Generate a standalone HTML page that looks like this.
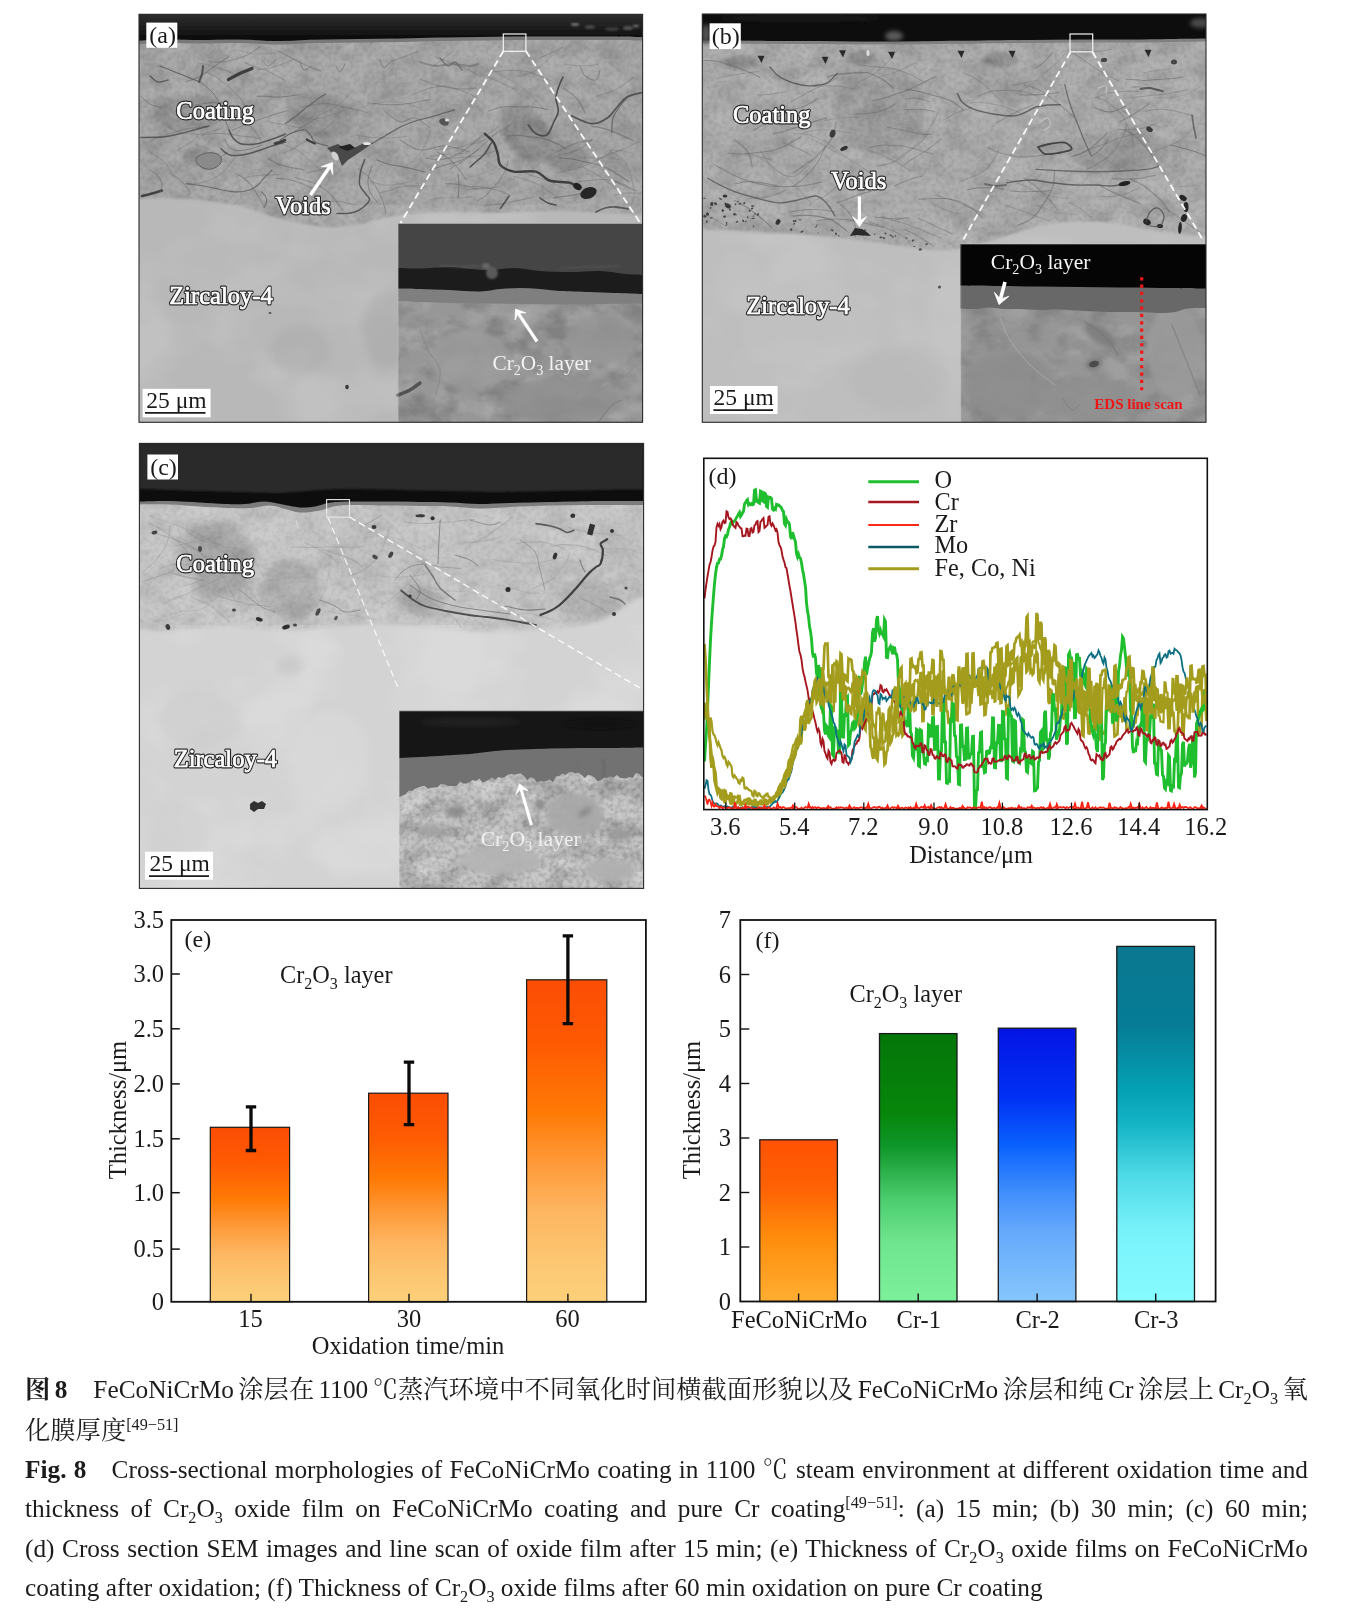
<!DOCTYPE html>
<html lang="zh"><head><meta charset="utf-8"><title>Fig. 8</title>
<style>
html,body{margin:0;padding:0;background:#fff;}
body{width:1346px;height:1610px;position:relative;overflow:hidden;font-family:"Liberation Serif","Noto Serif CJK SC",serif;color:#1a1a1a;}
svg{position:absolute;left:0;top:0;}
#wrap{position:absolute;left:0;top:0;width:1346px;height:1610px;will-change:transform;opacity:0.999;}
svg text{font-family:"Liberation Serif","Noto Serif CJK SC",serif;}
.cap{position:absolute;left:25px;width:1283px;font-size:25.3px;line-height:30px;height:30px;white-space:nowrap;text-align:justify;text-align-last:justify;color:#1c1c1c;}
.cap.last{text-align-last:left;}
.cap sub{font-size:16.2px;vertical-align:baseline;position:relative;top:6px;line-height:0;}
.cap sup{font-size:16.2px;vertical-align:baseline;position:relative;top:-9px;line-height:0;}
.g{display:inline-block;width:4.4px;}.g2{display:inline-block;width:26px;}
.cn{font-family:"Liberation Serif","Noto Serif CJK SC",serif;}
.ol{fill:#222;stroke:#262626;stroke-width:2.9px;stroke-linejoin:round;font-size:24.5px;}
.ol2{fill:#fff;stroke:#fff;stroke-width:0.7px;stroke-linejoin:round;font-size:24.5px;}
</style></head><body><div id="wrap">

<svg width="1346" height="1610" viewBox="0 0 1346 1610">
<defs>
<filter id="nzD" x="0" y="0" width="100%" height="100%" color-interpolation-filters="sRGB">
<feTurbulence type="fractalNoise" baseFrequency="0.035 0.05" numOctaves="4" seed="7" result="t"/>
<feColorMatrix type="matrix" values="0 0 0 0 0  0 0 0 0 0  0 0 0 0 0  3.2 0 0 0 -1.35"/>
</filter>
<filter id="nzL" x="0" y="0" width="100%" height="100%" color-interpolation-filters="sRGB">
<feTurbulence type="fractalNoise" baseFrequency="0.03 0.04" numOctaves="4" seed="23" result="t"/>
<feColorMatrix type="matrix" values="0 0 0 0 1  0 0 0 0 1  0 0 0 0 1  0 3.2 0 0 -1.35"/>
</filter>
<filter id="nzF" x="0" y="0" width="100%" height="100%" color-interpolation-filters="sRGB">
<feTurbulence type="fractalNoise" baseFrequency="0.22" numOctaves="2" seed="5"/>
<feColorMatrix type="matrix" values="0 0 0 0 0  0 0 0 0 0  0 0 0 0 0  2.6 0 0 0 -1.0"/>
</filter>
<filter id="nzS" x="0" y="0" width="100%" height="100%" color-interpolation-filters="sRGB">
<feTurbulence type="fractalNoise" baseFrequency="0.012 0.016" numOctaves="3" seed="41"/>
<feColorMatrix type="matrix" values="0 0 0 0 1  0 0 0 0 1  0 0 0 0 1  3.0 0 0 0 -1.2"/>
</filter>
<filter id="b05"><feGaussianBlur stdDeviation="0.6"/></filter>
<filter id="b1"><feGaussianBlur stdDeviation="1.1"/></filter>
<filter id="b2"><feGaussianBlur stdDeviation="2.2"/></filter>
<filter id="b4"><feGaussianBlur stdDeviation="4"/></filter>
</defs>
<clipPath id="cpa"><rect x="139.0" y="14.3" width="503.6" height="408.0"/></clipPath>
<linearGradient id="gta" x1="0" y1="0" x2="0" y2="1"><stop offset="0" stop-color="#2e2e2e"/><stop offset="0.55" stop-color="#1c1c1c"/><stop offset="1" stop-color="#070707"/></linearGradient>
<g clip-path="url(#cpa)">
<rect x="139.0" y="14.3" width="503.6" height="408.0" fill="#a8a8a8"/>
<g filter="url(#b2)">
<path d="M500.0 110.0C503.3 109.0 513.3 102.7 520.0 104.0C526.7 105.3 534.7 112.0 540.0 118.0C545.3 124.0 550.7 133.7 552.0 140.0C553.3 146.3 552.0 152.7 548.0 156.0C544.0 159.3 534.0 161.0 528.0 160.0C522.0 159.0 516.3 155.0 512.0 150.0C507.7 145.0 504.0 136.7 502.0 130.0C500.0 123.3 500.3 113.3 500.0 110.0" fill="#8e8e8e"/>
<path d="M540.0 150.0C543.3 148.3 553.3 140.7 560.0 140.0C566.7 139.3 575.0 142.7 580.0 146.0C585.0 149.3 590.8 156.0 590.0 160.0C589.2 164.0 581.7 169.0 575.0 170.0C568.3 171.0 555.8 169.3 550.0 166.0C544.2 162.7 541.7 152.7 540.0 150.0" fill="#909090"/>
<path d="M612.0 100.0C617.2 98.7 637.8 82.0 643.0 92.0C648.2 102.0 647.2 150.3 643.0 160.0C638.8 169.7 623.5 155.8 618.0 150.0C612.5 144.2 611.0 133.3 610.0 125.0C609.0 116.7 611.7 104.2 612.0 100.0" fill="#a4a4a4"/>
<path d="M150.0 100.0C156.7 99.2 177.5 94.2 190.0 95.0C202.5 95.8 220.8 100.0 225.0 105.0C229.2 110.0 224.2 120.8 215.0 125.0C205.8 129.2 180.8 134.2 170.0 130.0C159.2 125.8 153.3 105.0 150.0 100.0" fill="#949494"/>
<ellipse cx="196" cy="155" rx="14" ry="8" fill="#8e8e8e" fill-opacity="1" transform="rotate(-10 196 155)"/>
<ellipse cx="320" cy="115" rx="35" ry="22" fill="#969696" fill-opacity="1" transform="rotate(20 320 115)"/>
</g>
<rect x="139.0" y="36" width="503.6" height="200" filter="url(#nzD)" opacity="0.09"/>
<rect x="139.0" y="36" width="503.6" height="200" filter="url(#nzL)" opacity="0.08"/>
<rect x="139.0" y="36" width="503.6" height="200" filter="url(#nzF)" opacity="0.07"/>
<path d="M100.0 199.0C106.5 199.0 129.0 199.2 139.0 199.0C149.0 198.8 152.3 198.0 160.0 198.0C167.7 198.0 176.7 198.5 185.0 199.0C193.3 199.5 201.7 200.0 210.0 201.0C218.3 202.0 226.3 203.0 235.0 205.0C243.7 207.0 253.7 210.5 262.0 213.0C270.3 215.5 277.0 218.0 285.0 220.0C293.0 222.0 301.7 223.8 310.0 225.0C318.3 226.2 326.7 227.2 335.0 227.0C343.3 226.8 351.7 225.5 360.0 224.0C368.3 222.5 376.7 219.7 385.0 218.0C393.3 216.3 399.2 215.0 410.0 214.0C420.8 213.0 435.0 212.2 450.0 212.0C465.0 211.8 484.2 213.2 500.0 213.0C515.8 212.8 530.0 211.2 545.0 211.0C560.0 210.8 577.5 211.5 590.0 212.0C602.5 212.5 611.2 213.5 620.0 214.0C628.8 214.5 633.0 214.8 643.0 215.0C653.0 215.2 673.8 215.0 680.0 215.0L680.0 460.0L100.0 460.0Z" fill="#b8b8b8" filter="url(#b1)"/>
<rect x="139.0" y="205" width="503.6" height="218" filter="url(#nzS)" opacity="0.13"/>
<g filter="url(#b4)" opacity="0.55"><ellipse cx="390" cy="330" rx="28" ry="40" fill="#a8a8a8" fill-opacity="1"/><ellipse cx="300" cy="350" rx="30" ry="25" fill="#acacac" fill-opacity="1"/><ellipse cx="200" cy="260" rx="40" ry="20" fill="#bbbbbb" fill-opacity="1"/><ellipse cx="330" cy="300" rx="20" ry="30" fill="#bcbcbc" fill-opacity="1"/></g>
<ellipse cx="347" cy="387" rx="1.8" ry="2.2" fill="#3a3a3a" fill-opacity="1"/>
<ellipse cx="270" cy="313" rx="1.5" ry="1" fill="#555" fill-opacity="1"/>
<g filter="url(#b05)">
<g fill="none" stroke="#5a5a5a" stroke-linecap="round"><path d="M420.1 79.1C422.0 79.8 428.3 82.3 431.6 83.5C434.9 84.6 436.6 85.1 440.0 85.9C443.5 86.7 447.8 87.8 452.3 88.3C456.9 88.8 463.2 88.9 467.1 88.9C471.0 88.9 474.2 88.2 475.6 88.1" stroke-width="1.18" stroke-opacity="0.33"/><path d="M367.4 102.8C368.6 103.0 372.1 103.3 374.8 103.6C377.5 103.8 380.0 104.3 383.5 104.5C386.9 104.7 391.2 104.9 395.5 104.7C399.8 104.5 404.8 104.2 409.3 103.5C413.8 102.9 418.9 101.5 422.3 100.9C425.7 100.2 428.5 99.9 429.8 99.7" stroke-width="0.93" stroke-opacity="0.46"/><path d="M244.4 62.6C245.5 63.0 248.6 64.4 251.0 65.4C253.3 66.3 256.0 67.3 258.7 68.2C261.3 69.1 264.1 69.8 266.7 70.8C269.3 71.9 271.0 72.8 274.0 74.5C277.1 76.1 283.4 79.7 285.2 80.7" stroke-width="1.10" stroke-opacity="0.35"/><path d="M380.3 192.6C382.3 192.1 389.1 190.4 392.3 189.5C395.6 188.6 396.8 187.7 399.6 187.2C402.5 186.7 405.4 186.2 409.4 186.3C413.3 186.4 421.0 187.4 423.3 187.6" stroke-width="0.72" stroke-opacity="0.42"/><path d="M513.3 176.2C515.6 176.9 522.6 178.7 527.1 180.2C531.7 181.8 536.3 183.3 540.5 185.6C544.8 187.9 549.6 191.9 552.7 194.0C555.8 196.1 558.1 197.5 559.1 198.2" stroke-width="0.85" stroke-opacity="0.33"/><path d="M168.7 127.4C170.1 128.0 174.6 130.0 177.2 131.0C179.8 132.1 181.8 133.1 184.5 133.6C187.2 134.1 190.7 134.0 193.5 134.1C196.3 134.2 197.8 134.7 201.4 134.1C205.0 133.6 211.7 131.7 215.2 130.7C218.7 129.6 221.1 128.2 222.3 127.7" stroke-width="1.27" stroke-opacity="0.23"/><path d="M445.1 183.6C446.6 183.6 450.5 183.4 454.0 183.8C457.5 184.2 462.3 185.1 466.1 185.9C470.0 186.8 475.2 188.3 477.0 188.8" stroke-width="1.30" stroke-opacity="0.30"/><path d="M467.2 189.6C469.1 189.4 474.4 189.0 478.3 188.7C482.2 188.4 487.2 188.1 490.6 187.8C494.0 187.5 497.2 187.1 498.5 186.9" stroke-width="1.25" stroke-opacity="0.28"/><path d="M463.6 178.3C465.4 177.9 470.9 177.0 474.7 176.0C478.5 175.0 483.3 173.6 486.5 172.3C489.8 171.0 491.8 170.0 494.5 168.2C497.1 166.3 501.2 162.4 502.5 161.3" stroke-width="0.66" stroke-opacity="0.24"/><path d="M614.1 195.2C616.1 194.8 621.8 193.4 626.2 193.1C630.7 192.7 638.4 193.2 640.9 193.2" stroke-width="0.66" stroke-opacity="0.46"/><path d="M431.3 67.3C433.1 66.1 438.6 62.6 442.0 60.1C445.4 57.6 450.2 53.4 451.8 52.1" stroke-width="0.79" stroke-opacity="0.44"/><path d="M186.3 81.7C188.5 80.9 195.7 78.6 199.7 76.6C203.7 74.5 207.4 71.2 210.3 69.2C213.2 67.2 213.9 66.8 217.0 64.6C220.0 62.5 226.6 57.8 228.6 56.5" stroke-width="1.20" stroke-opacity="0.41"/><path d="M564.3 64.5C566.7 64.7 574.4 65.4 578.7 65.6C583.0 65.8 587.1 65.8 590.3 65.6C593.6 65.3 596.9 64.3 598.2 64.0" stroke-width="0.66" stroke-opacity="0.39"/><path d="M483.5 205.6C484.9 205.5 488.7 205.3 491.6 205.0C494.5 204.8 496.9 204.7 500.8 204.1C504.8 203.4 511.5 201.7 515.4 201.0C519.3 200.2 521.0 199.9 524.1 199.3C527.2 198.7 532.4 197.6 534.0 197.2" stroke-width="0.74" stroke-opacity="0.45"/><path d="M583.1 167.2C584.4 167.9 588.4 170.0 591.0 171.4C593.6 172.8 596.1 174.0 598.9 175.7C601.6 177.4 604.4 179.4 607.2 181.6C610.0 183.7 613.2 186.5 615.6 188.6C618.1 190.7 621.0 193.3 622.1 194.2" stroke-width="0.65" stroke-opacity="0.47"/><path d="M450.4 155.8C452.9 155.9 461.5 156.0 465.2 156.2C468.9 156.4 470.1 156.7 472.6 157.1C475.1 157.6 477.3 158.0 480.1 158.9C482.9 159.8 486.8 161.4 489.4 162.7C491.9 164.0 493.4 165.4 495.6 166.6C497.7 167.9 501.0 169.5 502.0 170.1" stroke-width="0.63" stroke-opacity="0.26"/><path d="M615.3 181.4C617.2 182.3 622.9 185.2 626.4 186.8C629.8 188.3 634.5 190.0 636.1 190.7" stroke-width="1.06" stroke-opacity="0.46"/><path d="M206.6 72.1C208.1 72.9 213.3 75.2 215.9 76.7C218.4 78.2 219.1 79.0 221.7 81.1C224.4 83.2 228.5 86.3 231.6 89.2C234.6 92.1 237.8 95.1 240.2 98.3C242.7 101.5 245.4 106.9 246.4 108.6" stroke-width="0.73" stroke-opacity="0.48"/><path d="M256.9 69.5C258.9 69.3 264.5 69.1 268.8 68.2C273.2 67.2 278.9 65.4 283.2 63.8C287.5 62.3 292.7 59.7 294.6 58.9" stroke-width="0.88" stroke-opacity="0.33"/><path d="M507.3 136.0C509.5 135.9 517.0 135.4 520.4 135.5C523.8 135.6 524.6 136.2 527.8 136.6C531.0 136.9 536.0 137.1 539.4 137.7C542.8 138.3 544.9 139.0 548.1 140.2C551.3 141.3 555.4 143.0 558.5 144.5C561.6 146.0 565.2 148.3 566.6 149.1" stroke-width="1.26" stroke-opacity="0.49"/><path d="M406.2 165.4C407.4 164.6 410.7 162.8 413.2 160.5C415.7 158.3 418.8 155.5 421.2 151.9C423.7 148.2 426.3 142.2 427.8 138.6C429.2 135.0 429.6 131.8 430.0 130.4" stroke-width="0.98" stroke-opacity="0.24"/><path d="M312.8 199.8C314.0 199.9 317.3 200.2 319.8 200.4C322.3 200.7 324.3 200.9 328.0 201.1C331.7 201.4 337.7 201.2 342.1 201.9C346.5 202.6 352.4 204.6 354.4 205.1" stroke-width="0.81" stroke-opacity="0.46"/><path d="M294.5 177.7C296.7 178.3 304.3 179.9 307.9 181.0C311.5 182.1 312.7 182.4 316.1 184.2C319.5 186.1 325.3 189.5 328.4 192.2C331.6 194.8 332.9 197.0 335.3 200.0C337.6 202.9 341.3 208.3 342.5 209.9" stroke-width="1.33" stroke-opacity="0.33"/><path d="M394.4 181.9C396.1 182.4 401.4 184.4 404.5 185.0C407.6 185.6 410.0 185.5 413.1 185.6C416.3 185.7 419.4 185.7 423.5 185.7C427.5 185.8 435.1 185.9 437.4 186.0" stroke-width="0.64" stroke-opacity="0.27"/><path d="M201.9 135.2C204.0 134.9 209.9 133.8 214.3 133.5C218.7 133.3 223.8 133.5 228.4 133.9C233.0 134.4 238.2 135.6 241.8 136.1C245.5 136.6 247.2 136.3 250.2 136.8C253.2 137.2 258.3 138.4 259.9 138.7" stroke-width="0.77" stroke-opacity="0.46"/><path d="M553.2 157.5C554.8 157.1 559.5 155.7 562.8 154.8C566.1 153.8 569.5 153.2 573.0 151.8C576.6 150.4 580.9 148.4 584.1 146.3C587.3 144.3 590.8 140.7 592.2 139.5" stroke-width="1.11" stroke-opacity="0.32"/><path d="M581.6 157.8C583.3 157.8 587.4 157.8 591.5 157.8C595.6 157.8 601.6 157.6 606.3 157.8C610.9 158.1 617.3 159.2 619.5 159.5" stroke-width="0.85" stroke-opacity="0.30"/><path d="M244.9 177.8C246.4 177.5 250.5 176.4 254.0 175.9C257.4 175.4 262.3 175.1 265.6 175.0C268.9 174.8 271.2 175.0 273.7 174.8C276.3 174.7 279.7 174.2 280.9 174.0" stroke-width="0.93" stroke-opacity="0.31"/><path d="M276.2 141.0C277.9 141.8 283.0 144.3 286.3 145.7C289.6 147.2 293.1 148.1 296.0 149.7C298.9 151.2 301.5 153.2 303.8 155.1C306.1 157.0 307.3 158.6 310.0 161.0C312.7 163.4 316.8 166.8 320.1 169.6C323.3 172.4 327.8 176.5 329.3 177.9" stroke-width="0.85" stroke-opacity="0.30"/><path d="M307.1 172.9C308.6 172.6 313.4 171.6 316.1 170.9C318.9 170.2 321.0 169.5 323.5 168.9C326.0 168.4 329.9 168.0 331.2 167.8" stroke-width="0.91" stroke-opacity="0.42"/><path d="M301.7 118.3C303.5 118.4 309.0 119.1 312.5 119.0C316.0 118.8 319.6 118.3 322.7 117.6C325.8 116.9 328.5 115.7 331.1 114.9C333.7 114.0 335.0 113.8 338.4 112.5C341.8 111.2 349.5 108.2 351.7 107.3" stroke-width="0.77" stroke-opacity="0.33"/><path d="M579.3 181.6C580.9 181.4 584.9 180.8 589.0 180.5C593.0 180.1 599.0 179.3 603.6 179.5C608.2 179.7 612.5 180.4 616.5 181.5C620.4 182.5 625.7 185.1 627.6 185.8" stroke-width="0.83" stroke-opacity="0.45"/><path d="M488.0 77.1C489.9 77.9 495.8 80.3 499.3 81.9C502.9 83.6 506.6 85.6 509.4 86.9C512.2 88.3 515.0 89.5 516.1 90.0" stroke-width="0.72" stroke-opacity="0.36"/><path d="M491.7 72.0C494.0 71.7 501.4 70.7 505.5 70.4C509.7 70.2 512.9 70.2 516.6 70.4C520.4 70.6 524.1 70.8 527.9 71.7C531.7 72.6 535.6 74.5 539.4 76.0C543.2 77.6 548.9 80.2 550.8 81.0" stroke-width="1.04" stroke-opacity="0.35"/><path d="M199.3 63.4C200.5 63.6 203.4 63.8 206.6 64.6C209.9 65.5 215.8 67.3 218.9 68.3C222.1 69.2 223.0 69.5 225.6 70.5C228.2 71.5 233.0 73.6 234.5 74.2" stroke-width="0.72" stroke-opacity="0.40"/><path d="M434.9 149.7C437.1 149.6 443.9 149.3 448.5 148.8C453.0 148.3 458.4 147.6 462.1 146.7C465.7 145.8 467.9 144.4 470.4 143.3C472.8 142.2 473.9 141.6 477.0 139.9C480.1 138.2 485.4 135.4 489.1 133.1C492.7 130.9 497.2 127.6 498.9 126.6" stroke-width="1.24" stroke-opacity="0.26"/><path d="M172.9 174.7C174.7 176.1 180.6 180.3 183.5 183.4C186.4 186.5 189.3 191.5 190.4 193.2" stroke-width="1.03" stroke-opacity="0.36"/><path d="M449.6 169.0C450.8 168.4 454.1 166.6 456.8 165.0C459.5 163.4 462.4 161.9 465.7 159.5C469.1 157.0 474.1 152.7 477.0 150.3C480.0 147.9 480.9 146.9 483.2 144.9C485.5 142.8 488.3 140.6 491.0 138.0C493.8 135.4 498.3 130.8 499.7 129.3" stroke-width="1.22" stroke-opacity="0.28"/><path d="M517.4 76.9C519.1 76.4 524.6 75.3 527.7 74.2C530.8 73.1 533.3 71.9 536.0 70.2C538.7 68.4 541.0 66.0 543.8 63.4C546.6 60.9 551.4 56.3 552.9 54.9" stroke-width="0.80" stroke-opacity="0.34"/><path d="M426.6 158.3C428.6 158.5 435.1 159.5 438.7 159.4C442.3 159.4 445.0 159.2 448.3 158.2C451.6 157.3 455.0 155.7 458.6 153.7C462.2 151.7 467.0 148.3 469.9 146.0C472.9 143.8 474.4 142.1 476.5 140.2C478.5 138.4 481.4 135.8 482.3 135.0" stroke-width="1.24" stroke-opacity="0.35"/><path d="M492.7 70.1C494.5 71.1 499.6 74.0 503.5 76.2C507.4 78.4 513.0 81.5 516.1 83.4C519.3 85.4 520.6 86.2 522.7 87.8C524.7 89.4 526.1 90.8 528.6 93.2C531.1 95.6 534.9 99.4 537.7 102.2C540.4 105.1 543.8 109.0 545.0 110.4" stroke-width="0.64" stroke-opacity="0.30"/><path d="M267.9 158.6C269.9 159.6 276.1 163.2 279.7 164.7C283.3 166.2 285.6 166.6 289.6 167.4C293.6 168.2 301.2 169.3 303.5 169.6" stroke-width="1.34" stroke-opacity="0.40"/><path d="M448.6 158.0C450.5 158.0 455.4 158.1 459.5 157.8C463.7 157.5 469.6 156.9 473.6 156.4C477.5 155.9 479.6 155.9 483.5 154.9C487.3 153.9 494.4 151.1 496.6 150.4" stroke-width="0.94" stroke-opacity="0.31"/><path d="M558.8 157.8C561.0 158.0 567.5 158.3 572.0 159.0C576.6 159.7 582.4 161.3 586.0 162.1C589.7 162.9 590.4 162.7 593.9 163.7C597.3 164.7 602.4 166.0 606.6 167.9C610.8 169.8 615.4 172.9 619.1 175.1C622.7 177.4 626.9 180.5 628.5 181.5" stroke-width="1.18" stroke-opacity="0.49"/><path d="M287.8 134.5C289.1 133.9 292.6 132.4 295.8 130.7C299.0 129.0 303.0 126.4 306.8 124.1C310.6 121.8 316.5 118.0 318.4 116.7" stroke-width="1.28" stroke-opacity="0.30"/><path d="M358.0 168.9C359.5 170.0 364.6 173.0 367.1 175.4C369.7 177.8 371.4 180.4 373.3 183.2C375.3 186.0 377.3 188.7 378.9 192.0C380.6 195.2 382.1 199.2 383.3 202.8C384.5 206.3 385.5 211.6 386.0 213.4" stroke-width="1.15" stroke-opacity="0.37"/><path d="M178.1 149.8C179.4 149.0 183.4 146.7 185.7 145.3C188.0 143.9 189.8 142.9 191.9 141.2C194.0 139.5 197.1 136.1 198.2 135.1" stroke-width="0.83" stroke-opacity="0.36"/><path d="M563.0 88.0C564.0 88.6 566.5 89.8 569.1 91.9C571.7 94.1 576.0 97.5 578.7 101.0C581.4 104.5 584.0 111.0 585.1 113.0" stroke-width="1.23" stroke-opacity="0.36"/><path d="M473.2 186.1C475.7 186.4 483.5 187.2 488.0 188.1C492.5 188.9 496.7 190.1 500.2 191.2C503.7 192.4 507.5 194.2 509.0 194.7" stroke-width="0.77" stroke-opacity="0.45"/><path d="M282.9 153.3C284.6 152.6 290.1 150.4 293.0 148.9C295.8 147.5 297.4 146.2 300.0 144.6C302.5 143.0 305.7 141.1 308.4 139.4C311.1 137.6 313.2 136.2 316.2 134.2C319.3 132.2 323.6 129.8 326.5 127.6C329.3 125.5 332.0 122.3 333.1 121.2" stroke-width="0.98" stroke-opacity="0.30"/><path d="M430.2 199.5C431.9 199.2 437.4 198.4 440.4 198.1C443.4 197.8 444.5 197.8 448.1 197.8C451.6 197.7 457.6 197.8 461.6 197.7C465.6 197.5 470.4 197.0 472.2 196.9" stroke-width="0.79" stroke-opacity="0.30"/><path d="M278.0 50.9C280.0 51.9 286.3 55.2 289.9 57.1C293.5 59.0 296.1 60.6 299.5 62.2C302.9 63.9 306.7 65.4 310.2 66.8C313.7 68.2 318.8 70.1 320.6 70.8" stroke-width="1.28" stroke-opacity="0.36"/><path d="M370.2 181.0C371.4 181.4 374.2 182.8 377.1 183.5C380.1 184.2 383.9 185.1 388.0 185.1C392.1 185.2 397.9 184.2 401.8 183.6C405.7 183.0 409.8 181.7 411.4 181.4" stroke-width="0.72" stroke-opacity="0.36"/><path d="M230.1 112.9C232.2 114.0 239.1 116.9 243.0 119.8C247.0 122.6 250.7 126.3 253.7 129.8C256.8 133.3 260.1 139.0 261.4 140.8" stroke-width="1.04" stroke-opacity="0.34"/><path d="M238.0 174.8C239.1 175.5 242.3 176.9 244.7 178.9C247.0 180.8 249.6 183.0 252.1 186.4C254.6 189.7 257.8 195.5 259.7 198.8C261.6 202.2 263.0 205.1 263.7 206.3" stroke-width="1.06" stroke-opacity="0.42"/><path d="M426.1 158.1C428.2 157.6 434.5 155.6 438.9 155.0C443.3 154.3 447.8 154.5 452.4 154.2C457.1 153.9 464.5 153.3 466.9 153.1" stroke-width="0.69" stroke-opacity="0.42"/><path d="M196.9 165.2C198.8 164.8 204.3 164.3 208.1 163.0C211.9 161.7 216.4 159.0 219.7 157.3C222.9 155.5 226.1 153.5 227.4 152.7" stroke-width="1.20" stroke-opacity="0.36"/><path d="M149.0 151.8C150.7 152.9 156.4 156.2 159.3 158.2C162.1 160.3 163.8 160.9 166.1 164.0C168.5 167.2 172.2 174.8 173.4 177.0" stroke-width="0.71" stroke-opacity="0.39"/><path d="M470.6 144.6C472.0 144.2 476.0 143.2 479.1 141.9C482.3 140.7 486.1 138.9 489.5 137.2C492.8 135.6 496.5 133.6 499.3 132.1C502.0 130.5 503.8 129.6 506.0 128.0C508.3 126.4 511.7 123.4 512.9 122.5" stroke-width="1.33" stroke-opacity="0.25"/><path d="M301.3 107.2C303.1 106.8 308.5 105.6 312.2 105.0C315.8 104.4 319.6 103.8 323.2 103.7C326.8 103.6 330.2 103.8 333.7 104.4C337.1 105.0 339.6 106.2 343.8 107.1C347.9 108.1 354.4 109.1 358.4 110.1C362.3 111.0 365.8 112.3 367.3 112.8" stroke-width="0.79" stroke-opacity="0.44"/><path d="M232.3 130.3C234.1 129.5 239.1 127.1 243.0 125.5C246.8 123.9 251.5 122.1 255.4 120.7C259.3 119.4 263.1 118.4 266.3 117.3C269.5 116.2 271.0 115.4 274.6 114.3C278.2 113.2 285.8 111.1 288.1 110.5" stroke-width="0.96" stroke-opacity="0.49"/><path d="M594.6 160.2C596.1 159.7 600.8 158.3 603.5 157.2C606.2 156.1 607.9 154.8 610.8 153.6C613.7 152.4 617.2 151.7 621.1 150.1C625.0 148.5 631.0 145.5 634.3 143.9C637.6 142.4 639.8 141.2 640.9 140.6" stroke-width="0.74" stroke-opacity="0.42"/><path d="M195.1 144.3C197.2 145.0 204.1 147.3 207.5 148.7C211.0 150.0 212.6 150.4 215.7 152.6C218.7 154.9 222.7 158.8 225.9 162.2C229.0 165.6 232.2 169.1 234.4 172.8C236.7 176.6 238.2 180.3 239.3 184.6C240.4 188.9 240.8 196.3 241.1 198.6" stroke-width="0.68" stroke-opacity="0.24"/><path d="M276.1 178.4C278.4 178.6 285.9 179.0 289.7 179.7C293.5 180.4 295.2 181.2 299.0 182.6C302.8 184.0 310.1 187.3 312.3 188.2" stroke-width="1.06" stroke-opacity="0.42"/><path d="M355.5 135.0C356.7 135.2 359.6 135.8 362.5 136.2C365.4 136.6 369.3 137.2 372.9 137.5C376.5 137.8 380.2 138.0 383.9 138.1C387.6 138.1 391.4 137.9 395.1 137.6C398.8 137.3 404.3 136.5 406.2 136.3" stroke-width="0.89" stroke-opacity="0.30"/><path d="M523.6 172.2C525.5 172.9 531.5 175.5 535.0 176.8C538.5 178.0 541.1 178.1 544.8 179.5C548.6 181.0 554.0 183.6 557.5 185.3C561.1 186.9 564.8 188.7 566.2 189.3" stroke-width="0.71" stroke-opacity="0.48"/><path d="M177.0 110.6C179.1 109.8 185.2 107.0 189.3 105.9C193.5 104.8 198.4 104.5 201.7 104.0C205.0 103.5 206.7 103.2 209.3 102.9C211.9 102.6 214.6 102.4 217.2 102.4C219.8 102.4 223.5 102.9 224.8 103.0" stroke-width="1.07" stroke-opacity="0.42"/><path d="M539.0 58.4C540.7 57.6 546.2 55.2 549.0 54.0C551.9 52.7 553.7 51.9 556.0 50.8C558.3 49.7 561.6 47.8 562.7 47.2" stroke-width="0.75" stroke-opacity="0.49"/><path d="M488.7 111.1C490.1 110.6 494.1 109.1 496.9 108.4C499.6 107.7 501.5 107.0 505.4 106.7C509.3 106.5 516.2 107.0 520.2 107.0C524.2 107.1 526.4 106.8 529.4 106.9C532.5 107.1 535.3 107.4 538.3 107.8C541.4 108.3 546.3 109.3 547.9 109.6" stroke-width="1.00" stroke-opacity="0.47"/><path d="M310.6 117.7C312.4 117.1 317.4 115.7 321.2 114.1C324.9 112.6 329.3 110.7 333.2 108.2C337.1 105.8 341.5 102.2 344.6 99.4C347.6 96.6 350.5 92.6 351.7 91.3" stroke-width="0.63" stroke-opacity="0.42"/><path d="M477.2 200.8C478.5 200.0 482.3 198.4 485.0 196.2C487.7 193.9 491.3 189.6 493.5 187.2C495.8 184.8 496.5 184.5 498.5 181.8C500.4 179.1 503.5 174.5 505.1 170.9C506.8 167.4 507.7 162.3 508.2 160.6" stroke-width="0.84" stroke-opacity="0.48"/><path d="M184.7 183.9C185.9 183.9 188.5 184.2 192.0 183.9C195.4 183.5 201.0 183.1 205.4 181.7C209.9 180.3 214.8 178.0 218.6 175.4C222.5 172.8 225.5 169.3 228.3 166.1C231.1 163.0 234.3 157.9 235.5 156.2" stroke-width="0.80" stroke-opacity="0.36"/><path d="M591.9 126.3C593.3 126.6 597.1 127.0 600.3 127.7C603.6 128.5 607.3 129.5 611.3 130.9C615.3 132.4 620.5 134.8 624.1 136.4C627.7 138.0 631.4 139.8 632.9 140.5" stroke-width="1.29" stroke-opacity="0.47"/><path d="M435.7 56.9C437.3 57.5 441.4 59.0 445.1 60.5C448.8 62.0 454.3 64.2 458.0 65.7C461.8 67.1 463.7 67.4 467.4 69.2C471.1 71.1 478.1 75.5 480.2 76.8" stroke-width="0.80" stroke-opacity="0.43"/><path d="M596.4 96.2C598.0 95.7 602.5 94.4 605.8 93.3C609.0 92.2 612.9 91.2 615.9 89.7C619.0 88.1 621.1 86.2 624.0 84.2C626.9 82.2 631.9 78.9 633.5 77.8" stroke-width="1.19" stroke-opacity="0.26"/><path d="M366.0 105.8C368.3 105.3 376.2 103.4 380.0 102.7C383.8 102.0 385.5 101.8 388.6 101.7C391.7 101.6 395.3 101.8 398.6 102.2C402.0 102.6 404.8 103.1 408.6 104.2C412.4 105.3 419.1 108.0 421.2 108.7" stroke-width="0.72" stroke-opacity="0.31"/><path d="M209.9 61.6C211.3 61.7 215.3 62.3 218.3 62.2C221.3 62.2 224.1 61.9 227.8 61.2C231.6 60.4 236.8 58.9 240.7 57.6C244.5 56.3 247.5 55.0 250.9 53.1C254.2 51.2 259.2 47.4 260.8 46.2" stroke-width="1.05" stroke-opacity="0.38"/><path d="M555.6 152.3C557.8 151.3 564.7 148.1 568.7 146.4C572.7 144.7 575.8 143.2 579.6 142.2C583.4 141.2 589.5 140.7 591.5 140.4" stroke-width="1.25" stroke-opacity="0.37"/><path d="M411.3 95.2C412.9 94.6 417.5 92.6 421.0 91.4C424.4 90.1 428.0 88.4 431.9 87.5C435.8 86.7 440.7 86.2 444.3 86.3C448.0 86.4 450.4 87.0 453.9 88.0C457.5 89.0 461.9 90.5 465.7 92.1C469.6 93.8 475.0 96.9 476.9 97.9" stroke-width="0.87" stroke-opacity="0.39"/><path d="M610.9 151.9C612.4 152.8 617.4 155.2 619.9 157.1C622.3 159.0 623.9 160.3 625.6 163.3C627.4 166.3 629.2 171.1 630.5 175.0C631.8 179.0 632.8 183.8 633.4 187.2C634.0 190.5 634.3 192.2 634.0 195.1C633.6 198.1 631.9 203.4 631.5 205.0" stroke-width="1.04" stroke-opacity="0.25"/><path d="M553.3 197.9C555.7 197.6 563.8 196.4 568.0 195.8C572.1 195.2 574.9 194.9 578.0 194.1C581.0 193.4 585.0 191.6 586.4 191.1" stroke-width="1.19" stroke-opacity="0.48"/><path d="M257.1 96.2C258.8 96.2 264.1 96.1 267.2 96.3C270.2 96.4 272.4 97.0 275.6 97.1C278.8 97.1 282.3 96.8 286.2 96.4C290.0 96.0 296.7 95.0 298.9 94.7" stroke-width="1.05" stroke-opacity="0.49"/><path d="M151.0 140.5C152.4 140.0 155.9 138.6 159.1 137.4C162.4 136.2 167.4 134.5 170.5 133.5C173.6 132.5 175.2 132.1 177.7 131.4C180.2 130.7 182.4 130.0 185.3 129.4C188.3 128.7 192.2 128.2 195.6 127.8C199.0 127.3 204.1 126.7 205.8 126.4" stroke-width="1.15" stroke-opacity="0.37"/><path d="M267.0 121.0C268.7 121.4 273.8 122.9 276.9 123.5C280.1 124.2 282.6 124.2 285.8 124.8C289.0 125.5 292.8 126.8 296.2 127.4C299.7 127.9 304.7 128.0 306.4 128.1" stroke-width="0.80" stroke-opacity="0.37"/><path d="M610.3 150.6C612.1 150.6 617.8 150.1 621.6 150.6C625.3 151.1 631.0 152.9 632.8 153.4" stroke-width="0.88" stroke-opacity="0.25"/><path d="M391.6 61.2C393.1 60.6 398.1 58.8 401.0 57.8C403.9 56.8 406.2 56.1 409.0 55.0C411.9 54.0 416.5 52.0 418.0 51.4" stroke-width="1.17" stroke-opacity="0.34"/><path d="M238.5 50.4C240.9 50.9 248.2 52.9 252.8 53.5C257.4 54.0 262.7 53.8 266.2 53.7C269.8 53.6 271.8 53.4 274.4 53.1C277.0 52.8 279.3 52.7 281.9 51.9C284.5 51.1 288.7 49.1 290.0 48.5" stroke-width="0.65" stroke-opacity="0.25"/><path d="M556.1 173.0C557.8 172.7 563.1 171.9 566.4 171.1C569.7 170.4 572.6 169.4 575.9 168.5C579.2 167.5 582.5 166.7 586.2 165.2C589.9 163.7 594.6 161.4 598.1 159.7C601.6 157.9 604.7 156.3 607.2 154.5C609.7 152.7 612.2 149.9 613.2 148.9" stroke-width="0.66" stroke-opacity="0.43"/></g>
<path d="M141.0 137.5C145.0 137.4 158.8 137.4 165.0 136.8C171.2 136.2 172.8 135.3 178.4 134.0C184.0 132.7 193.3 130.1 198.4 128.8C203.5 127.5 207.2 126.5 209.0 126.0" fill="none" stroke="#4e4e4e" stroke-width="1.5" stroke-opacity="0.85" stroke-linecap="round"/>
<path d="M229.0 130.0C229.7 131.3 231.2 135.8 233.0 138.0C234.8 140.2 237.3 142.4 240.0 143.5C242.7 144.6 245.9 144.5 249.0 144.5C252.1 144.5 255.4 144.2 258.6 143.5C261.8 142.8 264.6 141.6 268.0 140.5C271.4 139.4 275.8 137.9 278.7 136.8C281.6 135.7 284.3 134.5 285.4 134.0" fill="none" stroke="#4a4a4a" stroke-width="1.6" stroke-opacity="0.85" stroke-linecap="round"/>
<path d="M221.0 148.8C221.8 149.5 224.2 151.9 226.0 153.0C227.8 154.1 229.3 155.2 232.0 155.5C234.7 155.8 238.7 155.4 242.0 155.0C245.3 154.6 248.7 153.7 252.0 152.8C255.3 151.9 258.7 150.6 262.0 149.5C265.3 148.4 268.1 147.2 272.0 146.0C275.9 144.8 283.2 142.7 285.4 142.0" fill="none" stroke="#4a4a4a" stroke-width="1.5" stroke-opacity="0.85" stroke-linecap="round"/>
<path d="M225.0 140.0C225.8 141.3 227.8 146.2 230.0 148.0C232.2 149.8 234.7 150.3 238.0 150.5C241.3 150.7 246.0 149.9 250.0 149.0C254.0 148.1 260.0 145.7 262.0 145.0" fill="none" stroke="#666" stroke-width="1.0" stroke-opacity="0.6" stroke-linecap="round"/>
<path d="M275.0 143.5C275.8 143.2 278.3 142.6 280.0 142.0C281.7 141.4 284.2 140.3 285.0 140.0" fill="none" stroke="#333" stroke-width="2.6" stroke-opacity="0.9" stroke-linecap="round"/>
<path d="M196.0 158.0C197.3 157.2 201.0 154.3 204.0 153.5C207.0 152.7 211.2 152.4 214.0 153.0C216.8 153.6 220.0 155.2 221.0 157.0C222.0 158.8 221.5 162.0 220.0 164.0C218.5 166.0 214.8 168.3 212.0 169.0C209.2 169.7 205.5 169.0 203.0 168.0C200.5 167.0 198.2 164.7 197.0 163.0C195.8 161.3 196.2 158.8 196.0 158.0" fill="#8a8a8a" stroke="#5a5a5a" stroke-width="0.9"/>
<path d="M186.4 183.6C189.5 184.1 199.7 185.4 205.0 186.3C210.3 187.2 213.5 188.1 218.0 189.0C222.5 189.9 227.8 191.2 232.0 191.6C236.2 192.0 239.7 191.9 243.0 191.5C246.3 191.1 249.3 190.2 252.0 189.0C254.7 187.8 257.0 185.8 259.0 184.0C261.0 182.2 261.8 180.3 264.0 178.0C266.2 175.7 270.7 171.3 272.0 170.0" fill="none" stroke="#5a5a5a" stroke-width="1.1" stroke-opacity="0.75" stroke-linecap="round"/>
<path d="M261.3 191.6C261.9 192.2 264.1 194.2 265.0 195.5C265.9 196.8 266.4 198.3 266.6 199.7C266.8 201.1 266.4 202.7 266.0 204.0C265.6 205.3 264.3 207.1 264.0 207.7" fill="none" stroke="#5a5a5a" stroke-width="1.1" stroke-opacity="0.7" stroke-linecap="round"/>
<path d="M285.4 123.4C286.5 122.7 289.8 120.6 292.0 119.0C294.2 117.4 296.5 115.8 298.7 114.0C300.9 112.2 302.8 110.3 305.0 108.5C307.2 106.7 309.8 105.1 312.0 103.4C314.2 101.7 316.2 100.1 318.5 98.5C320.8 96.9 324.3 94.8 325.5 94.0" fill="none" stroke="#5a5a5a" stroke-width="1.2" stroke-opacity="0.75" stroke-linecap="round"/>
<path d="M306.8 139.5C307.5 139.9 309.7 141.1 311.0 141.8C312.3 142.5 314.2 143.2 314.8 143.5" fill="none" stroke="#333" stroke-width="2.2" stroke-opacity="0.9" stroke-linecap="round"/>
<path d="M280.0 140.0C282.0 138.8 287.8 134.7 292.0 133.0C296.2 131.3 301.8 129.5 305.0 130.0C308.2 130.5 309.3 134.0 311.0 136.0C312.7 138.0 312.2 140.3 315.0 142.0C317.8 143.7 325.8 145.3 328.0 146.0" fill="none" stroke="#555" stroke-width="1.2" stroke-opacity="0.75" stroke-linecap="round"/>
<path d="M372.0 143.5C374.2 142.2 380.4 138.7 385.0 136.0C389.6 133.3 394.8 129.7 399.6 127.3C404.4 124.9 409.0 123.2 414.0 121.5C419.0 119.8 424.8 118.6 429.5 117.3C434.2 116.0 437.8 114.8 442.0 113.5C446.2 112.2 452.4 110.4 454.5 109.8" fill="none" stroke="#555" stroke-width="1.3" stroke-opacity="0.75" stroke-linecap="round"/>
<path d="M364.6 159.8C363.9 161.8 361.3 167.8 360.5 172.0C359.7 176.2 358.9 181.2 359.6 184.7C360.4 188.2 363.3 190.5 365.0 193.0C366.7 195.5 369.9 197.3 369.6 199.7C369.3 202.1 365.5 205.4 363.0 207.5C360.5 209.6 357.5 211.0 354.7 212.0C351.9 213.0 348.9 213.3 346.0 213.5C343.1 213.7 338.5 213.4 337.0 213.4" fill="none" stroke="#4a4a4a" stroke-width="1.5" stroke-opacity="0.85" stroke-linecap="round"/>
<path d="M372.0 166.0C371.3 168.3 368.3 175.7 368.0 180.0C367.7 184.3 368.5 188.3 370.0 192.0C371.5 195.7 375.8 200.3 377.0 202.0" fill="none" stroke="#666" stroke-width="1.0" stroke-opacity="0.6" stroke-linecap="round"/>
<path d="M377.0 160.0C379.2 160.8 385.4 163.3 390.0 164.5C394.6 165.7 400.4 166.2 404.6 167.0C408.8 167.8 411.7 168.7 415.0 169.5C418.3 170.3 422.9 171.6 424.5 172.0" fill="none" stroke="#5e5e5e" stroke-width="1.1" stroke-opacity="0.7" stroke-linecap="round"/>
<path d="M437.0 152.0C438.8 153.0 444.5 155.3 448.0 158.0C451.5 160.7 455.0 164.3 458.0 168.0C461.0 171.7 464.7 178.0 466.0 180.0" fill="none" stroke="#666" stroke-width="1.0" stroke-opacity="0.6" stroke-linecap="round"/>
<path d="M141.0 96.0C142.5 97.3 146.5 102.0 150.0 104.0C153.5 106.0 160.0 107.3 162.0 108.0" fill="none" stroke="#666" stroke-width="1.0" stroke-opacity="0.6" stroke-linecap="round"/>
<path d="M150.0 76.0C151.3 77.0 155.0 81.3 158.0 82.0C161.0 82.7 166.3 80.3 168.0 80.0" fill="none" stroke="#4e4e4e" stroke-width="1.4" stroke-opacity="0.8" stroke-linecap="round"/>
<path d="M228.4 79.5C230.3 78.5 236.1 75.3 240.0 73.5C243.9 71.7 250.0 69.3 252.0 68.5" fill="none" stroke="#3a3a3a" stroke-width="3.2" stroke-opacity="0.95" stroke-linecap="round"/>
<path d="M160.0 66.0C162.5 67.0 170.0 70.0 175.0 72.0C180.0 74.0 185.8 76.3 190.0 78.0C194.2 79.7 198.3 81.3 200.0 82.0" fill="none" stroke="#555" stroke-width="1.2" stroke-opacity="0.8" stroke-linecap="round"/>
<path d="M203.0 66.0C202.8 67.3 202.7 71.3 202.0 74.0C201.3 76.7 199.5 80.7 199.0 82.0" fill="none" stroke="#444" stroke-width="2.0" stroke-opacity="0.85" stroke-linecap="round"/>
<path d="M142.0 196.0C143.7 195.6 148.7 194.4 152.0 193.5C155.3 192.6 160.3 191.0 162.0 190.5" fill="none" stroke="#383838" stroke-width="2.4" stroke-opacity="0.9" stroke-linecap="round"/>
<path d="M200.0 82.0C202.0 83.7 208.7 88.3 212.0 92.0C215.3 95.7 218.0 100.0 220.0 104.0C222.0 108.0 222.5 111.7 224.0 116.0C225.5 120.3 228.2 127.7 229.0 130.0" fill="none" stroke="#666" stroke-width="1.0" stroke-opacity="0.65" stroke-linecap="round"/>
<path d="M150.0 170.0C151.3 171.0 156.0 173.7 158.0 176.0C160.0 178.3 161.7 181.3 162.0 184.0C162.3 186.7 160.3 190.7 160.0 192.0" fill="none" stroke="#666" stroke-width="1.0" stroke-opacity="0.6" stroke-linecap="round"/>
<path d="M300.0 62.0C300.7 63.3 302.0 69.3 304.0 70.0C306.0 70.7 310.7 66.7 312.0 66.0" fill="none" stroke="#666" stroke-width="1.0" stroke-opacity="0.6" stroke-linecap="round"/>
<path d="M336.0 66.0C336.7 67.0 338.5 72.3 340.0 72.0C341.5 71.7 344.2 65.3 345.0 64.0" fill="none" stroke="#666" stroke-width="1.0" stroke-opacity="0.6" stroke-linecap="round"/>
<path d="M262.0 60.0C263.0 61.0 265.7 66.0 268.0 66.0C270.3 66.0 274.7 61.0 276.0 60.0" fill="none" stroke="#6a6a6a" stroke-width="1.0" stroke-opacity="0.6" stroke-linecap="round"/>
<path d="M380.0 60.0C380.7 61.3 382.3 67.7 384.0 68.0C385.7 68.3 389.0 63.0 390.0 62.0" fill="none" stroke="#666" stroke-width="1.0" stroke-opacity="0.6" stroke-linecap="round"/>
<path d="M327 148 L338 144 L347 150 L356 147 L366 142 L373 143 L360 152 L348 160 L342 166 L338 156 L331 152 Z" fill="#4a4a4a"/>
<path d="M338 147 L347 151 L355 148 L350 144 Z" fill="#222"/>
<ellipse cx="367" cy="143.5" rx="4" ry="1.6" fill="#e8e8e8" fill-opacity="1"/>
<ellipse cx="335" cy="156" rx="3" ry="5" fill="#d0d0d0" fill-opacity="1" transform="rotate(-30 335 156)"/>
<path d="M484.7 133.7C486.2 135.2 491.5 139.0 493.7 142.6C495.9 146.2 496.9 151.3 498.0 155.0C499.1 158.7 497.7 162.2 500.3 165.0C502.9 167.8 507.8 170.5 513.7 171.6C519.7 172.7 530.0 170.1 536.0 171.6C542.0 173.1 543.8 178.7 549.4 180.5C555.0 182.3 564.8 181.6 569.4 182.7C574.0 183.8 575.7 186.3 577.0 187.0" fill="none" stroke="#3a3a3a" stroke-width="2.4" stroke-opacity="0.95" stroke-linecap="round"/>
<ellipse cx="588.5" cy="193" rx="8.5" ry="5.5" fill="#262626" fill-opacity="1" transform="rotate(-20 588.5 193)"/>
<ellipse cx="577.5" cy="186.5" rx="4.5" ry="3.2" fill="#222" fill-opacity="1" transform="rotate(30 577.5 186.5)"/>
<path d="M528.2 124.8C529.5 126.3 532.9 132.0 536.0 133.7C539.1 135.4 544.0 136.8 547.0 134.8C550.0 132.9 551.9 125.9 553.8 122.0C555.7 118.1 557.9 115.4 558.3 111.4C558.7 107.4 555.9 102.2 556.0 98.0C556.1 93.8 557.8 89.5 559.0 86.0C560.2 82.5 562.3 78.5 563.0 77.0" fill="none" stroke="#444" stroke-width="1.6" stroke-opacity="0.9" stroke-linecap="round"/>
<path d="M571.7 116.0C575.0 117.3 585.8 123.4 591.7 123.7C597.6 124.0 602.9 121.0 607.3 118.0C611.7 115.0 614.7 109.5 618.0 106.0C621.3 102.5 623.0 99.2 627.0 97.0C631.0 94.8 639.5 93.2 642.0 92.5" fill="none" stroke="#4a4a4a" stroke-width="1.7" stroke-opacity="0.9" stroke-linecap="round"/>
<path d="M611.8 133.0C612.0 130.5 611.6 122.5 613.0 118.0C614.4 113.5 617.7 109.3 620.0 106.0C622.3 102.7 625.8 99.3 627.0 98.0" fill="none" stroke="#5a5a5a" stroke-width="1.2" stroke-opacity="0.8" stroke-linecap="round"/>
<path d="M470.0 167.0C471.3 165.8 475.6 162.2 478.0 160.0C480.4 157.8 482.5 156.7 484.7 153.8C486.9 150.9 490.3 144.5 491.4 142.6" fill="none" stroke="#444" stroke-width="1.6" stroke-opacity="0.85" stroke-linecap="round"/>
<path d="M500.3 208.4C501.1 207.3 503.6 204.1 505.0 202.0C506.4 199.9 508.3 197.0 509.0 196.0" fill="none" stroke="#444" stroke-width="1.6" stroke-opacity="0.85" stroke-linecap="round"/>
<path d="M458.0 174.0C458.2 176.0 459.0 182.0 459.0 186.0C459.0 190.0 458.2 196.0 458.0 198.0" fill="none" stroke="#666" stroke-width="1.0" stroke-opacity="0.7" stroke-linecap="round"/>
<path d="M540.0 198.0C541.3 198.8 545.3 201.8 548.0 203.0C550.7 204.2 554.7 204.7 556.0 205.0" fill="none" stroke="#444" stroke-width="1.5" stroke-opacity="0.85" stroke-linecap="round"/>
<path d="M596.0 212.0C597.5 211.3 601.7 208.8 605.0 208.0C608.3 207.2 612.2 206.8 616.0 207.0C619.8 207.2 626.0 208.7 628.0 209.0" fill="none" stroke="#444" stroke-width="1.8" stroke-opacity="0.8" stroke-linecap="round"/>
<path d="M440.0 58.0C441.3 59.3 445.5 65.3 448.0 66.0C450.5 66.7 452.7 61.3 455.0 62.0C457.3 62.7 460.8 68.7 462.0 70.0" fill="none" stroke="#555" stroke-width="1.2" stroke-opacity="0.7" stroke-linecap="round"/>
<path d="M420.0 62.0C422.7 62.7 430.7 65.7 436.0 66.0C441.3 66.3 446.3 64.0 452.0 64.0C457.7 64.0 465.7 66.0 470.0 66.0C474.3 66.0 476.7 64.3 478.0 64.0" fill="none" stroke="#666" stroke-width="2.0" stroke-opacity="0.5" stroke-linecap="round"/>
<ellipse cx="444" cy="122" rx="5" ry="3.5" fill="#555" fill-opacity="1" transform="rotate(20 444 122)"/>
<ellipse cx="447" cy="120" rx="2" ry="1.5" fill="#ddd" fill-opacity="1"/>
<path d="M386.0 112.0C388.3 113.7 395.2 121.0 400.0 122.0C404.8 123.0 410.0 117.0 415.0 118.0C420.0 119.0 427.5 126.3 430.0 128.0" fill="none" stroke="#666" stroke-width="1.0" stroke-opacity="0.6" stroke-linecap="round"/>
<path d="M400.0 140.0C403.3 141.7 412.5 149.0 420.0 150.0C427.5 151.0 436.7 145.7 445.0 146.0C453.3 146.3 465.8 151.0 470.0 152.0" fill="none" stroke="#686868" stroke-width="1.0" stroke-opacity="0.6" stroke-linecap="round"/>
<path d="M430.0 170.0C432.5 169.2 439.7 166.7 445.0 165.0C450.3 163.3 456.5 162.5 462.0 160.0C467.5 157.5 475.3 151.7 478.0 150.0" fill="none" stroke="#666" stroke-width="1.0" stroke-opacity="0.6" stroke-linecap="round"/>
<path d="M580.0 66.0C580.8 67.7 582.3 73.7 585.0 76.0C587.7 78.3 593.5 81.0 596.0 80.0C598.5 79.0 599.3 71.7 600.0 70.0" fill="none" stroke="#666" stroke-width="1.0" stroke-opacity="0.6" stroke-linecap="round"/>
</g>
<path d="M139.0 44.0C144.2 43.8 159.8 43.1 170.0 43.0C180.2 42.9 188.3 43.5 200.0 43.5C211.7 43.5 226.7 42.8 240.0 43.0C253.3 43.2 266.7 44.5 280.0 44.5C293.3 44.5 306.7 43.3 320.0 43.0C333.3 42.7 346.7 42.7 360.0 42.5C373.3 42.3 386.7 42.2 400.0 42.0C413.3 41.8 426.7 41.2 440.0 41.0C453.3 40.8 466.7 40.7 480.0 40.5C493.3 40.3 506.7 40.1 520.0 40.0C533.3 39.9 546.7 40.0 560.0 40.0C573.3 40.0 586.2 39.9 600.0 40.0C613.8 40.1 635.8 40.4 643.0 40.5L643.0 14.0L139.0 14.0Z" fill="#787878" filter="url(#b05)"/>
<path d="M139.0 40.5C144.2 40.3 159.8 39.6 170.0 39.5C180.2 39.4 188.3 40.0 200.0 40.0C211.7 40.0 226.7 39.3 240.0 39.5C253.3 39.7 266.7 41.0 280.0 41.0C293.3 41.0 306.7 39.8 320.0 39.5C333.3 39.2 346.7 39.2 360.0 39.0C373.3 38.8 386.7 38.8 400.0 38.5C413.3 38.2 426.7 37.8 440.0 37.5C453.3 37.2 466.7 37.2 480.0 37.0C493.3 36.8 506.7 36.6 520.0 36.5C533.3 36.4 546.7 36.5 560.0 36.5C573.3 36.5 586.2 36.4 600.0 36.5C613.8 36.6 635.8 36.9 643.0 37.0L643.0 14.0L139.0 14.0Z" fill="url(#gta)" filter="url(#b05)"/>
<g filter="url(#b1)"><ellipse cx="575" cy="24.5" rx="4" ry="1.4" fill="#777" fill-opacity="1"/><ellipse cx="590" cy="27" rx="5" ry="1.5" fill="#555" fill-opacity="1"/><ellipse cx="612" cy="29" rx="7" ry="2" fill="#3c3c3c" fill-opacity="1"/><ellipse cx="628" cy="28" rx="5" ry="2" fill="#555" fill-opacity="1"/><ellipse cx="636" cy="26" rx="3" ry="1.3" fill="#777" fill-opacity="1"/></g>
<rect x="398" y="223.4" width="244.6" height="198.9" fill="#979797"/>
<rect x="398" y="300" width="244.6" height="123" filter="url(#nzD)" opacity="0.14"/>
<rect x="398" y="300" width="244.6" height="123" filter="url(#nzL)" opacity="0.14"/>
<g filter="url(#b2)" opacity="0.8"><ellipse cx="560" cy="400" rx="60" ry="22" fill="#8e8e8e" fill-opacity="1"/><ellipse cx="470" cy="360" rx="40" ry="30" fill="#9c9c9c" fill-opacity="1"/><ellipse cx="600" cy="340" rx="35" ry="25" fill="#949494" fill-opacity="1"/><ellipse cx="523" cy="346" rx="5" ry="6" fill="#7e7e7e" fill-opacity="1"/></g>
<g filter="url(#b05)"><path d="M398.0 395.0C400.0 394.2 406.3 392.0 410.0 390.0C413.7 388.0 418.3 384.2 420.0 383.0" fill="none" stroke="#4a4a4a" stroke-width="3.5" stroke-opacity="0.9" stroke-linecap="round"/><path d="M420.0 330.0C421.3 333.3 424.7 343.3 428.0 350.0C431.3 356.7 438.7 362.5 440.0 370.0C441.3 377.5 436.7 390.8 436.0 395.0" fill="none" stroke="#7a7a7a" stroke-width="0.9" stroke-opacity="0.6" stroke-linecap="round"/><path d="M560.0 415.0C565.0 411.7 580.0 400.8 590.0 395.0C600.0 389.2 611.3 385.8 620.0 380.0C628.7 374.2 638.3 363.3 642.0 360.0" fill="none" stroke="#888" stroke-width="0.9" stroke-opacity="0.6" stroke-linecap="round"/><path d="M600.0 420.0C602.0 417.5 608.3 408.3 612.0 405.0C615.7 401.7 620.3 400.8 622.0 400.0" fill="none" stroke="#777" stroke-width="1.2" stroke-opacity="0.6" stroke-linecap="round"/></g>
<path d="M398.0 301.0C401.7 301.2 411.3 301.7 420.0 302.0C428.7 302.3 440.0 302.8 450.0 303.0C460.0 303.2 468.3 303.3 480.0 303.5C491.7 303.7 506.7 303.8 520.0 304.0C533.3 304.2 546.7 304.5 560.0 304.5C573.3 304.5 586.2 304.2 600.0 304.0C613.8 303.8 635.8 303.6 643.0 303.5L643.0 285.0L398.0 285.0Z" fill="#7f7f7f" filter="url(#b05)"/>
<path d="M398.0 288.5C401.7 288.6 411.3 288.8 420.0 289.0C428.7 289.2 440.0 289.6 450.0 290.0C460.0 290.4 471.7 291.7 480.0 291.5C488.3 291.3 493.3 289.6 500.0 289.0C506.7 288.4 513.3 288.0 520.0 288.0C526.7 288.0 533.3 288.5 540.0 289.0C546.7 289.5 551.7 290.5 560.0 291.0C568.3 291.5 580.8 291.7 590.0 292.0C599.2 292.3 606.2 292.7 615.0 293.0C623.8 293.3 638.3 293.8 643.0 294.0L643.0 260.0L398.0 260.0Z" fill="#1a1a1a" filter="url(#b05)"/>
<path d="M398.0 268.0C401.7 268.1 411.3 268.7 420.0 268.5C428.7 268.3 441.7 266.9 450.0 267.0C458.3 267.1 463.3 268.5 470.0 269.0C476.7 269.5 482.5 270.2 490.0 270.0C497.5 269.8 506.7 267.8 515.0 268.0C523.3 268.2 530.8 270.3 540.0 271.0C549.2 271.7 560.0 272.0 570.0 272.0C580.0 272.0 590.8 270.7 600.0 271.0C609.2 271.3 617.8 273.3 625.0 274.0C632.2 274.7 640.0 274.8 643.0 275.0L643.0 223.4L398.0 223.4Z" fill="#454545" filter="url(#b05)"/>
<g filter="url(#b1)"><ellipse cx="492" cy="273" rx="6" ry="6" fill="#5a5a5a" fill-opacity="1" transform="rotate(20 492 273)"/><ellipse cx="486" cy="266" rx="4" ry="3" fill="#666" fill-opacity="1"/><path d="M440.0 266.0C443.3 266.2 453.3 267.0 460.0 267.0C466.7 267.0 476.7 266.2 480.0 266.0" fill="none" stroke="#777" stroke-width="1.2" stroke-opacity="0.5" stroke-linecap="round"/><path d="M560.0 268.0C565.0 267.8 580.0 267.3 590.0 267.0C600.0 266.7 615.0 266.2 620.0 266.0" fill="none" stroke="#6a6a6a" stroke-width="1.2" stroke-opacity="0.5" stroke-linecap="round"/></g>
<path d="M398 422.3V223.4H642.6" fill="none" stroke="#bdbdbd" stroke-width="1" stroke-opacity="0.7"/>
<line x1="503.5" y1="51" x2="400.5" y2="223" stroke="#fff" stroke-opacity="0.95" stroke-width="1.8" stroke-dasharray="7 4"/>
<line x1="525.8" y1="51" x2="640" y2="222.5" stroke="#fff" stroke-opacity="0.95" stroke-width="1.8" stroke-dasharray="7 4"/>
<rect x="503.3" y="34" width="22.6" height="17.3" fill="none" stroke="#f4f4f4" stroke-width="1.2"/>
<path d="M310.5 195.0L329.7 166.7" stroke="#fff" stroke-width="3.4" fill="none" stroke-linecap="butt"/><path d="M332.5 162.5L332.8 174.5L329.7 166.7L321.3 166.7Z" fill="#fff" stroke="#fff" stroke-width="0.8" stroke-linejoin="round"/>
<path d="M537.0 341.5L518.0 312.9" stroke="#fff" stroke-width="3.2" fill="none" stroke-linecap="butt"/><path d="M515.5 309.0L525.8 312.9L518.0 312.9L515.1 320.0Z" fill="#fff" stroke="#fff" stroke-width="0.8" stroke-linejoin="round"/>
<text class="ol" x="176.3" y="118.8">Coating</text><text class="ol2" x="176.3" y="118.8">Coating</text>
<text class="ol" x="275.5" y="213.5">Voids</text><text class="ol2" x="275.5" y="213.5">Voids</text>
<text class="ol" x="169.3" y="304.3">Zircaloy-4</text><text class="ol2" x="169.3" y="304.3">Zircaloy-4</text>
<text x="492.5" y="370" font-size="21.3" fill="#f2f2f2" >Cr<tspan font-size="14.1" dy="5.3">2</tspan><tspan dy="-5.3">O</tspan><tspan font-size="14.1" dy="5.3">3</tspan><tspan dy="-5.3"> layer</tspan></text>
<rect x="146.3" y="22.6" width="31" height="25.2" fill="#fff"/><text x="149.3" y="43" font-size="24" fill="#1a1a1a">(a)</text>
<rect x="142.6" y="388.8" width="68" height="28.5" fill="#fff"/><text x="146.3" y="407.6" font-size="23.5" fill="#1a1a1a">25 μm</text><line x1="145" y1="412.9" x2="205.5" y2="412.9" stroke="#1a1a1a" stroke-width="1.7"/>
</g>
<rect x="139.0" y="14.3" width="503.6" height="408.0" fill="none" stroke="#2a2a2a" stroke-width="1.1"/>
<clipPath id="cpb"><rect x="702.3" y="14.0" width="503.7" height="408.3"/></clipPath>
<g clip-path="url(#cpb)">
<rect x="702.3" y="14.0" width="503.7" height="408.3" fill="#aeaeae"/>
<g filter="url(#b2)">
<ellipse cx="880" cy="110" rx="45" ry="45" fill="#a0a0a0" fill-opacity="1" transform="rotate(20 880 110)"/>
<ellipse cx="760" cy="150" rx="30" ry="22" fill="#a9a9a9" fill-opacity="1" transform="rotate(-10 760 150)"/>
<ellipse cx="1010" cy="80" rx="45" ry="22" fill="#a9a9a9" fill-opacity="1"/>
<ellipse cx="1120" cy="150" rx="50" ry="20" fill="#9c9c9c" fill-opacity="1"/>
<ellipse cx="1000" cy="60" rx="18" ry="8" fill="#8e8e8e" fill-opacity="1"/>
<ellipse cx="740" cy="62" rx="16" ry="7" fill="#909090" fill-opacity="1"/>
<ellipse cx="860" cy="58" rx="14" ry="7" fill="#909090" fill-opacity="1"/>
<ellipse cx="1100" cy="215" rx="45" ry="14" fill="#b0b0b0" fill-opacity="1"/>
<ellipse cx="1020" cy="205" rx="35" ry="12" fill="#aaaaaa" fill-opacity="1"/>
</g>
<rect x="702.3" y="36" width="503.7" height="220" filter="url(#nzD)" opacity="0.09"/>
<rect x="702.3" y="36" width="503.7" height="220" filter="url(#nzL)" opacity="0.08"/>
<rect x="702.3" y="36" width="503.7" height="220" filter="url(#nzF)" opacity="0.07"/>
<path d="M680.0 229.0C683.7 229.2 693.7 229.8 702.0 230.0C710.3 230.2 720.3 230.2 730.0 230.5C739.7 230.8 750.0 231.5 760.0 232.0C770.0 232.5 780.0 232.8 790.0 233.5C800.0 234.2 810.0 235.1 820.0 236.0C830.0 236.9 840.0 237.8 850.0 239.0C860.0 240.2 869.5 241.5 880.0 243.0C890.5 244.5 903.0 246.8 913.0 248.0C923.0 249.2 931.3 250.0 940.0 250.0C948.7 250.0 956.7 249.5 965.0 248.0C973.3 246.5 981.7 243.5 990.0 241.0C998.3 238.5 1006.7 235.5 1015.0 233.0C1023.3 230.5 1030.8 227.8 1040.0 226.0C1049.2 224.2 1060.0 222.7 1070.0 222.0C1080.0 221.3 1090.8 221.5 1100.0 222.0C1109.2 222.5 1116.7 223.7 1125.0 225.0C1133.3 226.3 1140.8 228.5 1150.0 230.0C1159.2 231.5 1170.7 233.0 1180.0 234.0C1189.3 235.0 1197.7 235.7 1206.0 236.0C1214.3 236.3 1226.0 236.0 1230.0 236.0L1230.0 460.0L680.0 460.0Z" fill="#bebebe" filter="url(#b1)"/>
<rect x="702.3" y="235" width="503.7" height="190" filter="url(#nzS)" opacity="0.10"/>
<g filter="url(#b4)" opacity="0.5"><ellipse cx="800" cy="330" rx="60" ry="40" fill="#c2c2c2" fill-opacity="1"/><ellipse cx="900" cy="380" rx="50" ry="30" fill="#b6b6b6" fill-opacity="1"/><ellipse cx="740" cy="280" rx="25" ry="30" fill="#c3c3c3" fill-opacity="1"/></g>
<ellipse cx="939.5" cy="287" rx="1.6" ry="1.6" fill="#555" fill-opacity="1"/>
<g filter="url(#b05)">
<g fill="none" stroke="#5a5a5a" stroke-linecap="round"><path d="M1071.2 157.0C1072.8 156.4 1077.6 154.9 1080.7 153.5C1083.9 152.0 1086.6 150.7 1090.0 148.4C1093.3 146.0 1098.0 141.9 1100.9 139.3C1103.8 136.7 1106.1 134.1 1107.2 133.0" stroke-width="1.17" stroke-opacity="0.40"/><path d="M795.7 121.6C797.8 121.6 805.0 121.9 808.4 121.9C811.7 121.9 812.9 121.6 815.7 121.4C818.4 121.2 820.9 121.1 824.6 120.6C828.4 120.0 834.8 118.6 838.3 118.1C841.8 117.6 842.1 117.7 845.7 117.6C849.2 117.5 857.3 117.5 859.6 117.5" stroke-width="0.66" stroke-opacity="0.30"/><path d="M788.2 212.3C790.3 212.0 796.8 210.8 800.6 210.3C804.4 209.8 806.9 209.5 811.0 209.5C815.1 209.5 821.3 209.8 825.2 210.2C829.1 210.6 832.9 211.5 834.4 211.7" stroke-width="0.96" stroke-opacity="0.43"/><path d="M1173.0 186.2C1175.2 186.2 1182.2 186.6 1186.1 186.4C1190.0 186.3 1194.6 185.5 1196.3 185.3" stroke-width="0.71" stroke-opacity="0.28"/><path d="M859.3 64.9C860.9 65.1 865.1 65.8 868.8 66.2C872.5 66.6 877.6 66.9 881.7 67.3C885.8 67.8 889.4 67.9 893.3 68.7C897.3 69.6 901.6 71.0 905.5 72.5C909.3 74.0 913.0 75.9 916.5 77.7C920.0 79.6 924.8 82.5 926.4 83.5" stroke-width="0.97" stroke-opacity="0.34"/><path d="M1125.9 79.1C1127.9 79.2 1134.5 79.7 1137.7 79.9C1141.0 80.1 1142.9 80.5 1145.5 80.5C1148.2 80.4 1151.1 79.9 1153.7 79.7C1156.4 79.6 1157.5 79.6 1161.2 79.3C1164.9 79.1 1172.3 78.6 1175.9 78.2C1179.5 77.9 1181.6 77.2 1182.8 77.0" stroke-width="1.12" stroke-opacity="0.44"/><path d="M802.3 133.5C804.1 133.0 809.7 131.2 812.9 130.6C816.2 129.9 818.5 129.7 821.8 129.7C825.0 129.6 829.5 129.9 832.5 130.1C835.6 130.4 836.8 130.6 840.0 131.2C843.2 131.7 849.8 132.9 851.8 133.2" stroke-width="1.03" stroke-opacity="0.23"/><path d="M904.5 229.5C906.0 230.2 910.1 231.7 913.7 233.7C917.3 235.7 922.8 239.1 926.1 241.2C929.4 243.4 932.3 245.5 933.5 246.3" stroke-width="1.03" stroke-opacity="0.36"/><path d="M962.8 72.9C964.2 73.5 968.2 74.5 971.5 76.3C974.9 78.2 979.6 81.1 983.1 83.8C986.5 86.5 989.2 89.4 992.3 92.3C995.5 95.3 1000.4 100.1 1002.0 101.7" stroke-width="0.93" stroke-opacity="0.35"/><path d="M728.1 153.2C730.6 153.3 738.5 154.0 742.9 154.0C747.3 153.9 750.1 153.3 754.5 152.8C758.8 152.4 764.5 152.0 768.8 151.2C773.2 150.4 777.2 149.1 780.5 147.9C783.7 146.7 784.9 146.1 788.2 144.3C791.6 142.4 798.6 138.3 800.6 137.1" stroke-width="1.13" stroke-opacity="0.41"/><path d="M1094.5 98.0C1096.7 97.2 1104.1 94.3 1107.5 93.3C1110.8 92.4 1111.4 92.7 1114.7 92.4C1118.0 92.0 1123.2 91.5 1127.2 91.3C1131.2 91.1 1136.9 91.1 1138.9 91.1" stroke-width="1.10" stroke-opacity="0.35"/><path d="M1163.9 207.9C1165.3 208.7 1169.6 211.0 1172.2 212.7C1174.8 214.4 1176.7 215.9 1179.6 218.0C1182.5 220.1 1186.2 222.8 1189.6 225.1C1193.0 227.5 1198.3 231.1 1200.1 232.3" stroke-width="0.84" stroke-opacity="0.45"/><path d="M1005.5 205.6C1007.0 206.1 1011.0 207.2 1014.8 208.5C1018.6 209.7 1024.2 211.5 1028.4 213.1C1032.7 214.6 1036.8 216.5 1040.3 217.8C1043.8 219.0 1047.9 220.2 1049.5 220.7" stroke-width="1.08" stroke-opacity="0.27"/><path d="M918.5 199.2C920.2 199.1 925.0 198.9 928.6 198.7C932.1 198.6 936.7 198.5 939.8 198.5C943.0 198.5 944.1 198.2 947.5 198.7C951.0 199.3 956.4 200.3 960.6 202.0C964.7 203.7 968.8 206.3 972.5 208.9C976.3 211.6 981.1 216.6 982.8 218.1" stroke-width="1.14" stroke-opacity="0.43"/><path d="M905.4 99.4C906.6 99.2 910.5 98.1 913.0 98.1C915.5 98.0 917.6 98.3 920.3 98.9C923.1 99.5 928.0 101.0 929.5 101.5" stroke-width="0.84" stroke-opacity="0.47"/><path d="M1083.7 171.0C1085.3 171.3 1089.8 172.5 1093.3 172.7C1096.8 173.0 1100.4 173.3 1104.5 172.7C1108.5 172.0 1113.6 170.2 1117.6 168.7C1121.6 167.2 1126.8 164.4 1128.6 163.6" stroke-width="0.64" stroke-opacity="0.27"/><path d="M760.0 158.5C761.6 159.5 766.4 162.2 769.7 164.4C773.0 166.6 776.6 169.3 779.7 171.7C782.7 174.0 785.6 176.2 788.2 178.4C790.7 180.7 792.3 182.3 795.0 185.2C797.8 188.2 802.0 192.9 804.8 196.1C807.6 199.3 810.8 203.0 811.9 204.4" stroke-width="0.67" stroke-opacity="0.37"/><path d="M987.7 147.3C989.1 148.0 992.7 150.3 995.6 151.5C998.6 152.6 1001.9 153.3 1005.4 154.1C1008.8 154.9 1012.3 156.0 1016.3 156.5C1020.4 156.9 1025.3 156.9 1030.0 156.6C1034.6 156.4 1040.4 155.7 1044.3 155.1C1048.2 154.5 1051.8 153.5 1053.3 153.1" stroke-width="1.32" stroke-opacity="0.32"/><path d="M782.4 142.3C783.9 142.9 787.9 144.4 791.5 145.9C795.1 147.5 800.7 149.7 804.1 151.4C807.5 153.1 810.6 155.2 811.9 156.0" stroke-width="1.14" stroke-opacity="0.31"/><path d="M906.2 89.6C907.8 89.8 911.9 89.9 915.6 90.7C919.3 91.4 924.9 92.9 928.7 93.9C932.4 95.0 934.9 95.7 938.3 96.8C941.8 97.8 946.3 98.8 949.6 100.2C952.8 101.7 955.5 103.7 957.8 105.3C960.1 106.9 962.6 109.2 963.5 110.0" stroke-width="1.03" stroke-opacity="0.48"/><path d="M1146.5 111.0C1147.8 110.7 1151.8 109.9 1154.5 109.7C1157.1 109.4 1159.1 109.2 1162.4 109.4C1165.8 109.6 1170.7 110.2 1174.6 110.9C1178.5 111.7 1182.7 113.0 1185.9 113.9C1189.2 114.8 1192.7 116.0 1194.1 116.4" stroke-width="0.73" stroke-opacity="0.49"/><path d="M747.7 198.8C750.1 198.7 757.6 198.5 762.2 197.8C766.7 197.1 770.9 196.1 775.0 194.7C779.0 193.4 784.5 190.7 786.4 189.9" stroke-width="1.07" stroke-opacity="0.33"/><path d="M773.7 133.7C775.5 133.3 781.8 132.1 784.8 131.3C787.8 130.4 789.2 129.4 791.7 128.7C794.2 127.9 796.9 127.4 799.6 126.6C802.2 125.8 804.6 124.9 807.5 123.9C810.4 122.9 813.9 121.6 817.0 120.6C820.2 119.6 824.9 118.5 826.5 118.1" stroke-width="1.18" stroke-opacity="0.42"/><path d="M1023.9 178.1C1025.1 178.9 1028.9 181.1 1031.1 182.7C1033.3 184.3 1035.3 185.9 1037.3 187.6C1039.2 189.4 1040.7 191.2 1042.7 193.1C1044.7 195.0 1046.7 196.3 1049.3 199.1C1051.8 201.9 1056.3 208.2 1057.8 210.0" stroke-width="1.10" stroke-opacity="0.32"/><path d="M897.0 157.5C898.2 156.8 901.6 155.2 904.3 153.4C906.9 151.7 910.1 149.4 913.1 146.7C916.0 144.1 919.3 140.5 921.9 137.6C924.5 134.8 926.6 132.6 928.6 129.7C930.7 126.7 932.8 122.9 934.3 120.0C935.9 117.1 937.3 113.4 938.0 112.0" stroke-width="0.67" stroke-opacity="0.44"/><path d="M894.8 185.9C896.6 185.1 901.8 182.7 905.2 181.3C908.6 180.0 912.2 178.6 915.1 177.7C917.9 176.9 920.9 176.4 922.0 176.1" stroke-width="1.17" stroke-opacity="0.35"/><path d="M792.9 173.0C795.0 171.6 801.2 167.6 805.2 164.8C809.2 162.0 813.8 158.5 816.9 155.9C819.9 153.3 821.1 151.9 823.4 149.2C825.8 146.5 829.1 142.6 831.0 139.5C832.8 136.5 833.6 133.9 834.5 131.1C835.3 128.3 835.7 124.0 836.0 122.6" stroke-width="1.32" stroke-opacity="0.34"/><path d="M1017.6 225.2C1019.2 224.6 1024.3 222.8 1027.1 221.3C1029.9 219.9 1031.7 218.9 1034.3 216.3C1036.9 213.6 1040.1 209.2 1042.8 205.2C1045.5 201.3 1048.6 196.0 1050.4 192.4C1052.2 188.8 1053.0 187.2 1053.7 183.5C1054.4 179.8 1054.4 172.5 1054.5 170.3" stroke-width="1.33" stroke-opacity="0.40"/><path d="M1006.7 180.2C1008.2 180.6 1012.0 181.1 1015.7 182.4C1019.3 183.7 1024.9 186.1 1028.7 187.9C1032.5 189.8 1034.7 191.1 1038.4 193.3C1042.1 195.6 1048.8 199.9 1050.8 201.2" stroke-width="0.93" stroke-opacity="0.31"/><path d="M734.3 200.6C736.4 201.7 743.4 205.2 746.8 207.3C750.2 209.4 752.0 211.0 754.9 213.2C757.8 215.5 761.4 218.2 764.2 220.6C767.1 223.0 770.7 226.7 772.0 227.9" stroke-width="1.18" stroke-opacity="0.48"/><path d="M1025.8 189.0C1027.9 189.5 1034.5 190.7 1038.6 191.9C1042.7 193.0 1047.2 195.0 1050.3 195.9C1053.4 196.9 1054.1 197.0 1057.3 197.4C1060.5 197.8 1067.3 198.1 1069.3 198.3" stroke-width="0.64" stroke-opacity="0.35"/><path d="M1086.9 169.5C1088.9 168.3 1095.5 165.2 1099.3 162.8C1103.1 160.4 1106.9 157.6 1109.6 155.2C1112.3 152.8 1113.7 151.0 1115.4 148.7C1117.2 146.4 1118.4 144.2 1119.9 141.4C1121.5 138.6 1123.8 134.6 1124.9 131.8C1126.0 129.1 1126.3 126.0 1126.6 124.8" stroke-width="0.77" stroke-opacity="0.46"/><path d="M1149.6 152.6C1150.8 152.2 1153.3 151.5 1156.6 150.3C1160.0 149.1 1165.9 147.1 1169.7 145.5C1173.5 143.9 1176.8 142.7 1179.7 140.8C1182.6 138.9 1185.1 136.5 1187.3 134.2C1189.5 132.0 1192.1 128.5 1193.1 127.4" stroke-width="1.00" stroke-opacity="0.24"/><path d="M943.3 120.1C945.3 119.0 952.3 115.0 955.6 113.4C958.9 111.8 960.5 111.3 962.9 110.5C965.3 109.7 968.8 108.8 970.0 108.4" stroke-width="0.91" stroke-opacity="0.35"/><path d="M1068.4 202.4C1070.4 203.4 1077.2 206.8 1080.1 208.5C1083.0 210.2 1083.8 210.8 1086.0 212.7C1088.3 214.5 1092.4 218.6 1093.7 219.7" stroke-width="0.97" stroke-opacity="0.30"/><path d="M1019.2 94.8C1021.0 94.8 1025.9 95.0 1030.0 94.9C1034.2 94.7 1039.4 94.5 1044.2 94.1C1049.1 93.7 1056.5 92.8 1059.0 92.5" stroke-width="1.27" stroke-opacity="0.39"/><path d="M866.9 150.0C868.7 150.6 873.7 151.8 877.5 153.3C881.3 154.8 885.9 157.1 889.7 159.0C893.6 160.8 897.2 162.5 900.6 164.5C904.0 166.5 908.6 169.8 910.2 170.8" stroke-width="1.06" stroke-opacity="0.25"/><path d="M837.4 201.7C839.1 203.2 845.0 208.3 847.6 211.2C850.2 214.0 851.6 216.6 852.9 219.0C854.1 221.5 854.8 222.6 855.2 225.7C855.6 228.7 855.4 235.2 855.5 237.1" stroke-width="1.04" stroke-opacity="0.40"/><path d="M1096.8 97.8C1098.4 98.4 1103.2 99.3 1106.7 101.5C1110.2 103.6 1115.1 108.3 1117.8 110.7C1120.4 113.1 1120.9 113.0 1122.7 115.8C1124.5 118.7 1126.9 124.2 1128.4 127.7C1129.9 131.1 1131.0 133.4 1131.8 136.5C1132.6 139.5 1133.0 144.4 1133.2 146.0" stroke-width="1.28" stroke-opacity="0.24"/><path d="M858.1 82.5C859.9 81.6 866.0 78.6 869.0 76.9C872.1 75.2 873.6 74.4 876.3 72.3C879.0 70.2 882.6 67.1 885.3 64.5C888.0 62.0 890.3 59.4 892.5 56.7C894.7 54.0 897.6 49.9 898.6 48.6" stroke-width="0.84" stroke-opacity="0.38"/><path d="M1144.3 72.6C1145.9 72.3 1150.8 71.5 1153.6 71.1C1156.5 70.6 1158.3 70.5 1161.5 70.1C1164.7 69.6 1171.0 68.7 1172.9 68.4" stroke-width="0.66" stroke-opacity="0.33"/><path d="M887.2 126.9C888.6 127.2 891.6 128.0 895.2 128.8C898.9 129.6 905.2 130.7 909.1 131.5C913.0 132.3 914.8 133.2 918.6 133.7C922.4 134.2 929.7 134.4 932.0 134.5" stroke-width="1.13" stroke-opacity="0.39"/><path d="M1121.9 110.4C1124.1 111.6 1130.8 115.5 1135.0 117.6C1139.3 119.8 1144.2 122.0 1147.4 123.3C1150.6 124.6 1151.6 124.7 1154.2 125.5C1156.9 126.4 1161.6 127.7 1163.1 128.2" stroke-width="0.73" stroke-opacity="0.31"/><path d="M874.9 216.9C876.5 217.1 880.9 217.8 884.3 218.1C887.8 218.4 891.6 218.9 895.8 218.9C899.9 218.8 906.9 218.0 909.1 217.8" stroke-width="1.01" stroke-opacity="0.46"/><path d="M1112.0 178.5C1113.8 178.6 1118.6 179.1 1122.9 179.1C1127.2 179.1 1134.1 178.7 1137.7 178.5C1141.4 178.2 1141.9 178.0 1144.8 177.5C1147.7 176.9 1153.4 175.7 1155.1 175.4" stroke-width="1.29" stroke-opacity="0.37"/><path d="M1098.0 183.9C1099.4 184.8 1102.8 187.2 1106.4 189.1C1110.1 190.9 1115.2 193.2 1119.7 195.1C1124.1 197.1 1129.8 199.2 1133.2 200.6C1136.6 202.0 1138.9 203.2 1140.1 203.7" stroke-width="1.18" stroke-opacity="0.43"/><path d="M970.8 102.9C972.3 102.8 976.0 102.2 979.8 102.4C983.5 102.7 989.1 103.5 993.1 104.2C997.1 104.8 1000.5 105.3 1003.6 106.2C1006.6 107.0 1007.6 107.7 1011.2 109.2C1014.7 110.7 1022.6 114.2 1024.9 115.2" stroke-width="0.98" stroke-opacity="0.25"/><path d="M869.3 147.5C871.6 147.1 879.5 145.4 883.1 145.1C886.7 144.8 888.3 145.5 890.9 145.5C893.5 145.6 895.7 145.1 898.7 145.5C901.7 145.8 904.9 146.5 909.0 147.4C913.0 148.4 919.3 150.2 923.1 151.3C927.0 152.3 930.3 153.2 931.8 153.6" stroke-width="1.20" stroke-opacity="0.34"/><path d="M793.6 133.6C795.6 133.7 802.3 133.7 805.9 134.2C809.4 134.8 812.0 136.0 814.8 137.1C817.7 138.1 819.9 138.8 823.2 140.6C826.5 142.4 831.2 145.5 834.4 147.8C837.6 150.2 841.1 153.6 842.5 154.7" stroke-width="0.91" stroke-opacity="0.27"/><path d="M1020.0 91.0C1021.7 90.0 1026.8 87.3 1030.1 85.1C1033.4 82.8 1036.6 80.0 1039.8 77.4C1042.9 74.8 1045.9 71.9 1048.9 69.4C1051.9 66.8 1054.6 65.1 1057.6 62.1C1060.6 59.1 1065.4 53.1 1066.9 51.3" stroke-width="0.82" stroke-opacity="0.31"/><path d="M792.7 186.2C794.0 185.3 797.4 183.7 800.4 181.2C803.4 178.7 807.7 174.5 810.6 171.3C813.5 168.1 815.6 165.4 817.7 162.2C819.8 159.0 821.9 154.9 823.1 152.1C824.4 149.3 825.1 146.5 825.5 145.3" stroke-width="1.07" stroke-opacity="0.35"/><path d="M881.2 216.2C883.0 216.9 888.6 219.2 892.2 220.3C895.8 221.4 899.2 221.8 902.9 223.0C906.7 224.2 911.7 226.2 914.7 227.3C917.8 228.4 919.2 228.8 921.4 229.7C923.6 230.6 924.8 231.3 928.0 232.6C931.2 234.0 938.7 237.0 940.8 237.8" stroke-width="1.02" stroke-opacity="0.33"/><path d="M757.2 95.0C758.8 94.9 763.4 95.0 767.0 94.6C770.7 94.3 775.7 93.4 779.0 92.9C782.2 92.4 785.3 91.9 786.6 91.7" stroke-width="0.93" stroke-opacity="0.35"/><path d="M1035.6 68.1C1037.0 67.1 1041.3 64.5 1044.1 62.0C1046.9 59.4 1051.1 54.3 1052.5 52.7" stroke-width="1.30" stroke-opacity="0.31"/><path d="M1011.8 85.3C1013.0 85.1 1015.9 84.9 1019.1 84.3C1022.3 83.7 1027.7 82.0 1030.9 81.4C1034.1 80.8 1037.1 80.7 1038.4 80.5" stroke-width="0.63" stroke-opacity="0.33"/><path d="M827.6 76.7C829.3 76.3 833.6 75.0 837.8 74.4C842.0 73.8 847.9 73.3 852.7 73.0C857.4 72.7 862.9 72.4 866.4 72.7C870.0 73.0 870.9 73.7 873.9 75.0C877.0 76.4 881.5 78.7 884.7 80.8C887.9 83.0 891.7 86.9 893.1 88.1" stroke-width="1.26" stroke-opacity="0.46"/><path d="M1132.0 87.1C1133.2 87.1 1136.2 86.9 1139.4 87.1C1142.6 87.3 1147.9 87.9 1151.0 88.5C1154.2 89.1 1156.9 90.3 1158.1 90.7" stroke-width="1.32" stroke-opacity="0.32"/><path d="M1080.0 50.0C1081.8 50.2 1087.6 50.9 1091.1 51.1C1094.6 51.3 1097.6 51.5 1101.0 51.2C1104.3 50.8 1109.6 49.4 1111.3 49.1" stroke-width="0.63" stroke-opacity="0.46"/><path d="M815.1 86.4C817.2 86.3 823.6 85.7 828.0 85.7C832.4 85.8 836.9 86.1 841.3 86.6C845.7 87.2 852.1 88.5 854.3 88.9" stroke-width="0.95" stroke-opacity="0.32"/><path d="M1073.0 156.1C1074.9 155.5 1080.5 153.7 1084.2 152.2C1087.8 150.7 1091.2 148.6 1094.9 147.1C1098.6 145.6 1103.1 144.7 1106.6 143.3C1110.2 142.0 1112.4 140.4 1116.2 139.0C1119.9 137.7 1125.4 136.2 1129.2 135.3C1133.0 134.4 1137.2 133.8 1138.8 133.5" stroke-width="1.05" stroke-opacity="0.29"/><path d="M904.9 164.1C906.8 162.8 912.7 158.7 916.3 156.4C920.0 154.1 924.1 152.0 926.9 150.2C929.7 148.3 930.9 147.2 933.3 145.3C935.7 143.4 940.0 139.7 941.4 138.6" stroke-width="1.04" stroke-opacity="0.37"/><path d="M1119.9 121.7C1121.5 120.8 1125.9 118.5 1129.6 116.4C1133.3 114.2 1138.9 111.1 1142.1 108.9C1145.4 106.8 1147.9 104.4 1149.0 103.5" stroke-width="1.14" stroke-opacity="0.42"/><path d="M753.8 130.1C755.5 129.1 760.3 126.3 764.1 124.2C768.0 122.1 773.1 119.4 776.8 117.5C780.6 115.6 783.8 114.1 786.6 112.9C789.3 111.7 792.3 110.8 793.5 110.4" stroke-width="1.23" stroke-opacity="0.41"/><path d="M856.2 113.5C857.4 113.6 859.6 114.1 863.2 113.9C866.9 113.6 874.2 112.7 878.0 112.0C881.8 111.2 882.8 110.8 885.9 109.3C888.9 107.8 894.5 104.2 896.2 103.1" stroke-width="1.13" stroke-opacity="0.36"/><path d="M903.8 109.8C905.4 109.7 909.9 109.6 913.2 109.5C916.4 109.5 919.6 109.2 923.2 109.5C926.8 109.9 932.6 111.1 934.5 111.5" stroke-width="0.98" stroke-opacity="0.41"/><path d="M778.4 110.7C779.9 110.7 784.4 111.2 787.2 111.0C790.0 110.7 792.7 109.8 795.2 109.1C797.8 108.4 799.9 108.0 802.6 106.9C805.3 105.9 808.6 104.2 811.2 102.8C813.8 101.4 816.9 99.1 818.0 98.3" stroke-width="1.13" stroke-opacity="0.37"/><path d="M836.8 202.5C838.2 202.0 841.9 201.1 845.4 199.8C849.0 198.5 853.6 196.2 857.9 194.8C862.3 193.3 869.1 191.7 871.4 191.1" stroke-width="1.21" stroke-opacity="0.36"/><path d="M1010.6 190.8C1012.2 190.9 1016.2 191.6 1020.3 191.7C1024.3 191.8 1031.1 191.6 1035.0 191.5C1038.9 191.4 1041.0 191.3 1043.7 191.2C1046.3 191.0 1049.5 190.6 1050.7 190.5" stroke-width="0.93" stroke-opacity="0.47"/><path d="M815.5 199.8C817.0 199.3 821.2 198.4 824.4 196.4C827.6 194.4 831.4 190.9 834.7 188.0C838.0 185.2 842.8 180.8 844.4 179.4" stroke-width="0.85" stroke-opacity="0.31"/><path d="M793.3 216.0C794.8 215.9 798.2 215.2 802.0 215.2C805.8 215.3 811.7 215.6 816.3 216.2C820.9 216.9 826.3 218.0 829.8 219.2C833.2 220.4 834.3 221.4 837.2 223.4C840.1 225.4 845.3 229.8 847.0 231.1" stroke-width="1.30" stroke-opacity="0.48"/><path d="M978.9 96.0C981.1 95.2 987.6 92.0 992.1 91.1C996.6 90.1 1001.1 90.4 1005.8 90.4C1010.6 90.5 1016.6 90.7 1020.6 91.2C1024.6 91.8 1027.0 92.9 1029.7 93.6C1032.4 94.4 1035.5 95.5 1036.7 95.9" stroke-width="1.29" stroke-opacity="0.29"/><path d="M706.5 215.5C708.1 216.2 713.1 218.5 716.2 220.2C719.2 221.8 723.2 224.6 724.6 225.4" stroke-width="0.79" stroke-opacity="0.42"/><path d="M872.9 100.7C875.2 100.2 882.1 98.6 886.4 97.3C890.7 96.0 895.0 94.4 898.7 93.1C902.4 91.8 905.4 91.0 908.6 89.7C911.7 88.4 914.9 86.7 917.8 85.3C920.6 83.8 922.5 82.6 925.5 81.2C928.5 79.7 934.1 77.4 935.8 76.6" stroke-width="1.10" stroke-opacity="0.45"/><path d="M716.9 78.4C719.1 77.9 725.4 76.5 729.8 75.7C734.2 74.9 738.9 74.1 743.5 73.4C748.2 72.7 755.4 71.8 757.8 71.5" stroke-width="0.70" stroke-opacity="0.46"/><path d="M1117.9 129.5C1120.2 129.5 1127.3 129.8 1131.6 129.6C1135.9 129.3 1139.9 128.9 1143.9 127.9C1147.9 126.9 1153.6 124.3 1155.6 123.6" stroke-width="1.26" stroke-opacity="0.29"/><path d="M877.5 166.4C879.6 165.8 886.6 164.5 890.4 163.1C894.2 161.7 896.8 160.4 900.1 158.3C903.4 156.1 906.7 153.2 910.3 150.5C913.9 147.7 918.4 144.4 921.4 141.5C924.5 138.7 927.2 134.7 928.4 133.3" stroke-width="1.18" stroke-opacity="0.33"/><path d="M918.4 218.3C920.3 219.1 926.1 221.5 929.6 223.2C933.2 224.9 935.9 226.6 939.7 228.4C943.5 230.1 950.2 232.9 952.3 233.8" stroke-width="0.86" stroke-opacity="0.48"/><path d="M1133.2 97.5C1135.2 97.3 1142.1 96.4 1145.4 96.1C1148.8 95.7 1149.6 95.7 1153.2 95.3C1156.8 94.9 1163.4 94.4 1167.0 93.9C1170.6 93.4 1171.0 92.9 1174.5 92.2C1178.0 91.6 1185.7 90.2 1187.9 89.8" stroke-width="0.76" stroke-opacity="0.45"/><path d="M703.1 60.4C705.6 60.5 713.0 60.4 717.6 61.3C722.2 62.2 727.1 64.4 730.9 65.6C734.7 66.9 737.0 67.4 740.5 68.7C743.9 70.0 748.6 71.9 751.8 73.3C754.9 74.7 758.0 76.6 759.3 77.2" stroke-width="1.02" stroke-opacity="0.46"/><path d="M996.5 122.2C997.7 121.7 1001.4 120.4 1003.6 119.2C1005.9 118.1 1007.1 117.1 1009.8 115.5C1012.6 114.0 1016.5 111.9 1020.3 110.2C1024.1 108.4 1030.6 106.0 1032.7 105.1" stroke-width="1.13" stroke-opacity="0.32"/><path d="M967.3 190.0C968.9 189.6 973.1 188.4 977.0 188.0C980.9 187.7 986.5 187.6 990.9 187.7C995.3 187.9 1001.3 188.7 1003.4 188.9" stroke-width="1.18" stroke-opacity="0.47"/><path d="M879.0 77.0C881.2 76.4 888.6 74.5 892.3 73.3C896.0 72.1 898.6 70.9 901.3 69.7C904.0 68.5 905.9 67.4 908.4 66.2C910.9 65.0 914.9 63.2 916.2 62.6" stroke-width="0.67" stroke-opacity="0.40"/><path d="M816.6 221.0C817.9 220.7 822.0 220.0 824.8 219.7C827.5 219.4 830.0 219.1 833.2 219.0C836.4 219.0 840.5 219.1 843.9 219.4C847.3 219.7 849.8 220.1 853.9 220.9C858.0 221.6 863.5 222.9 868.4 223.9C873.2 225.0 880.4 226.9 882.8 227.4" stroke-width="0.90" stroke-opacity="0.48"/><path d="M1097.7 153.1C1098.7 153.8 1101.8 155.9 1104.1 157.6C1106.4 159.3 1108.8 161.4 1111.6 163.5C1114.3 165.6 1119.1 169.2 1120.6 170.3" stroke-width="0.79" stroke-opacity="0.33"/><path d="M1154.6 97.3C1156.1 97.4 1160.6 98.2 1163.6 98.2C1166.7 98.3 1169.3 98.1 1172.9 97.5C1176.5 96.9 1181.8 95.6 1185.1 94.6C1188.4 93.6 1190.2 92.9 1192.8 91.5C1195.5 90.1 1199.5 87.1 1200.9 86.3" stroke-width="0.72" stroke-opacity="0.26"/><path d="M1035.5 205.7C1036.8 206.1 1039.8 206.8 1043.2 207.9C1046.7 209.1 1052.6 211.7 1056.3 212.7C1060.0 213.7 1062.1 213.7 1065.4 214.0C1068.8 214.3 1074.5 214.4 1076.3 214.4" stroke-width="0.67" stroke-opacity="0.27"/><path d="M811.6 139.5C812.8 140.0 815.6 141.1 818.7 142.6C821.8 144.2 826.3 146.6 830.2 148.7C834.1 150.8 838.4 153.1 842.1 155.2C845.8 157.3 849.3 159.3 852.3 161.2C855.4 163.0 857.4 164.2 860.6 166.3C863.8 168.5 869.8 172.9 871.7 174.2" stroke-width="0.79" stroke-opacity="0.30"/><path d="M1130.7 179.5C1132.5 180.3 1138.3 182.4 1142.0 184.6C1145.6 186.9 1149.3 190.2 1152.7 193.0C1156.1 195.9 1159.7 198.7 1162.5 201.8C1165.2 205.0 1168.1 210.2 1169.3 211.9" stroke-width="1.35" stroke-opacity="0.40"/><path d="M1098.0 196.0C1099.2 196.1 1103.0 196.5 1105.5 196.6C1108.0 196.7 1109.7 197.0 1113.0 196.5C1116.3 196.1 1121.1 195.2 1125.2 193.9C1129.3 192.6 1135.6 189.6 1137.7 188.8" stroke-width="0.74" stroke-opacity="0.38"/><path d="M1024.0 85.0C1025.4 85.4 1029.7 86.4 1032.4 87.3C1035.1 88.1 1037.6 89.0 1040.1 90.2C1042.5 91.5 1044.4 92.9 1047.2 94.9C1049.9 96.9 1053.4 99.8 1056.5 102.3C1059.7 104.9 1063.1 107.6 1066.0 110.0C1068.9 112.5 1072.5 116.0 1073.8 117.2" stroke-width="1.22" stroke-opacity="0.34"/><path d="M931.7 203.8C933.5 204.6 939.4 207.3 942.4 208.6C945.5 210.0 947.2 210.9 950.3 211.8C953.3 212.8 959.2 213.7 960.9 214.0" stroke-width="0.88" stroke-opacity="0.27"/><path d="M791.1 101.6C793.0 100.6 799.0 97.3 802.6 95.4C806.1 93.5 808.6 92.0 812.5 90.0C816.4 88.1 821.7 86.0 825.9 83.9C830.2 81.8 835.9 78.6 837.8 77.6" stroke-width="0.82" stroke-opacity="0.43"/><path d="M1124.2 129.7C1125.8 130.6 1130.6 132.7 1133.8 135.0C1136.9 137.4 1140.1 140.5 1143.1 143.9C1146.2 147.4 1149.1 151.6 1151.9 155.6C1154.6 159.6 1158.6 165.9 1159.9 168.0" stroke-width="1.18" stroke-opacity="0.39"/><path d="M1067.4 50.4C1069.3 51.4 1075.6 54.7 1078.4 56.4C1081.2 58.1 1082.1 58.9 1084.4 60.5C1086.7 62.1 1089.8 64.3 1092.3 66.0C1094.7 67.6 1096.5 68.8 1099.1 70.4C1101.7 72.0 1104.8 73.7 1108.1 75.5C1111.3 77.3 1116.8 80.4 1118.5 81.3" stroke-width="0.96" stroke-opacity="0.44"/><path d="M870.1 222.4C871.8 222.9 877.4 224.5 880.4 225.6C883.4 226.7 885.1 227.5 888.1 228.9C891.2 230.2 894.8 231.5 898.5 233.6C902.1 235.7 908.1 240.4 910.0 241.7" stroke-width="0.77" stroke-opacity="0.48"/><path d="M961.3 181.3C963.3 180.4 969.5 178.2 973.4 176.4C977.3 174.6 981.9 172.5 984.6 170.6C987.4 168.7 988.0 167.4 989.9 164.9C991.9 162.4 994.9 158.3 996.4 155.3C997.8 152.4 998.3 148.7 998.7 147.4" stroke-width="1.02" stroke-opacity="0.33"/><path d="M745.6 153.4C746.9 153.6 750.6 154.3 753.0 155.0C755.4 155.6 756.9 156.4 760.1 157.2C763.3 158.0 770.1 159.4 772.1 159.9" stroke-width="1.23" stroke-opacity="0.27"/><path d="M935.1 195.1C937.4 195.7 945.3 198.0 949.0 199.2C952.7 200.3 953.6 200.7 957.1 202.1C960.6 203.5 965.6 205.7 969.9 207.6C974.2 209.5 980.5 212.4 982.6 213.3" stroke-width="0.83" stroke-opacity="0.37"/><path d="M735.5 183.9C737.3 183.5 742.6 181.9 746.5 181.6C750.5 181.4 755.7 181.9 759.2 182.3C762.7 182.7 764.5 183.3 767.6 183.9C770.6 184.4 775.8 185.3 777.4 185.6" stroke-width="1.17" stroke-opacity="0.44"/></g>
<path d="M757.5 55.7L764.5 55.7L761.5 63.05Z" fill="#2c2c2c"/>
<path d="M821.5 56.7L828.5 56.7L825.5 64.05Z" fill="#2c2c2c"/>
<path d="M839.0 50.2L846.0 50.2L843.0 57.55Z" fill="#2c2c2c"/>
<path d="M888.0 51.7L895.0 51.7L892.0 59.05Z" fill="#2c2c2c"/>
<path d="M957.5 50.7L964.5 50.7L961.5 58.05Z" fill="#2c2c2c"/>
<path d="M1008.5 50.7L1015.5 50.7L1012.5 58.05Z" fill="#2c2c2c"/>
<path d="M1144.5 49.7L1151.5 49.7L1148.5 57.05Z" fill="#2c2c2c"/>
<ellipse cx="1174" cy="62" rx="3" ry="2.5" fill="#444" fill-opacity="1"/>
<ellipse cx="1104" cy="60" rx="3" ry="1.8" fill="#444" fill-opacity="1" transform="rotate(-20 1104 60)"/>
<ellipse cx="868" cy="53" rx="1.6" ry="3" fill="#ddd" fill-opacity="1"/>
<path d="M770.0 67.0C771.2 68.3 774.4 72.8 777.0 75.0C779.6 77.2 782.5 78.7 785.8 80.2C789.1 81.7 793.3 83.1 797.0 84.0C800.7 84.9 804.3 85.6 808.0 85.8C811.7 86.0 815.7 85.5 819.0 85.0C822.3 84.5 825.0 84.4 828.0 82.5C831.0 80.6 835.5 75.0 837.0 73.5" fill="none" stroke="#555" stroke-width="1.3" stroke-opacity="0.85" stroke-linecap="round"/>
<path d="M707.8 178.3C709.8 179.4 715.5 182.8 720.0 185.0C724.5 187.2 728.6 189.5 734.6 191.7C740.6 193.9 748.6 196.2 756.0 198.0C763.4 199.8 772.0 202.5 779.0 202.8C786.0 203.1 792.0 201.1 798.0 200.0C804.0 198.9 810.8 196.2 814.8 196.0C818.8 195.8 819.8 197.5 822.0 199.0C824.2 200.5 826.3 203.0 828.0 205.0C829.7 207.0 830.9 209.2 832.0 211.0C833.1 212.8 834.4 215.2 834.9 216.0" fill="none" stroke="#555" stroke-width="1.3" stroke-opacity="0.8" stroke-linecap="round"/>
<path d="M715.0 165.0C719.2 167.2 730.8 174.5 740.0 178.0C749.2 181.5 760.0 184.7 770.0 186.0C780.0 187.3 791.3 186.7 800.0 186.0C808.7 185.3 818.3 182.7 822.0 182.0" fill="none" stroke="#686868" stroke-width="1.0" stroke-opacity="0.6" stroke-linecap="round"/>
<ellipse cx="832.6" cy="133.7" rx="2.8" ry="4" fill="#3a3a3a" fill-opacity="1" transform="rotate(20 832.6 133.7)"/>
<ellipse cx="844" cy="148.5" rx="4" ry="2" fill="#333" fill-opacity="1" transform="rotate(-25 844 148.5)"/>
<path d="M735.0 140.0C737.2 142.0 745.2 147.7 748.0 152.0C750.8 156.3 751.3 163.7 752.0 166.0" fill="none" stroke="#777" stroke-width="1.6" stroke-opacity="0.6" stroke-linecap="round"/>
<path d="M760.0 150.0C762.5 153.3 769.2 165.7 775.0 170.0C780.8 174.3 788.8 177.7 795.0 176.0C801.2 174.3 809.2 162.7 812.0 160.0" fill="none" stroke="#777" stroke-width="1.0" stroke-opacity="0.6" stroke-linecap="round"/>
<ellipse cx="729.9" cy="209.6" rx="0.8" ry="1.3" fill="#3a3a3a" fill-opacity="0.9"/>
<ellipse cx="722.9" cy="210.9" rx="1.4" ry="0.8" fill="#3a3a3a" fill-opacity="0.9" transform="rotate(-30 722.9 210.9)"/>
<ellipse cx="743.2" cy="220.8" rx="0.8" ry="1.4" fill="#3a3a3a" fill-opacity="0.9" transform="rotate(-30 743.2 220.8)"/>
<ellipse cx="727.7" cy="203.9" rx="0.7" ry="0.6" fill="#3a3a3a" fill-opacity="0.9" transform="rotate(-30 727.7 203.9)"/>
<ellipse cx="707.5" cy="214.4" rx="1.6" ry="1.3" fill="#3a3a3a" fill-opacity="0.9" transform="rotate(30 707.5 214.4)"/>
<ellipse cx="715.5" cy="203.6" rx="1.6" ry="1.3" fill="#3a3a3a" fill-opacity="0.9" transform="rotate(30 715.5 203.6)"/>
<ellipse cx="755.0" cy="214.0" rx="1.0" ry="0.5" fill="#3a3a3a" fill-opacity="0.9" transform="rotate(-30 755.0 214.0)"/>
<ellipse cx="753.6" cy="226.3" rx="0.7" ry="0.8" fill="#3a3a3a" fill-opacity="0.9" transform="rotate(30 753.6 226.3)"/>
<ellipse cx="711.8" cy="203.3" rx="1.6" ry="1.3" fill="#3a3a3a" fill-opacity="0.9" transform="rotate(-30 711.8 203.3)"/>
<ellipse cx="704.2" cy="215.9" rx="0.9" ry="1.3" fill="#3a3a3a" fill-opacity="0.9" transform="rotate(30 704.2 215.9)"/>
<ellipse cx="704.5" cy="198.2" rx="1.3" ry="0.5" fill="#3a3a3a" fill-opacity="0.9"/>
<ellipse cx="736.1" cy="214.8" rx="0.9" ry="0.6" fill="#3a3a3a" fill-opacity="0.9"/>
<ellipse cx="739.8" cy="203.8" rx="1.4" ry="0.7" fill="#3a3a3a" fill-opacity="0.9" transform="rotate(-30 739.8 203.8)"/>
<ellipse cx="744.3" cy="203.1" rx="1.0" ry="1.1" fill="#3a3a3a" fill-opacity="0.9"/>
<ellipse cx="745.7" cy="221.4" rx="1.3" ry="0.5" fill="#3a3a3a" fill-opacity="0.9" transform="rotate(-30 745.7 221.4)"/>
<ellipse cx="726.5" cy="222.9" rx="0.8" ry="1.0" fill="#3a3a3a" fill-opacity="0.9" transform="rotate(-30 726.5 222.9)"/>
<ellipse cx="724.5" cy="216.6" rx="1.4" ry="1.2" fill="#3a3a3a" fill-opacity="0.9"/>
<ellipse cx="752.6" cy="206.1" rx="1.7" ry="0.8" fill="#3a3a3a" fill-opacity="0.9"/>
<ellipse cx="726.5" cy="225.0" rx="1.3" ry="0.5" fill="#3a3a3a" fill-opacity="0.9" transform="rotate(-30 726.5 225.0)"/>
<ellipse cx="722.4" cy="210.0" rx="0.9" ry="0.9" fill="#3a3a3a" fill-opacity="0.9" transform="rotate(30 722.4 210.0)"/>
<ellipse cx="749.6" cy="210.8" rx="1.0" ry="1.0" fill="#3a3a3a" fill-opacity="0.9"/>
<ellipse cx="705.4" cy="216.5" rx="1.6" ry="0.9" fill="#3a3a3a" fill-opacity="0.9" transform="rotate(-30 705.4 216.5)"/>
<ellipse cx="747.6" cy="217.3" rx="0.7" ry="1.1" fill="#3a3a3a" fill-opacity="0.9"/>
<ellipse cx="758.0" cy="214.5" rx="1.1" ry="1.3" fill="#3a3a3a" fill-opacity="0.9" transform="rotate(30 758.0 214.5)"/>
<ellipse cx="711.8" cy="204.7" rx="1.5" ry="1.3" fill="#3a3a3a" fill-opacity="0.9"/>
<ellipse cx="706.8" cy="221.8" rx="0.8" ry="1.4" fill="#3a3a3a" fill-opacity="0.9"/>
<ellipse cx="738.0" cy="201.4" rx="0.7" ry="0.7" fill="#3a3a3a" fill-opacity="0.9" transform="rotate(30 738.0 201.4)"/>
<ellipse cx="720.5" cy="198.9" rx="1.6" ry="0.8" fill="#3a3a3a" fill-opacity="0.9" transform="rotate(30 720.5 198.9)"/>
<ellipse cx="735.5" cy="204.3" rx="0.7" ry="1.0" fill="#3a3a3a" fill-opacity="0.9" transform="rotate(-30 735.5 204.3)"/>
<ellipse cx="710.6" cy="207.9" rx="0.8" ry="1.0" fill="#3a3a3a" fill-opacity="0.9" transform="rotate(30 710.6 207.9)"/>
<ellipse cx="736.9" cy="221.8" rx="1.5" ry="0.7" fill="#3a3a3a" fill-opacity="0.9" transform="rotate(-30 736.9 221.8)"/>
<ellipse cx="753.3" cy="216.2" rx="0.7" ry="0.5" fill="#3a3a3a" fill-opacity="0.9" transform="rotate(-30 753.3 216.2)"/>
<ellipse cx="711.2" cy="217.8" rx="1.7" ry="0.6" fill="#3a3a3a" fill-opacity="0.9"/>
<ellipse cx="752.1" cy="208.5" rx="1.2" ry="1.0" fill="#3a3a3a" fill-opacity="0.9" transform="rotate(-30 752.1 208.5)"/>
<ellipse cx="725.7" cy="203.8" rx="1.2" ry="1.4" fill="#3a3a3a" fill-opacity="0.9" transform="rotate(-30 725.7 203.8)"/>
<ellipse cx="707.7" cy="213.5" rx="1.4" ry="1.0" fill="#3a3a3a" fill-opacity="0.9" transform="rotate(30 707.7 213.5)"/>
<ellipse cx="734.5" cy="214.2" rx="1.3" ry="1.3" fill="#3a3a3a" fill-opacity="0.9"/>
<ellipse cx="753.1" cy="218.3" rx="1.8" ry="0.6" fill="#3a3a3a" fill-opacity="0.9"/>
<ellipse cx="890.9" cy="235.4" rx="1.4" ry="0.8" fill="#3c3c3c" fill-opacity="0.85" transform="rotate(30 890.9 235.4)"/>
<ellipse cx="914.4" cy="246.6" rx="1.3" ry="0.5" fill="#3c3c3c" fill-opacity="0.85"/>
<ellipse cx="913.0" cy="240.5" rx="1.5" ry="1.0" fill="#3c3c3c" fill-opacity="0.85" transform="rotate(-30 913.0 240.5)"/>
<ellipse cx="859.4" cy="232.0" rx="1.3" ry="0.6" fill="#3c3c3c" fill-opacity="0.85"/>
<ellipse cx="884.9" cy="238.1" rx="0.7" ry="0.6" fill="#3c3c3c" fill-opacity="0.85" transform="rotate(-30 884.9 238.1)"/>
<ellipse cx="895.4" cy="235.9" rx="0.6" ry="0.9" fill="#3c3c3c" fill-opacity="0.85" transform="rotate(-30 895.4 235.9)"/>
<ellipse cx="865.0" cy="230.3" rx="1.5" ry="0.7" fill="#3c3c3c" fill-opacity="0.85" transform="rotate(30 865.0 230.3)"/>
<ellipse cx="791.2" cy="229.6" rx="1.2" ry="1.2" fill="#3c3c3c" fill-opacity="0.85" transform="rotate(30 791.2 229.6)"/>
<ellipse cx="906.6" cy="237.9" rx="1.0" ry="0.7" fill="#3c3c3c" fill-opacity="0.85"/>
<ellipse cx="816.9" cy="225.0" rx="0.7" ry="0.6" fill="#3c3c3c" fill-opacity="0.85" transform="rotate(-30 816.9 225.0)"/>
<ellipse cx="926.7" cy="244.3" rx="1.4" ry="0.8" fill="#3c3c3c" fill-opacity="0.85" transform="rotate(-30 926.7 244.3)"/>
<ellipse cx="818.1" cy="233.0" rx="0.7" ry="0.5" fill="#3c3c3c" fill-opacity="0.85" transform="rotate(-30 818.1 233.0)"/>
<ellipse cx="885.6" cy="233.5" rx="0.9" ry="0.9" fill="#3c3c3c" fill-opacity="0.85"/>
<ellipse cx="862.7" cy="234.6" rx="1.6" ry="0.8" fill="#3c3c3c" fill-opacity="0.85" transform="rotate(30 862.7 234.6)"/>
<ellipse cx="874.7" cy="234.2" rx="0.7" ry="0.7" fill="#3c3c3c" fill-opacity="0.85" transform="rotate(30 874.7 234.2)"/>
<ellipse cx="795.4" cy="221.1" rx="1.0" ry="1.2" fill="#3c3c3c" fill-opacity="0.85" transform="rotate(30 795.4 221.1)"/>
<ellipse cx="920.3" cy="249.4" rx="1.6" ry="1.2" fill="#3c3c3c" fill-opacity="0.85"/>
<ellipse cx="794.1" cy="223.9" rx="1.1" ry="0.7" fill="#3c3c3c" fill-opacity="0.85" transform="rotate(-30 794.1 223.9)"/>
<ellipse cx="838.6" cy="235.8" rx="1.0" ry="0.6" fill="#3c3c3c" fill-opacity="0.85" transform="rotate(30 838.6 235.8)"/>
<ellipse cx="832.1" cy="230.3" rx="1.6" ry="0.8" fill="#3c3c3c" fill-opacity="0.85" transform="rotate(30 832.1 230.3)"/>
<ellipse cx="816.1" cy="227.0" rx="1.0" ry="0.6" fill="#3c3c3c" fill-opacity="0.85" transform="rotate(-30 816.1 227.0)"/>
<ellipse cx="793.8" cy="221.1" rx="1.0" ry="1.1" fill="#3c3c3c" fill-opacity="0.85" transform="rotate(-30 793.8 221.1)"/>
<ellipse cx="802.0" cy="231.6" rx="1.7" ry="0.9" fill="#3c3c3c" fill-opacity="0.85" transform="rotate(-30 802.0 231.6)"/>
<ellipse cx="892.7" cy="237.0" rx="1.2" ry="0.7" fill="#3c3c3c" fill-opacity="0.85"/>
<ellipse cx="883.8" cy="238.1" rx="0.9" ry="1.0" fill="#3c3c3c" fill-opacity="0.85" transform="rotate(-30 883.8 238.1)"/>
<ellipse cx="860.3" cy="234.8" rx="0.6" ry="1.1" fill="#3c3c3c" fill-opacity="0.85"/>
<ellipse cx="800.0" cy="219.7" rx="1.6" ry="0.5" fill="#3c3c3c" fill-opacity="0.85"/>
<ellipse cx="836.0" cy="233.7" rx="1.2" ry="1.1" fill="#3c3c3c" fill-opacity="0.85" transform="rotate(30 836.0 233.7)"/>
<ellipse cx="880.9" cy="237.3" rx="1.6" ry="0.9" fill="#3c3c3c" fill-opacity="0.85"/>
<ellipse cx="861.2" cy="233.7" rx="1.6" ry="0.6" fill="#3c3c3c" fill-opacity="0.85" transform="rotate(30 861.2 233.7)"/>
<path d="M855 228L862 229L868 233L871 236L864 235.5L857 235L850 236Z" fill="#2c2c2c"/>
<ellipse cx="778" cy="222" rx="2.2" ry="3" fill="#333" fill-opacity="1" transform="rotate(30 778 222)"/>
<ellipse cx="728" cy="206" rx="3" ry="2.2" fill="#383838" fill-opacity="1" transform="rotate(30 728 206)"/>
<ellipse cx="725" cy="196" rx="2.4" ry="1.6" fill="#333" fill-opacity="1"/>
<path d="M957.8 93.6C958.5 95.0 959.4 99.4 962.0 102.0C964.6 104.6 968.2 107.2 973.4 109.2C978.6 111.2 986.3 112.9 993.0 114.0C999.7 115.1 1008.0 116.2 1013.5 115.9C1019.0 115.6 1022.3 113.5 1026.0 112.0C1029.7 110.5 1032.1 108.2 1035.8 107.0C1039.5 105.8 1043.9 105.4 1048.0 105.0C1052.1 104.6 1058.2 104.8 1060.3 104.7" fill="none" stroke="#555" stroke-width="1.4" stroke-opacity="0.85" stroke-linecap="round"/>
<path d="M1064.8 84.7C1065.7 87.9 1067.8 97.3 1070.0 104.0C1072.2 110.7 1075.7 118.8 1078.0 124.8C1080.3 130.8 1081.8 134.8 1084.0 140.0C1086.2 145.2 1090.2 153.3 1091.5 156.0" fill="none" stroke="#5a5a5a" stroke-width="1.2" stroke-opacity="0.8" stroke-linecap="round"/>
<path d="M1091.5 156.0C1092.9 155.0 1097.2 152.7 1100.0 150.0C1102.8 147.3 1106.7 141.7 1108.0 140.0" fill="none" stroke="#666" stroke-width="1.0" stroke-opacity="0.7" stroke-linecap="round"/>
<path d="M1038.0 147.0C1040.0 146.5 1045.5 144.7 1050.0 144.0C1054.5 143.3 1061.2 141.7 1064.8 142.6C1068.4 143.5 1072.6 147.6 1071.5 149.3C1070.4 151.0 1062.5 152.2 1058.0 153.0C1053.5 153.8 1048.0 154.8 1044.7 153.8C1041.4 152.8 1039.1 148.1 1038.0 147.0" fill="none" stroke="#3c3c3c" stroke-width="1.8" stroke-opacity="0.9" stroke-linecap="round"/>
<path d="M1035.8 169.4C1040.8 169.7 1056.0 170.6 1066.0 171.0C1076.0 171.4 1086.7 171.6 1096.0 171.6C1105.3 171.6 1113.5 171.4 1122.0 171.0C1130.5 170.6 1140.7 170.2 1147.0 169.4C1153.3 168.6 1157.8 166.6 1160.0 166.0" fill="none" stroke="#5a5a5a" stroke-width="1.4" stroke-opacity="0.8" stroke-linecap="round"/>
<path d="M1006.9 182.7C1010.8 182.2 1022.6 180.0 1030.0 180.0C1037.4 180.0 1043.9 181.9 1051.4 182.7C1058.9 183.5 1067.6 184.6 1075.0 185.0C1082.4 185.4 1089.8 184.8 1096.0 185.0C1102.2 185.2 1106.4 186.4 1112.0 186.0C1117.6 185.6 1126.5 183.2 1129.4 182.7" fill="none" stroke="#555" stroke-width="1.4" stroke-opacity="0.85" stroke-linecap="round"/>
<ellipse cx="1124.5" cy="183.5" rx="6" ry="2.2" fill="#222" fill-opacity="1" transform="rotate(-12 1124.5 183.5)"/>
<path d="M985.0 184.0C986.7 184.3 991.5 185.8 995.0 186.0C998.5 186.2 1004.2 185.2 1006.0 185.0" fill="none" stroke="#555" stroke-width="2" stroke-opacity="0.7" stroke-linecap="round"/>
<path d="M1095.0 108.0C1097.5 108.7 1104.8 112.3 1110.0 112.0C1115.2 111.7 1123.3 107.0 1126.0 106.0" fill="none" stroke="#666" stroke-width="1.0" stroke-opacity="0.7" stroke-linecap="round"/>
<path d="M1140.6 89.0C1142.2 88.8 1146.3 87.6 1150.0 88.0C1153.7 88.4 1160.8 90.8 1162.9 91.4" fill="none" stroke="#4a4a4a" stroke-width="2.0" stroke-opacity="0.8" stroke-linecap="round"/>
<ellipse cx="1149.5" cy="129.3" rx="3.5" ry="2.5" fill="#3a3a3a" fill-opacity="1" transform="rotate(30 1149.5 129.3)"/>
<ellipse cx="1104" cy="60" rx="3" ry="2" fill="#444" fill-opacity="1"/>
<path d="M1192.0 115.0C1192.3 117.2 1193.3 124.2 1194.0 128.0C1194.7 131.8 1195.7 136.3 1196.0 138.0" fill="none" stroke="#555" stroke-width="1.6" stroke-opacity="0.8" stroke-linecap="round"/>
<path d="M1170.0 145.0C1173.3 145.8 1184.0 148.2 1190.0 150.0C1196.0 151.8 1203.3 155.0 1206.0 156.0" fill="none" stroke="#666" stroke-width="1.0" stroke-opacity="0.7" stroke-linecap="round"/>
<path d="M1040.0 122.0C1041.3 121.3 1046.3 117.3 1048.0 118.0C1049.7 118.7 1050.7 124.0 1050.0 126.0C1049.3 128.0 1045.0 129.3 1044.0 130.0" fill="none" stroke="#c8c8c8" stroke-width="1.2" stroke-opacity="0.8" stroke-linecap="round"/>
<path d="M1098.0 88.0C1099.3 87.7 1104.7 85.0 1106.0 86.0C1107.3 87.0 1106.0 92.7 1106.0 94.0" fill="none" stroke="#c8c8c8" stroke-width="1.2" stroke-opacity="0.8" stroke-linecap="round"/>
<ellipse cx="1183" cy="198" rx="4" ry="2.5" fill="#262626" fill-opacity="1" transform="rotate(30 1183 198)"/>
<ellipse cx="1186" cy="207" rx="2.5" ry="5" fill="#262626" fill-opacity="1"/>
<ellipse cx="1184" cy="218" rx="3" ry="4" fill="#262626" fill-opacity="1" transform="rotate(20 1184 218)"/>
<ellipse cx="1180" cy="228" rx="1.8" ry="6" fill="#262626" fill-opacity="1" transform="rotate(5 1180 228)"/>
<ellipse cx="1147" cy="222" rx="4" ry="3" fill="#262626" fill-opacity="1" transform="rotate(30 1147 222)"/>
<ellipse cx="1160" cy="226" rx="3" ry="2" fill="#262626" fill-opacity="1"/>
<path d="M1146.0 222.0C1146.7 220.3 1148.0 214.3 1150.0 212.0C1152.0 209.7 1155.7 207.3 1158.0 208.0C1160.3 208.7 1163.7 213.0 1164.0 216.0C1164.3 219.0 1162.3 224.3 1160.0 226.0C1157.7 227.7 1151.7 226.0 1150.0 226.0" fill="none" stroke="#4a4a4a" stroke-width="1.2" stroke-opacity="0.8" stroke-linecap="round"/>
</g>
<path d="M702.0 43.5C708.3 43.5 727.0 43.4 740.0 43.5C753.0 43.6 766.7 43.9 780.0 44.0C793.3 44.1 806.7 43.9 820.0 44.0C833.3 44.1 846.7 44.4 860.0 44.5C873.3 44.6 886.7 44.6 900.0 44.5C913.3 44.4 926.7 44.2 940.0 44.0C953.3 43.8 965.0 43.7 980.0 43.5C995.0 43.3 1013.3 43.2 1030.0 43.0C1046.7 42.8 1063.3 42.6 1080.0 42.5C1096.7 42.4 1115.0 42.6 1130.0 42.5C1145.0 42.4 1157.3 42.2 1170.0 42.0C1182.7 41.8 1200.0 41.6 1206.0 41.5L1206.0 14.0L702.0 14.0Z" fill="#808080" filter="url(#b05)"/>
<path d="M702.0 40.5C708.3 40.5 727.0 40.4 740.0 40.5C753.0 40.6 766.7 40.9 780.0 41.0C793.3 41.1 806.7 40.9 820.0 41.0C833.3 41.1 846.7 41.4 860.0 41.5C873.3 41.6 886.7 41.6 900.0 41.5C913.3 41.4 926.7 41.2 940.0 41.0C953.3 40.8 965.0 40.7 980.0 40.5C995.0 40.3 1013.3 40.2 1030.0 40.0C1046.7 39.8 1063.3 39.6 1080.0 39.5C1096.7 39.4 1115.0 39.6 1130.0 39.5C1145.0 39.4 1157.3 39.2 1170.0 39.0C1182.7 38.8 1200.0 38.6 1206.0 38.5L1206.0 14.0L702.0 14.0Z" fill="#0b0b0b" filter="url(#b05)"/>
<g filter="url(#b2)"><ellipse cx="894" cy="36" rx="9" ry="5" fill="#5a5a5a" fill-opacity="1"/><ellipse cx="1200" cy="23" rx="10" ry="5" fill="#4a4a4a" fill-opacity="1"/><ellipse cx="706" cy="34" rx="4" ry="10" fill="#555" fill-opacity="1"/><ellipse cx="800" cy="18" rx="80" ry="3" fill="#1e1e1e" fill-opacity="1"/></g>
<rect x="960.7" y="244.0" width="245.3" height="178.3" fill="#959595"/>
<rect x="960.7" y="305" width="245.3" height="118" filter="url(#nzD)" opacity="0.10"/>
<rect x="960.7" y="305" width="245.3" height="118" filter="url(#nzL)" opacity="0.10"/>
<g filter="url(#b2)" opacity="0.85"><ellipse cx="1010" cy="385" rx="45" ry="35" fill="#8e8e8e" fill-opacity="1"/><ellipse cx="1090" cy="400" rx="50" ry="22" fill="#909090" fill-opacity="1"/><ellipse cx="1175" cy="350" rx="28" ry="45" fill="#9b9b9b" fill-opacity="1"/><ellipse cx="1100" cy="335" rx="18" ry="8" fill="#7c7c7c" fill-opacity="1" transform="rotate(35 1100 335)"/><ellipse cx="1094" cy="364" rx="8" ry="5" fill="#6c6c6c" fill-opacity="1" transform="rotate(-15 1094 364)"/><ellipse cx="1144" cy="344" rx="3" ry="3" fill="#666" fill-opacity="1"/><ellipse cx="1033" cy="378" rx="2" ry="2" fill="#777" fill-opacity="1"/></g>
<g filter="url(#b05)"><path d="M1085.0 322.0C1087.5 323.7 1095.5 328.2 1100.0 332.0C1104.5 335.8 1109.0 341.2 1112.0 345.0C1115.0 348.8 1117.0 353.3 1118.0 355.0" fill="none" stroke="#777" stroke-width="1.4" stroke-opacity="0.7" stroke-linecap="round"/><path d="M1172.0 325.0C1173.3 328.3 1177.0 337.5 1180.0 345.0C1183.0 352.5 1186.7 361.7 1190.0 370.0C1193.3 378.3 1198.3 390.8 1200.0 395.0" fill="none" stroke="#7a7a7a" stroke-width="1.2" stroke-opacity="0.7" stroke-linecap="round"/><path d="M1000.0 318.0C1001.7 321.7 1005.0 332.2 1010.0 340.0C1015.0 347.8 1022.5 357.5 1030.0 365.0C1037.5 372.5 1050.8 381.7 1055.0 385.0" fill="none" stroke="#b8b8b8" stroke-width="0.9" stroke-opacity="0.6" stroke-linecap="round"/><path d="M1062.0 398.0C1063.7 400.0 1069.0 409.0 1072.0 410.0C1075.0 411.0 1078.7 405.0 1080.0 404.0" fill="none" stroke="#777" stroke-width="1.0" stroke-opacity="0.6" stroke-linecap="round"/><ellipse cx="1094" cy="364" rx="5" ry="3" fill="#4c4c4c" fill-opacity="1" transform="rotate(-15 1094 364)"/></g>
<path d="M960.0 308.5C962.5 308.6 970.0 309.2 975.0 309.0C980.0 308.8 985.0 307.5 990.0 307.5C995.0 307.5 1000.0 308.8 1005.0 309.0C1010.0 309.2 1014.2 308.8 1020.0 309.0C1025.8 309.2 1033.3 309.9 1040.0 310.0C1046.7 310.1 1052.5 309.3 1060.0 309.5C1067.5 309.7 1076.7 310.6 1085.0 311.0C1093.3 311.4 1101.7 311.8 1110.0 312.0C1118.3 312.2 1126.7 311.8 1135.0 312.0C1143.3 312.2 1153.3 313.0 1160.0 313.0C1166.7 313.0 1170.8 312.7 1175.0 312.0C1179.2 311.3 1181.7 309.7 1185.0 309.0C1188.3 308.3 1191.3 308.2 1195.0 308.0C1198.7 307.8 1205.0 308.0 1207.0 308.0L1207.0 280.0L960.0 280.0Z" fill="#676767" filter="url(#b05)"/>
<path d="M960.0 285.5C966.7 285.6 986.7 285.8 1000.0 286.0C1013.3 286.2 1026.7 286.3 1040.0 286.5C1053.3 286.7 1066.7 286.8 1080.0 287.0C1093.3 287.2 1106.7 287.3 1120.0 287.5C1133.3 287.7 1145.5 287.8 1160.0 288.0C1174.5 288.2 1199.2 288.4 1207.0 288.5L1207.0 244.0L960.0 244.0Z" fill="#050505"/>
<path d="M960.7 422.3V244.0H1206.0" fill="none" stroke="#c4c4c4" stroke-width="1" stroke-opacity="0.6"/>
<line x1="1070.5" y1="52" x2="963" y2="240" stroke="#fff" stroke-opacity="0.95" stroke-width="1.8" stroke-dasharray="7 4"/>
<line x1="1092.5" y1="52" x2="1203.5" y2="241" stroke="#fff" stroke-opacity="0.95" stroke-width="1.8" stroke-dasharray="7 4"/>
<rect x="1070" y="34" width="22.7" height="17.8" fill="none" stroke="#f4f4f4" stroke-width="1.2"/>
<path d="M859.4 196.5L859.4 221.5" stroke="#fff" stroke-width="3.2" fill="none" stroke-linecap="butt"/><path d="M859.4 226.5L852.4 216.7L859.4 221.5L866.4 216.7Z" fill="#fff" stroke="#fff" stroke-width="0.8" stroke-linejoin="round"/>
<path d="M1005.0 282.0L1000.4 299.2" stroke="#fff" stroke-width="3.6" fill="none" stroke-linecap="butt"/><path d="M999.0 304.5L994.4 292.3L1000.4 299.2L1009.0 296.2Z" fill="#fff" stroke="#fff" stroke-width="0.8" stroke-linejoin="round"/>
<text class="ol" x="733" y="122.6">Coating</text><text class="ol2" x="733" y="122.6">Coating</text>
<text class="ol" x="831" y="189.4">Voids</text><text class="ol2" x="831" y="189.4">Voids</text>
<text class="ol" x="746.3" y="313.7">Zircaloy-4</text><text class="ol2" x="746.3" y="313.7">Zircaloy-4</text>
<text x="990.8" y="269" font-size="21.5" fill="#f6f6f6" >Cr<tspan font-size="14.2" dy="5.4">2</tspan><tspan dy="-5.4">O</tspan><tspan font-size="14.2" dy="5.4">3</tspan><tspan dy="-5.4"> layer</tspan></text>
<line x1="1141.7" y1="277.2" x2="1141.7" y2="391" stroke="#f01818" stroke-width="3.2" stroke-dasharray="3.2 4.13"/>
<text x="1094.3" y="408.8" font-size="15" font-weight="bold" fill="#f01414">EDS line scan</text>
<rect x="709.6" y="23.3" width="31.2" height="25.8" fill="#fff"/><text x="711.8" y="44.2" font-size="24" fill="#1a1a1a">(b)</text>
<rect x="710" y="386" width="67.6" height="28" fill="#fff"/><text x="713.5" y="405.2" font-size="23.5" fill="#1a1a1a">25 μm</text><line x1="713.4" y1="410.2" x2="773" y2="410.2" stroke="#1a1a1a" stroke-width="1.7"/>
</g>
<rect x="702.3" y="14.0" width="503.7" height="408.3" fill="none" stroke="#2a2a2a" stroke-width="1.1"/>
<clipPath id="cpc"><rect x="139.4" y="443.4" width="504.2" height="445.0"/></clipPath>
<g clip-path="url(#cpc)">
<rect x="139.4" y="443.4" width="504.2" height="445.0" fill="#c7c7c7"/>
<g filter="url(#b4)">
<ellipse cx="215" cy="560" rx="38" ry="38" fill="#a9a9a9" fill-opacity="1"/>
<ellipse cx="290" cy="590" rx="30" ry="30" fill="#b0b0b0" fill-opacity="1"/>
<ellipse cx="170" cy="590" rx="25" ry="40" fill="#c6c6c6" fill-opacity="1"/>
<ellipse cx="500" cy="555" rx="50" ry="28" fill="#c4c4c4" fill-opacity="1"/>
<ellipse cx="420" cy="600" rx="25" ry="14" fill="#acacac" fill-opacity="1"/>
<ellipse cx="590" cy="600" rx="30" ry="20" fill="#b2b2b2" fill-opacity="1"/>
<ellipse cx="360" cy="560" rx="30" ry="40" fill="#c0c0c0" fill-opacity="1"/>
<ellipse cx="625" cy="560" rx="20" ry="40" fill="#c2c2c2" fill-opacity="1"/>
</g>
<rect x="139.4" y="500" width="504.2" height="150" filter="url(#nzD)" opacity="0.07"/>
<rect x="139.4" y="500" width="504.2" height="150" filter="url(#nzL)" opacity="0.10"/>
<rect x="139.4" y="500" width="504.2" height="150" filter="url(#nzF)" opacity="0.05"/>
<path d="M100.0 630.0C106.5 629.8 127.3 628.8 139.0 629.0C150.7 629.2 159.8 631.2 170.0 631.0C180.2 630.8 190.0 628.8 200.0 628.0C210.0 627.2 220.0 625.8 230.0 626.0C240.0 626.2 250.5 628.3 260.0 629.0C269.5 629.7 277.0 630.2 287.0 630.0C297.0 629.8 307.8 629.0 320.0 628.0C332.2 627.0 345.8 624.5 360.0 624.0C374.2 623.5 391.7 624.3 405.0 625.0C418.3 625.7 427.5 626.8 440.0 628.0C452.5 629.2 466.2 631.7 480.0 632.0C493.8 632.3 509.7 630.7 523.0 630.0C536.3 629.3 548.8 629.0 560.0 628.0C571.2 627.0 581.7 626.0 590.0 624.0C598.3 622.0 604.2 619.0 610.0 616.0C615.8 613.0 619.5 609.2 625.0 606.0C630.5 602.8 633.8 599.7 643.0 597.0C652.2 594.3 673.8 591.2 680.0 590.0L680.0 920.0L100.0 920.0Z" fill="#d3d3d3" filter="url(#b2)"/>
<rect x="139.4" y="625" width="504.2" height="265" filter="url(#nzS)" opacity="0.16"/>
<g filter="url(#b4)" opacity="0.6"><ellipse cx="290" cy="665" rx="14" ry="10" fill="#c2c2c2" fill-opacity="1"/><ellipse cx="200" cy="720" rx="40" ry="30" fill="#cdcdcd" fill-opacity="1"/><ellipse cx="330" cy="760" rx="40" ry="50" fill="#dadada" fill-opacity="1"/><ellipse cx="360" cy="850" rx="50" ry="25" fill="#dcdcdc" fill-opacity="1"/><ellipse cx="180" cy="830" rx="30" ry="30" fill="#cfcfcf" fill-opacity="1"/><ellipse cx="420" cy="700" rx="30" ry="25" fill="#d8d8d8" fill-opacity="1"/></g>
<g filter="url(#b05)">
<g fill="none" stroke="#707070" stroke-linecap="round"><path d="M155.3 620.6C157.6 619.7 165.1 616.6 169.1 615.1C173.1 613.6 176.4 612.6 179.3 611.7C182.3 610.7 183.5 610.7 186.7 609.5C190.0 608.3 194.7 605.9 198.9 604.4C203.0 602.9 209.6 601.0 211.8 600.3" stroke-width="0.69" stroke-opacity="0.21"/><path d="M142.0 581.7C143.5 581.2 147.9 579.9 151.2 578.8C154.6 577.6 158.5 576.3 162.3 574.9C166.1 573.5 172.1 571.2 174.1 570.4" stroke-width="1.07" stroke-opacity="0.27"/><path d="M531.3 589.7C533.5 588.6 541.2 585.0 544.6 583.3C548.1 581.6 549.8 581.0 552.0 579.4C554.2 577.7 555.5 576.2 557.7 573.6C559.9 571.0 563.2 567.3 565.2 563.8C567.2 560.3 568.9 554.4 569.7 552.5" stroke-width="0.66" stroke-opacity="0.33"/><path d="M321.0 548.8C323.3 549.5 330.7 551.8 335.0 553.2C339.3 554.6 343.5 556.1 346.9 557.5C350.3 558.8 353.0 559.9 355.6 561.5C358.2 563.1 361.1 566.0 362.2 566.9" stroke-width="1.02" stroke-opacity="0.25"/><path d="M142.0 572.4C143.6 571.1 148.8 567.0 151.5 564.4C154.3 561.8 156.1 559.6 158.2 556.9C160.4 554.2 162.9 551.4 164.6 548.0C166.4 544.6 168.0 540.2 168.9 536.5C169.8 532.8 169.9 527.5 170.1 525.7" stroke-width="0.95" stroke-opacity="0.28"/><path d="M381.7 604.8C383.3 603.8 388.4 601.0 391.3 598.9C394.1 596.8 396.4 594.5 398.9 592.2C401.5 589.8 404.5 587.1 406.7 584.9C408.9 582.6 410.1 581.2 412.2 578.7C414.4 576.2 417.2 573.0 419.5 569.9C421.8 566.7 425.0 561.5 426.1 559.8" stroke-width="1.15" stroke-opacity="0.18"/><path d="M583.1 549.7C585.5 549.6 593.3 549.2 597.2 549.0C601.0 548.9 602.3 548.9 606.0 548.8C609.7 548.7 615.3 548.3 619.4 548.5C623.6 548.7 627.7 549.3 631.0 550.0C634.3 550.8 637.9 552.5 639.2 553.0" stroke-width="0.79" stroke-opacity="0.18"/><path d="M464.4 542.3C466.4 542.2 472.3 542.2 476.6 541.8C480.8 541.4 485.9 540.8 490.0 539.9C494.2 539.0 499.4 536.8 501.3 536.2" stroke-width="1.14" stroke-opacity="0.19"/><path d="M551.9 546.7C553.2 546.3 557.3 545.1 560.1 544.7C562.8 544.4 564.9 544.5 568.4 544.7C571.9 544.9 576.6 544.9 581.1 545.8C585.5 546.7 590.8 548.6 595.0 550.3C599.3 552.0 604.6 554.9 606.5 555.8" stroke-width="1.18" stroke-opacity="0.26"/><path d="M515.5 614.9C517.3 614.6 522.4 613.4 526.3 613.5C530.2 613.6 534.7 614.6 538.8 615.6C542.9 616.5 549.0 618.7 551.1 619.3" stroke-width="1.12" stroke-opacity="0.17"/><path d="M289.8 547.3C292.1 547.3 299.5 547.2 303.9 547.3C308.3 547.3 311.9 547.8 316.2 547.7C320.4 547.6 325.1 546.9 329.4 546.8C333.8 546.7 337.5 547.1 342.1 547.2C346.7 547.3 353.2 547.4 356.9 547.3C360.7 547.1 363.5 546.4 364.8 546.2" stroke-width="0.85" stroke-opacity="0.28"/><path d="M303.0 616.3C304.4 615.3 308.7 613.3 311.6 610.7C314.4 608.1 317.6 604.1 319.9 600.6C322.2 597.0 323.9 593.3 325.3 589.5C326.6 585.7 327.5 581.0 328.1 577.8C328.8 574.6 328.9 572.8 329.2 570.3C329.4 567.8 329.6 564.0 329.7 562.8" stroke-width="0.82" stroke-opacity="0.18"/><path d="M424.9 585.7C426.1 586.1 428.6 587.1 432.2 587.9C435.8 588.8 442.4 590.2 446.3 590.8C450.3 591.3 452.5 591.1 455.8 591.2C459.1 591.3 464.4 591.2 466.2 591.3" stroke-width="0.74" stroke-opacity="0.22"/><path d="M324.4 610.6C326.4 611.0 332.5 612.5 336.1 613.1C339.6 613.7 342.3 613.7 345.6 614.2C348.9 614.7 352.0 615.3 356.1 616.1C360.2 616.8 366.0 617.7 370.4 618.6C374.8 619.6 380.4 621.4 382.4 621.9" stroke-width="0.62" stroke-opacity="0.22"/><path d="M269.8 580.9C272.3 580.4 279.7 578.6 284.4 577.9C289.2 577.2 293.9 576.8 298.4 576.8C303.0 576.8 307.4 577.4 311.6 577.9C315.8 578.4 321.5 579.5 323.5 579.8" stroke-width="0.62" stroke-opacity="0.24"/><path d="M191.1 597.1C193.3 598.0 201.0 601.0 204.3 602.5C207.6 604.0 208.0 603.9 210.9 606.1C213.9 608.2 219.1 612.9 222.1 615.4C225.0 617.9 227.5 620.3 228.6 621.2" stroke-width="1.11" stroke-opacity="0.23"/><path d="M221.9 565.2C223.2 565.8 226.5 566.6 229.7 568.5C232.9 570.4 238.3 574.1 241.0 576.6C243.8 579.1 244.0 580.6 246.2 583.7C248.3 586.7 251.7 591.4 253.9 595.2C256.1 598.9 258.6 604.1 259.5 605.9" stroke-width="0.70" stroke-opacity="0.19"/><path d="M164.4 603.5C165.8 602.8 169.5 600.8 173.0 599.3C176.6 597.7 181.6 596.1 185.8 594.3C189.9 592.5 194.1 590.0 198.0 588.2C201.9 586.4 206.1 584.9 209.3 583.4C212.6 581.9 214.8 580.5 217.5 579.3C220.2 578.0 224.1 576.5 225.5 576.0" stroke-width="1.15" stroke-opacity="0.19"/><path d="M381.7 576.0C383.1 576.2 386.9 576.9 390.3 577.1C393.8 577.3 398.0 577.2 402.3 577.0C406.6 576.8 412.5 576.3 416.2 575.8C419.9 575.2 421.2 575.1 424.7 573.6C428.2 572.1 435.0 567.9 437.1 566.7" stroke-width="0.86" stroke-opacity="0.24"/><path d="M219.1 596.1C220.9 596.7 225.8 598.6 229.7 599.7C233.7 600.8 239.5 601.9 242.8 602.7C246.1 603.6 246.6 604.1 249.6 604.6C252.6 605.0 257.6 605.1 261.1 605.5C264.6 605.9 269.0 606.6 270.6 606.9" stroke-width="0.99" stroke-opacity="0.30"/><path d="M493.1 559.6C495.0 559.9 500.5 560.9 504.1 561.3C507.7 561.8 510.7 562.1 514.8 562.4C518.8 562.7 524.7 563.2 528.3 563.3C532.0 563.4 533.1 563.6 536.6 563.1C540.2 562.6 545.3 561.4 549.6 560.4C554.0 559.4 560.5 557.7 562.7 557.2" stroke-width="0.78" stroke-opacity="0.26"/><path d="M149.1 515.4C150.6 515.9 154.1 517.3 157.8 518.7C161.5 520.0 166.9 521.9 171.4 523.5C175.9 525.1 181.0 526.8 184.9 528.3C188.8 529.8 191.2 530.8 194.7 532.5C198.2 534.1 201.8 536.2 205.9 538.2C209.9 540.2 216.9 543.6 219.1 544.6" stroke-width="1.18" stroke-opacity="0.17"/><path d="M364.4 524.9C365.5 524.4 368.1 523.2 371.1 521.5C374.0 519.8 380.2 516.0 382.0 514.9" stroke-width="1.12" stroke-opacity="0.27"/><path d="M517.3 543.5C518.6 543.3 521.6 542.4 525.1 542.2C528.5 542.0 534.5 542.1 537.9 542.2C541.3 542.3 542.2 542.1 545.5 542.9C548.9 543.6 554.9 545.3 558.3 546.5C561.6 547.7 564.4 549.5 565.7 550.1" stroke-width="0.84" stroke-opacity="0.30"/><path d="M175.5 545.9C177.4 545.5 182.4 544.4 186.6 543.5C190.8 542.7 197.1 541.4 200.9 540.6C204.7 539.8 205.9 539.3 209.3 538.7C212.7 538.1 219.2 537.2 221.2 536.9" stroke-width="0.71" stroke-opacity="0.29"/><path d="M469.8 544.2C471.5 543.4 477.0 541.0 479.7 539.7C482.4 538.4 483.2 538.2 485.9 536.5C488.6 534.7 493.0 531.4 496.1 529.2C499.1 527.1 501.6 525.7 504.3 523.6C507.0 521.6 511.0 518.0 512.3 516.9" stroke-width="1.27" stroke-opacity="0.20"/><path d="M364.8 537.9C366.9 537.5 373.8 535.7 377.8 535.5C381.7 535.3 384.6 536.1 388.5 536.8C392.4 537.5 397.5 538.5 401.3 539.7C405.0 540.9 407.2 542.2 411.1 544.0C414.9 545.8 422.1 549.6 424.3 550.7" stroke-width="0.74" stroke-opacity="0.19"/><path d="M417.9 561.2C420.1 561.8 427.1 563.8 430.9 564.8C434.8 565.7 437.4 566.7 441.0 567.2C444.6 567.7 449.2 567.5 452.5 567.8C455.9 568.1 459.8 568.6 461.3 568.8" stroke-width="1.04" stroke-opacity="0.32"/><path d="M149.1 523.1C150.4 523.7 154.5 525.6 157.0 526.9C159.5 528.2 161.4 529.2 164.1 531.0C166.7 532.8 170.0 535.3 172.8 537.5C175.7 539.7 178.6 541.9 181.1 544.4C183.5 546.8 186.4 550.8 187.4 552.1" stroke-width="1.27" stroke-opacity="0.20"/><path d="M403.8 521.9C405.8 522.1 411.3 523.0 415.6 523.3C419.9 523.5 425.7 523.5 429.5 523.4C433.3 523.2 434.6 522.6 438.4 522.4C442.2 522.1 448.2 522.2 452.2 521.9C456.1 521.6 458.3 521.0 462.1 520.6C465.8 520.2 472.6 519.6 474.7 519.4" stroke-width="0.97" stroke-opacity="0.29"/><path d="M180.7 611.0C182.1 611.0 186.2 611.0 189.1 610.9C192.0 610.7 195.5 610.6 198.1 610.1C200.7 609.5 201.8 609.4 204.8 607.4C207.8 605.4 214.2 599.7 216.1 598.1" stroke-width="1.13" stroke-opacity="0.19"/><path d="M497.6 585.1C499.0 585.4 503.1 586.3 506.1 587.0C509.2 587.7 511.9 588.4 515.9 589.4C520.0 590.4 526.4 592.4 530.4 593.1C534.4 593.7 538.3 593.1 539.9 593.1" stroke-width="1.05" stroke-opacity="0.16"/><path d="M304.5 542.5C306.3 543.3 311.7 545.8 315.2 547.5C318.6 549.3 322.5 551.5 325.3 553.2C328.1 554.9 329.5 555.9 331.9 557.7C334.3 559.5 338.4 562.8 339.7 563.8" stroke-width="1.16" stroke-opacity="0.22"/><path d="M155.3 533.1C157.5 533.8 164.4 536.0 168.4 537.3C172.4 538.7 175.3 539.6 179.2 541.3C183.1 543.0 188.4 545.7 191.8 547.6C195.2 549.5 196.7 550.6 199.5 552.7C202.3 554.8 206.9 559.0 208.4 560.3" stroke-width="1.24" stroke-opacity="0.25"/><path d="M425.0 598.9C426.5 599.8 430.7 602.1 434.0 604.1C437.4 606.1 441.7 608.7 445.1 611.1C448.4 613.5 451.5 615.6 454.2 618.4C456.9 621.2 460.3 626.3 461.5 627.9" stroke-width="1.19" stroke-opacity="0.19"/><path d="M171.7 573.1C173.8 573.7 179.9 575.6 184.2 576.6C188.4 577.6 193.7 578.4 197.1 579.1C200.4 579.8 203.0 580.5 204.2 580.8" stroke-width="1.26" stroke-opacity="0.33"/><path d="M154.6 622.2C156.3 621.8 161.8 620.6 165.3 619.8C168.7 618.9 171.3 618.5 175.2 617.1C179.0 615.7 186.2 612.3 188.4 611.4" stroke-width="0.65" stroke-opacity="0.22"/><path d="M351.2 575.6C352.8 574.9 358.2 573.0 361.1 571.4C364.0 569.8 366.3 567.9 368.5 566.2C370.7 564.5 372.5 563.4 374.5 561.1C376.4 558.9 378.4 555.9 380.3 552.5C382.1 549.1 384.0 545.0 385.5 540.6C387.1 536.2 389.0 528.7 389.7 526.4" stroke-width="1.26" stroke-opacity="0.19"/><path d="M183.6 585.7C185.8 585.2 192.6 583.8 196.6 582.4C200.6 580.9 203.7 579.3 207.6 576.9C211.4 574.5 217.6 569.5 219.7 568.0" stroke-width="0.67" stroke-opacity="0.31"/><path d="M567.9 527.4C570.3 528.0 578.5 530.0 582.1 530.9C585.8 531.8 586.4 532.3 589.9 532.7C593.5 533.2 599.6 533.5 603.2 533.8C606.7 534.0 608.4 534.1 611.3 534.5C614.2 534.8 619.2 535.5 620.7 535.7" stroke-width="1.15" stroke-opacity="0.20"/><path d="M158.8 569.3C160.4 568.7 165.3 566.5 168.2 565.7C171.0 564.9 172.5 564.7 176.1 564.5C179.7 564.4 185.6 564.3 189.8 564.7C194.1 565.2 198.3 566.6 201.4 567.3C204.5 568.0 207.3 568.7 208.5 568.9" stroke-width="1.00" stroke-opacity="0.20"/><path d="M222.6 547.1C224.7 547.3 231.2 547.3 235.3 548.4C239.4 549.6 244.2 552.1 247.2 554.0C250.2 555.9 250.8 556.8 253.1 559.7C255.4 562.5 259.3 568.1 261.1 571.1C262.9 574.1 263.5 576.6 264.0 577.7" stroke-width="0.90" stroke-opacity="0.18"/><path d="M582.5 599.4C584.5 600.2 590.3 602.3 594.4 604.6C598.4 606.8 604.7 611.5 606.8 612.8" stroke-width="1.21" stroke-opacity="0.28"/></g>
<path d="M250 804L254 801L258 803L262 801L266 804L264 809L258 809L254 812L250 809Z" fill="#303030"/>
<path d="M401.2 590.5C403.0 591.9 408.1 596.4 412.0 599.0C415.9 601.6 418.9 604.0 424.6 606.0C430.3 608.0 438.6 609.5 446.0 611.0C453.4 612.5 462.3 614.0 469.1 615.0C475.9 616.0 481.1 616.3 487.0 617.0C492.9 617.7 499.3 618.6 504.8 619.4C510.3 620.2 514.8 621.1 520.0 622.0C525.2 622.9 533.3 624.5 536.0 625.0" fill="none" stroke="#444" stroke-width="1.8" stroke-opacity="0.9" stroke-linecap="round"/>
<path d="M410.0 585.0C413.3 587.2 422.5 594.5 430.0 598.0C437.5 601.5 446.7 604.0 455.0 606.0C463.3 608.0 470.8 608.7 480.0 610.0C489.2 611.3 505.0 613.3 510.0 614.0" fill="none" stroke="#6a6a6a" stroke-width="1.0" stroke-opacity="0.7" stroke-linecap="round"/>
<path d="M540.5 615.0C542.1 614.3 547.0 612.5 550.0 611.0C553.0 609.5 555.3 608.3 558.3 606.0C561.3 603.7 565.0 600.0 568.0 597.0C571.0 594.0 573.6 591.0 576.1 588.2C578.6 585.4 580.8 582.6 583.0 580.0C585.2 577.4 587.3 574.8 589.5 572.6C591.7 570.4 594.1 568.5 596.0 567.0C597.9 565.5 599.5 566.5 600.6 563.7C601.8 560.9 602.9 553.6 602.9 550.3C602.9 547.0 599.9 545.6 600.6 543.7C601.3 541.9 606.2 540.0 607.3 539.2" fill="none" stroke="#383838" stroke-width="2.2" stroke-opacity="0.95" stroke-linecap="round"/>
<path d="M505.0 606.0C508.3 606.7 518.3 609.5 525.0 610.0C531.7 610.5 541.7 609.2 545.0 609.0" fill="none" stroke="#666" stroke-width="1.2" stroke-opacity="0.7" stroke-linecap="round"/>
<path d="M536.0 523.6C538.2 524.0 545.4 524.9 549.4 525.8C553.4 526.7 557.0 527.9 560.0 529.0C563.0 530.1 564.9 532.3 567.2 532.5C569.5 532.7 572.8 530.7 573.9 530.3" fill="none" stroke="#4a4a4a" stroke-width="1.6" stroke-opacity="0.85" stroke-linecap="round"/>
<path d="M440.2 520.0C440.0 523.3 439.4 532.7 439.0 540.0C438.6 547.3 438.2 559.8 438.0 563.7" fill="none" stroke="#6a6a6a" stroke-width="1.0" stroke-opacity="0.7" stroke-linecap="round"/>
<path d="M470.0 520.0C473.3 520.8 485.0 524.7 490.0 525.0C495.0 525.3 498.3 522.5 500.0 522.0" fill="none" stroke="#777" stroke-width="1.2" stroke-opacity="0.6" stroke-linecap="round"/>
<path d="M520.0 540.0C522.5 542.0 531.7 547.0 535.0 552.0C538.3 557.0 538.3 563.7 540.0 570.0C541.7 576.3 544.2 586.7 545.0 590.0" fill="none" stroke="#7a7a7a" stroke-width="0.9" stroke-opacity="0.6" stroke-linecap="round"/>
<path d="M455.0 555.0C457.5 555.8 466.2 558.2 470.0 560.0C473.8 561.8 476.7 565.0 478.0 566.0" fill="none" stroke="#6a6a6a" stroke-width="1.0" stroke-opacity="0.7" stroke-linecap="round"/>
<path d="M580.0 560.0C580.3 561.0 581.2 564.0 582.0 566.0C582.8 568.0 584.5 571.0 585.0 572.0" fill="none" stroke="#555" stroke-width="1.0" stroke-opacity="0.7" stroke-linecap="round"/>
<path d="M425.0 565.0C426.2 566.7 429.5 571.2 432.0 575.0C434.5 578.8 436.2 583.8 440.0 588.0C443.8 592.2 452.5 598.0 455.0 600.0" fill="none" stroke="#555" stroke-width="1.4" stroke-opacity="0.7" stroke-linecap="round"/>
<path d="M395.0 580.0C396.2 578.7 399.2 574.3 402.0 572.0C404.8 569.7 408.3 567.3 412.0 566.0C415.7 564.7 422.0 564.3 424.0 564.0" fill="none" stroke="#777" stroke-width="1.0" stroke-opacity="0.6" stroke-linecap="round"/>
<path d="M610.0 597.0C611.7 597.5 617.5 598.8 620.0 600.0C622.5 601.2 624.2 603.3 625.0 604.0" fill="none" stroke="#555" stroke-width="1.4" stroke-opacity="0.7" stroke-linecap="round"/>
<ellipse cx="420" cy="515.8" rx="4.5" ry="1.5" fill="#3a3a3a" fill-opacity="1"/>
<ellipse cx="432.6" cy="518.2" rx="2" ry="2" fill="#2e2e2e" fill-opacity="1"/>
<ellipse cx="572.8" cy="515.8" rx="2.5" ry="2.3" fill="#333" fill-opacity="1"/>
<rect x="588.5" y="524" width="5.5" height="11" fill="#333" transform="rotate(15 591 529)"/>
<ellipse cx="508" cy="589.5" rx="2.5" ry="2.5" fill="#2c2c2c" fill-opacity="1"/>
<ellipse cx="555" cy="556" rx="2" ry="3.5" fill="#333" fill-opacity="1" transform="rotate(20 555 556)"/>
<ellipse cx="410" cy="596" rx="1.6" ry="1.6" fill="#333" fill-opacity="1"/>
<ellipse cx="612" cy="531" rx="2" ry="2" fill="#333" fill-opacity="1"/>
<ellipse cx="614" cy="614" rx="2" ry="2" fill="#3a3a3a" fill-opacity="1"/>
<ellipse cx="626" cy="588" rx="1.5" ry="1.5" fill="#444" fill-opacity="1"/>
<ellipse cx="154.5" cy="532.5" rx="3" ry="1.8" fill="#444" fill-opacity="1" transform="rotate(-20 154.5 532.5)"/>
<ellipse cx="259.3" cy="619.4" rx="3.5" ry="2" fill="#2e2e2e" fill-opacity="1" transform="rotate(20 259.3 619.4)"/>
<ellipse cx="286" cy="627" rx="4" ry="2.2" fill="#2e2e2e" fill-opacity="1" transform="rotate(-20 286 627)"/>
<ellipse cx="295" cy="625" rx="2" ry="1.5" fill="#444" fill-opacity="1"/>
<ellipse cx="167.9" cy="627" rx="2.2" ry="3" fill="#3a3a3a" fill-opacity="1" transform="rotate(-20 167.9 627)"/>
<ellipse cx="374" cy="527" rx="2.5" ry="2" fill="#3a3a3a" fill-opacity="1"/>
<ellipse cx="375" cy="557" rx="3" ry="2" fill="#4a4a4a" fill-opacity="1" transform="rotate(30 375 557)"/>
<ellipse cx="390.8" cy="554.8" rx="2" ry="3.5" fill="#444" fill-opacity="1" transform="rotate(30 390.8 554.8)"/>
<ellipse cx="422" cy="515.8" rx="3" ry="1.4" fill="#383838" fill-opacity="1"/>
<ellipse cx="318" cy="612" rx="2" ry="4" fill="#4a4a4a" fill-opacity="1" transform="rotate(25 318 612)"/>
<ellipse cx="200" cy="549" rx="2" ry="3" fill="#4a4a4a" fill-opacity="1"/>
<ellipse cx="234" cy="610" rx="2" ry="1.5" fill="#444" fill-opacity="1"/>
<ellipse cx="336" cy="618" rx="1.5" ry="2.5" fill="#555" fill-opacity="1" transform="rotate(30 336 618)"/>
<path d="M296.0 520.0C296.3 521.3 297.7 526.7 298.0 528.0" fill="none" stroke="#ddd" stroke-width="1.2" stroke-opacity="0.8" stroke-linecap="round"/>
<path d="M186.0 530.0C188.3 531.7 194.3 537.5 200.0 540.0C205.7 542.5 213.3 541.7 220.0 545.0C226.7 548.3 235.0 554.2 240.0 560.0C245.0 565.8 248.3 576.7 250.0 580.0" fill="none" stroke="#8a8a8a" stroke-width="0.9" stroke-opacity="0.5" stroke-linecap="round"/>
<path d="M190.0 545.0C193.3 547.5 204.2 554.2 210.0 560.0C215.8 565.8 220.8 573.3 225.0 580.0C229.2 586.7 233.3 596.7 235.0 600.0" fill="none" stroke="#8a8a8a" stroke-width="0.9" stroke-opacity="0.5" stroke-linecap="round"/>
<path d="M240.0 590.0C243.3 592.7 254.2 602.3 260.0 606.0C265.8 609.7 272.5 611.0 275.0 612.0" fill="none" stroke="#7a7a7a" stroke-width="1.0" stroke-opacity="0.6" stroke-linecap="round"/>
<path d="M320.0 600.0C322.5 601.0 330.8 604.0 335.0 606.0C339.2 608.0 340.8 611.3 345.0 612.0C349.2 612.7 357.5 610.3 360.0 610.0" fill="none" stroke="#6a6a6a" stroke-width="1.0" stroke-opacity="0.6" stroke-linecap="round"/>
<path d="M410.0 575.0C411.7 577.5 419.0 585.8 420.0 590.0C421.0 594.2 416.7 598.3 416.0 600.0" fill="none" stroke="#666" stroke-width="1.0" stroke-opacity="0.6" stroke-linecap="round"/>
</g>
<path d="M139.0 504.5C144.2 504.5 159.8 504.2 170.0 504.5C180.2 504.8 190.0 505.9 200.0 506.5C210.0 507.1 221.7 507.8 230.0 508.0C238.3 508.2 243.3 508.4 250.0 508.0C256.7 507.6 264.2 505.3 270.0 505.5C275.8 505.7 280.0 507.8 285.0 509.0C290.0 510.2 294.2 512.2 300.0 512.5C305.8 512.8 313.3 511.7 320.0 510.5C326.7 509.3 330.0 506.3 340.0 505.5C350.0 504.7 366.7 505.4 380.0 505.5C393.3 505.6 408.3 505.8 420.0 506.0C431.7 506.2 440.0 506.1 450.0 506.5C460.0 506.9 470.0 508.4 480.0 508.5C490.0 508.6 498.3 507.5 510.0 507.0C521.7 506.5 535.0 505.8 550.0 505.5C565.0 505.2 584.5 505.1 600.0 505.0C615.5 504.9 635.8 505.0 643.0 505.0L643.6 443.0L139.0 443.0Z" fill="#7c7c7c" filter="url(#b05)"/>
<path d="M139.0 501.5C144.2 501.4 159.8 500.8 170.0 501.0C180.2 501.2 190.8 502.0 200.0 502.5C209.2 503.0 217.5 503.8 225.0 504.0C232.5 504.2 238.3 504.4 245.0 504.0C251.7 503.6 258.3 501.3 265.0 501.5C271.7 501.7 279.2 504.0 285.0 505.0C290.8 506.0 295.0 507.2 300.0 507.5C305.0 507.8 309.2 507.4 315.0 506.5C320.8 505.6 324.2 502.8 335.0 502.0C345.8 501.2 365.8 501.5 380.0 501.5C394.2 501.5 408.3 501.8 420.0 502.0C431.7 502.2 440.3 502.2 450.0 502.5C459.7 502.8 468.0 503.9 478.0 504.0C488.0 504.1 498.0 503.3 510.0 503.0C522.0 502.7 535.0 502.3 550.0 502.0C565.0 501.7 584.5 501.2 600.0 501.0C615.5 500.8 635.8 501.0 643.0 501.0L643.6 443.0L139.0 443.0Z" fill="#0c0c0c" filter="url(#b05)"/>
<path d="M139.0 489.0C144.2 489.2 159.8 489.7 170.0 490.0C180.2 490.3 188.3 490.7 200.0 491.0C211.7 491.3 228.3 491.7 240.0 492.0C251.7 492.3 260.8 493.0 270.0 493.0C279.2 493.0 286.7 492.5 295.0 492.0C303.3 491.5 310.8 490.5 320.0 490.0C329.2 489.5 336.7 489.0 350.0 489.0C363.3 489.0 383.3 489.7 400.0 490.0C416.7 490.3 433.3 490.7 450.0 491.0C466.7 491.3 483.3 492.0 500.0 492.0C516.7 492.0 533.3 491.3 550.0 491.0C566.7 490.7 584.5 490.2 600.0 490.0C615.5 489.8 635.8 489.6 643.0 489.5L643.6 443.0L139.0 443.0Z" fill="#2a2a2a" filter="url(#b1)"/>
<clipPath id="cpci"><rect x="399.0" y="710.8" width="244.6" height="177.6"/></clipPath><g clip-path="url(#cpci)">
<rect x="399.0" y="710.8" width="244.6" height="177.6" fill="#c4c4c4"/>
<rect x="399.0" y="770" width="244.6" height="120" filter="url(#nzD)" opacity="0.16"/>
<rect x="399.0" y="770" width="244.6" height="120" filter="url(#nzL)" opacity="0.2"/>
<rect x="399.0" y="770" width="244.6" height="120" filter="url(#nzF)" opacity="0.14"/>
<g filter="url(#b2)" opacity="0.9"><ellipse cx="455" cy="812" rx="9" ry="6" fill="#8a8a8a" fill-opacity="1"/><ellipse cx="575" cy="815" rx="28" ry="22" fill="#a8a8a8" fill-opacity="1"/><ellipse cx="540" cy="805" rx="6" ry="5" fill="#888" fill-opacity="1" transform="rotate(30 540 805)"/><ellipse cx="585" cy="812" rx="8" ry="4" fill="#8a8a8a" fill-opacity="1" transform="rotate(-35 585 812)"/><ellipse cx="620" cy="835" rx="12" ry="5" fill="#999" fill-opacity="1"/><ellipse cx="430" cy="830" rx="12" ry="6" fill="#a2a2a2" fill-opacity="1"/><ellipse cx="500" cy="860" rx="40" ry="15" fill="#b4b4b4" fill-opacity="1"/><ellipse cx="610" cy="870" rx="25" ry="12" fill="#b0b0b0" fill-opacity="1"/></g>
<path d="M380.0 795.6L383.2 794.6L386.4 795.8L389.6 794.2L392.8 793.4L396.0 794.8L399.2 797.1L402.4 795.5L405.6 794.3L408.8 790.5L412.0 791.1L415.2 788.8L418.4 787.4L421.6 786.2L424.8 785.9L428.0 788.8L431.2 787.7L434.4 787.4L437.6 787.2L440.8 783.9L444.0 784.3L447.2 785.8L450.4 786.1L453.6 786.3L456.8 786.0L460.0 781.4L463.2 783.6L466.4 783.4L469.6 782.1L472.8 779.9L476.0 781.0L479.2 778.5L482.4 782.4L485.6 781.6L488.8 779.4L492.0 777.4L495.2 779.7L498.4 777.1L501.6 777.9L504.8 776.9L508.0 774.8L511.2 774.1L514.4 774.8L517.6 773.7L520.8 773.6L524.0 776.0L527.2 780.2L530.4 777.2L533.6 778.0L536.8 781.9L540.0 780.9L543.2 781.6L546.4 780.8L549.6 779.6L552.8 782.2L556.0 776.4L559.2 775.9L562.4 773.4L565.6 774.9L568.8 772.3L572.0 771.9L575.2 773.4L578.4 772.4L581.6 774.9L584.8 778.0L588.0 774.8L591.2 775.6L594.4 777.5L597.6 781.3L600.8 780.2L604.0 777.8L607.2 777.8L610.4 776.6L613.6 777.5L616.8 774.9L620.0 777.8L623.2 778.3L626.4 778.3L629.6 777.0L632.8 778.0L636.0 772.9L639.2 774.1L642.4 777.5L645.6 776.4L648.8 774.5L652.0 777.3L655.2 775.6L658.4 776.7L660 700L380 700Z" fill="#727272" filter="url(#b05)"/>
<path d="M380.0 759.0C383.2 758.8 392.3 758.3 399.0 758.0C405.7 757.7 412.3 757.4 420.0 757.0C427.7 756.6 436.7 756.0 445.0 755.5C453.3 755.0 461.7 754.8 470.0 754.0C478.3 753.2 486.7 751.8 495.0 751.0C503.3 750.2 510.8 749.9 520.0 749.5C529.2 749.1 540.0 748.8 550.0 748.5C560.0 748.2 570.0 748.1 580.0 748.0C590.0 747.9 599.5 748.1 610.0 748.0C620.5 747.9 634.7 747.6 643.0 747.5C651.3 747.4 657.2 747.5 660.0 747.5L660.0 700.0L380.0 700.0Z" fill="#151515" filter="url(#b05)"/>
<g filter="url(#b2)" opacity="0.5"><ellipse cx="470" cy="722" rx="50" ry="5" fill="#2c2c2c" fill-opacity="1"/><ellipse cx="600" cy="724" rx="35" ry="5" fill="#0a0a0a" fill-opacity="1"/></g>
<g filter="url(#b1)" opacity="0.6"><path d="M603.0 760.0C603.2 761.7 604.0 767.3 604.0 770.0C604.0 772.7 603.2 775.0 603.0 776.0" fill="none" stroke="#5e5e5e" stroke-width="2.5" stroke-opacity="0.8" stroke-linecap="round"/><path d="M577.0 762.0C577.2 763.3 577.8 768.7 578.0 770.0" fill="none" stroke="#6a6a6a" stroke-width="2" stroke-opacity="0.7" stroke-linecap="round"/></g>
</g>
<path d="M399.0 888.4V710.8H643.6" fill="none" stroke="#d8d8d8" stroke-width="1" stroke-opacity="0.7"/>
<line x1="328" y1="517.5" x2="399" y2="690" stroke="#fff" stroke-opacity="0.8" stroke-width="1.3" stroke-dasharray="7 4"/>
<line x1="349.5" y1="517" x2="640" y2="688" stroke="#fff" stroke-opacity="0.9" stroke-width="1.4" stroke-dasharray="7 4"/>
<rect x="326.6" y="499.6" width="22.9" height="17.6" fill="none" stroke="#e8e8e8" stroke-width="1.1"/>
<path d="M531.5 825.0L520.8 788.4" stroke="#fff" stroke-width="3.0" fill="none" stroke-linecap="butt"/><path d="M519.5 784.0L528.1 790.8L520.8 788.4L515.9 794.4Z" fill="#fff" stroke="#fff" stroke-width="0.8" stroke-linejoin="round"/>
<text class="ol" x="176.3" y="572">Coating</text><text class="ol2" x="176.3" y="572">Coating</text>
<text class="ol" x="173.7" y="767.4">Zircaloy-4</text><text class="ol2" x="173.7" y="767.4">Zircaloy-4</text>
<text x="480.7" y="846" font-size="21.6" fill="#f4f4f4" fill-opacity="0.92">Cr<tspan font-size="14.3" dy="5.4">2</tspan><tspan dy="-5.4">O</tspan><tspan font-size="14.3" dy="5.4">3</tspan><tspan dy="-5.4"> layer</tspan></text>
<rect x="147.4" y="454.5" width="30.6" height="25" fill="#fff"/><text x="150.2" y="474.6" font-size="24" fill="#1a1a1a">(c)</text>
<rect x="145" y="851.7" width="68" height="28" fill="#fff"/><text x="149.5" y="870.8" font-size="23.5" fill="#1a1a1a">25 μm</text><line x1="149" y1="876.2" x2="209" y2="876.2" stroke="#1a1a1a" stroke-width="1.7"/>
</g>
<rect x="139.4" y="443.4" width="504.2" height="445.0" fill="none" stroke="#2a2a2a" stroke-width="1.1"/>
<clipPath id="cpd"><rect x="703.8" y="458.3" width="503.5" height="351.3"/></clipPath>
<g clip-path="url(#cpd)" fill="none" stroke-linejoin="miter" stroke-linecap="butt">
<path d="M704.5 702.5L705.5 717.5L706.5 716.4L707.5 719.7L708.5 719.2L709.5 725.8L710.5 757.8L711.5 767.8L712.5 757.3L713.5 764.3L714.5 768.8L715.5 772.8L716.5 786.1L717.5 790.1L718.5 788.4L719.5 789.4L720.5 797.8L721.5 798.8L722.5 791.3L723.5 792.3L724.5 802.0L725.5 802.7L726.5 795.5L727.5 795.8L728.5 799.0L729.5 799.3L730.5 803.4L731.5 803.7L732.5 801.3L733.5 801.5L734.5 804.2L735.5 804.4L736.5 802.4L737.5 802.7L738.5 796.2L739.5 796.5L740.5 803.8L741.5 803.9L742.5 802.1L743.5 802.2L744.5 800.1L745.5 800.2L746.5 799.4L747.5 799.5L748.5 804.2L749.5 804.3L750.5 802.7L751.5 802.8L752.5 805.2L753.5 805.3L754.5 804.3L755.5 804.4L756.5 805.6L757.5 805.7L758.5 803.4L759.5 803.5L760.5 804.1L761.5 803.9L762.5 803.2L763.5 803.0L764.5 800.7L765.5 800.5L766.5 804.3L767.5 804.1L768.5 800.3L769.5 800.1L770.5 802.2L771.5 801.3L772.5 801.8L773.5 801.0L774.5 798.3L775.5 797.4L776.5 792.7L777.5 791.8L778.5 796.1L779.5 794.1L780.5 791.0L781.5 789.0L782.5 781.2L783.5 779.2L784.5 774.6L785.5 772.6L786.5 776.5L787.5 773.3L788.5 762.3L789.5 759.1L790.5 770.4L791.5 767.1L792.5 757.3L793.5 754.1L794.5 750.9L795.5 747.6L796.5 741.3L797.5 738.1L798.5 742.1L799.5 738.9L800.5 744.4L801.5 741.2L802.5 718.8L803.5 716.1L804.5 714.4L805.5 711.6L806.5 716.4L807.5 713.7L808.5 700.5L809.5 697.7L810.5 706.5L811.5 704.5L812.5 701.0L813.5 699.0L814.5 692.2L815.5 690.2L816.5 698.7L817.5 696.7L818.5 689.8L819.5 689.9L820.5 668.4L821.5 668.6L822.5 712.5L823.5 712.6L824.5 682.5L825.5 682.7L826.5 684.9L827.5 684.5L828.5 682.6L829.5 682.2L830.5 709.7L831.5 709.3L832.5 711.5L833.5 711.1L834.5 687.5L835.5 687.1L836.5 680.3L837.5 681.3L838.5 665.8L839.5 666.8L840.5 709.4L841.5 710.4L842.5 675.1L843.5 676.1L844.5 695.2L845.5 696.2L846.5 687.6L847.5 688.6L848.5 688.0L849.5 689.0L850.5 691.5L851.5 692.5L852.5 684.7L853.5 685.7L854.5 678.1L855.5 679.1L856.5 706.4L857.5 708.0L858.5 724.7L859.5 726.3L860.5 720.8L861.5 722.4L862.5 700.0L863.5 701.6L864.5 728.1L865.5 729.7L866.5 699.0L867.5 701.3L868.5 720.9L869.5 723.2L870.5 747.0L871.5 749.3L872.5 756.5L873.5 758.7L874.5 739.1L875.5 740.7L876.5 758.3L877.5 759.9L878.5 747.2L879.5 748.9L880.5 749.3L881.5 747.9L882.5 749.0L883.5 747.6L884.5 764.4L885.5 763.0L886.5 752.0L887.5 750.3L888.5 735.3L889.5 733.3L890.5 743.1L891.5 741.1L892.5 735.8L893.5 733.8L894.5 716.8L895.5 714.8L896.5 735.0L897.5 733.6L898.5 735.2L899.5 733.8L900.5 721.3L901.5 719.9L902.5 735.7L903.5 734.3L904.5 684.7L905.5 683.3L906.5 705.4L907.5 704.8L908.5 712.4L909.5 711.7L910.5 695.9L911.5 695.2L912.5 684.8L913.5 684.2L914.5 710.6L915.5 710.0L916.5 697.0L917.5 696.3L918.5 686.5L919.5 686.2L920.5 673.4L921.5 673.1L922.5 721.2L923.5 721.0L924.5 690.5L925.5 690.2L926.5 676.0L927.5 675.7L928.5 679.9L929.5 679.6L930.5 681.6L931.5 681.3L932.5 713.9L933.5 714.2L934.5 679.7L935.5 680.0L936.5 683.6L937.5 683.9L938.5 674.9L939.5 675.2L940.5 694.7L941.5 695.0L942.5 682.4L943.5 682.6L944.5 689.5L945.5 689.8L946.5 711.1L947.5 711.4L948.5 722.9L949.5 723.1L950.5 719.2L951.5 719.5L952.5 677.3L953.5 677.6L954.5 693.8L955.5 694.1L956.5 720.1L957.5 720.4L958.5 678.7L959.5 679.0L960.5 685.9L961.5 685.7L962.5 701.0L963.5 700.7L964.5 695.5L965.5 695.2L966.5 714.2L967.5 714.0L968.5 713.0L969.5 712.7L970.5 698.9L971.5 698.7L972.5 686.3L973.5 686.0L974.5 684.2L975.5 683.8L976.5 685.3L977.5 684.9L978.5 673.9L979.5 673.5L980.5 704.4L981.5 704.0L982.5 678.2L983.5 677.8L984.5 715.0L985.5 714.6L986.5 703.1L987.5 702.7L988.5 670.5L989.5 670.1L990.5 691.6L991.5 691.4L992.5 697.8L993.5 697.5L994.5 667.8L995.5 667.5L996.5 689.4L997.5 689.1L998.5 665.7L999.5 665.4L1000.5 703.1L1001.5 702.8L1002.5 664.0L1003.5 663.7L1004.5 694.9L1005.5 694.3L1006.5 713.7L1007.5 712.7L1008.5 705.4L1009.5 704.5L1010.5 670.8L1011.5 669.8L1012.5 683.3L1013.5 682.3L1014.5 661.2L1015.5 660.3L1016.5 669.1L1017.5 668.1L1018.5 695.0L1019.5 693.4L1020.5 690.8L1021.5 689.2L1022.5 644.7L1023.5 643.1L1024.5 659.0L1025.5 657.4L1026.5 670.5L1027.5 668.9L1028.5 643.7L1029.5 642.3L1030.5 672.0L1031.5 670.7L1032.5 674.6L1033.5 673.3L1034.5 657.5L1035.5 659.6L1036.5 651.8L1037.5 653.9L1038.5 680.0L1039.5 682.1L1040.5 668.5L1041.5 670.7L1042.5 654.9L1043.5 657.1L1044.5 663.2L1045.5 665.4L1046.5 661.5L1047.5 663.7L1048.5 701.7L1049.5 703.9L1050.5 689.8L1051.5 690.7L1052.5 700.7L1053.5 701.6L1054.5 709.4L1055.5 710.3L1056.5 719.8L1057.5 720.7L1058.5 680.5L1059.5 681.4L1060.5 691.5L1061.5 692.0L1062.5 717.8L1063.5 718.3L1064.5 714.1L1065.5 714.6L1066.5 695.0L1067.5 695.5L1068.5 709.2L1069.5 709.7L1070.5 686.5L1071.5 687.0L1072.5 684.6L1073.5 685.3L1074.5 680.0L1075.5 680.7L1076.5 698.6L1077.5 699.3L1078.5 693.3L1079.5 694.0L1080.5 709.3L1081.5 710.0L1082.5 735.4L1083.5 736.1L1084.5 694.8L1085.5 695.5L1086.5 715.3L1087.5 715.6L1088.5 733.2L1089.5 733.5L1090.5 720.5L1091.5 720.8L1092.5 716.6L1093.5 716.9L1094.5 729.7L1095.5 730.0L1096.5 691.4L1097.5 691.6L1098.5 739.1L1099.5 739.4L1100.5 727.9L1101.5 727.6L1102.5 733.1L1103.5 732.9L1104.5 733.9L1105.5 733.6L1106.5 694.9L1107.5 694.6L1108.5 690.7L1109.5 690.5L1110.5 695.9L1111.5 695.7L1112.5 713.0L1113.5 712.7L1114.5 736.4L1115.5 735.9L1116.5 734.9L1117.5 734.2L1118.5 707.1L1119.5 706.5L1120.5 715.6L1121.5 715.0L1122.5 721.0L1123.5 720.4L1124.5 698.4L1125.5 697.8L1126.5 729.9L1127.5 729.2L1128.5 728.7L1129.5 728.0L1130.5 716.4L1131.5 716.8L1132.5 725.8L1133.5 726.1L1134.5 721.6L1135.5 721.9L1136.5 714.1L1137.5 714.4L1138.5 696.8L1139.5 697.1L1140.5 694.5L1141.5 694.8L1142.5 692.7L1143.5 693.0L1144.5 683.6L1145.5 684.0L1146.5 729.9L1147.5 730.2L1148.5 699.5L1149.5 699.9L1150.5 684.1L1151.5 684.4L1152.5 699.5L1153.5 699.8L1154.5 689.6L1155.5 689.9L1156.5 707.8L1157.5 708.2L1158.5 703.4L1159.5 703.7L1160.5 695.3L1161.5 695.1L1162.5 710.6L1163.5 710.4L1164.5 707.8L1165.5 707.6L1166.5 704.2L1167.5 704.0L1168.5 728.1L1169.5 728.0L1170.5 702.2L1171.5 702.0L1172.5 713.0L1173.5 712.9L1174.5 731.2L1175.5 731.2L1176.5 736.6L1177.5 736.7L1178.5 706.1L1179.5 706.2L1180.5 687.1L1181.5 687.2L1182.5 734.7L1183.5 734.8L1184.5 714.2L1185.5 714.3L1186.5 697.6L1187.5 697.8L1188.5 692.3L1189.5 692.5L1190.5 698.0L1191.5 697.7L1192.5 701.5L1193.5 701.2L1194.5 692.4L1195.5 692.0L1196.5 687.0L1197.5 686.6L1198.5 733.4L1199.5 733.0L1200.5 726.1L1201.5 725.8L1202.5 690.8L1203.5 690.5L1204.5 706.1L1205.5 705.7L1206.5 721.1" stroke="#a39c1c" stroke-width="2.7"/>
<path d="M704.5 761.4L705.5 744.7L706.5 730.7L707.5 710.7L708.5 685.3L709.5 662.0L710.5 639.9L711.5 623.2L712.5 608.9L713.5 595.9L714.5 583.7L715.5 574.4L716.5 567.3L717.5 563.3L718.5 563.1L719.5 559.1L720.5 559.1L721.5 555.9L722.5 549.9L723.5 546.7L724.5 538.5L725.5 535.9L726.5 536.7L727.5 534.5L728.5 529.5L729.5 527.3L730.5 523.3L731.5 521.4L732.5 523.4L733.5 521.7L734.5 521.1L735.5 519.4L736.5 517.6L737.5 515.9L738.5 513.9L739.5 512.4L740.5 516.5L741.5 515.1L742.5 512.8L743.5 511.4L744.5 504.0L745.5 502.8L746.5 500.7L747.5 499.7L748.5 504.7L749.5 503.7L750.5 504.6L751.5 503.6L752.5 504.8L753.5 504.3L754.5 490.3L755.5 489.8L756.5 501.0L757.5 500.5L758.5 502.7L759.5 503.2L760.5 491.1L761.5 491.7L762.5 501.0L763.5 501.6L764.5 493.2L765.5 493.9L766.5 506.3L767.5 507.2L768.5 497.2L769.5 498.0L770.5 497.5L771.5 498.4L772.5 509.0L773.5 509.9L774.5 508.3L775.5 509.2L776.5 504.6L777.5 505.4L778.5 504.9L779.5 505.9L780.5 506.7L781.5 507.9L782.5 510.4L783.5 511.6L784.5 523.7L785.5 525.4L786.5 519.4L787.5 521.8L788.5 522.1L789.5 524.5L790.5 536.1L791.5 539.1L792.5 532.3L793.5 535.3L794.5 538.9L795.5 542.1L796.5 553.5L797.5 556.9L798.5 554.3L799.5 557.7L800.5 558.3L801.5 562.9L802.5 569.5L803.5 574.1L804.5 580.8L805.5 587.2L806.5 602.8L807.5 611.1L808.5 616.4L809.5 626.4L810.5 631.4L811.5 638.9L812.5 652.5L813.5 657.5L814.5 653.7L815.5 658.0L816.5 673.1L817.5 678.0L818.5 665.0L819.5 670.5L820.5 703.8L821.5 708.5L822.5 708.6L823.5 712.6L824.5 730.3L825.5 734.3L826.5 726.1L827.5 727.6L828.5 735.9L829.5 737.4L830.5 705.5L831.5 707.0L832.5 754.6L833.5 756.1L834.5 727.6L835.5 727.8L836.5 731.0L837.5 731.2L838.5 752.5L839.5 752.8L840.5 693.5L841.5 693.7L842.5 736.9L843.5 737.1L844.5 715.0L845.5 715.2L846.5 698.3L847.5 697.0L848.5 745.2L849.5 743.9L850.5 731.7L851.5 730.4L852.5 723.2L853.5 721.9L854.5 728.6L855.5 727.3L856.5 719.7L857.5 716.5L858.5 679.1L859.5 676.0L860.5 694.5L861.5 691.4L862.5 683.5L863.5 678.8L864.5 663.0L865.5 656.7L866.5 674.9L867.5 668.5L868.5 664.1L869.5 658.7L870.5 656.3L871.5 651.9L872.5 632.6L873.5 628.2L874.5 641.6L875.5 638.1L876.5 619.7L877.5 616.2L878.5 630.0L879.5 633.5L880.5 630.3L881.5 633.8L882.5 634.4L883.5 636.4L884.5 619.6L885.5 621.6L886.5 657.4L887.5 657.7L888.5 649.3L889.5 648.1L890.5 646.4L891.5 649.9L892.5 646.0L893.5 654.3L894.5 646.7L895.5 653.5L896.5 654.0L897.5 659.5L898.5 684.1L899.5 688.7L900.5 705.4L901.5 709.0L902.5 710.2L903.5 713.9L904.5 719.6L905.5 722.5L906.5 724.9L907.5 726.9L908.5 698.1L909.5 700.1L910.5 732.0L911.5 734.0L912.5 756.0L913.5 758.0L914.5 746.3L915.5 747.6L916.5 729.3L917.5 729.9L918.5 765.8L919.5 766.5L920.5 729.8L921.5 730.5L922.5 751.8L923.5 752.4L924.5 763.7L925.5 764.3L926.5 759.2L927.5 759.9L928.5 724.8L929.5 725.5L930.5 736.3L931.5 736.1L932.5 717.6L933.5 717.5L934.5 749.3L935.5 749.2L936.5 726.8L937.5 726.6L938.5 779.0L939.5 778.9L940.5 751.4L941.5 751.3L942.5 699.6L943.5 699.5L944.5 741.8L945.5 741.9L946.5 782.9L947.5 783.3L948.5 780.6L949.5 781.0L950.5 720.5L951.5 720.9L952.5 703.6L953.5 704.0L954.5 735.5L955.5 735.9L956.5 756.5L957.5 756.9L958.5 784.2L959.5 784.6L960.5 725.2L961.5 725.0L962.5 746.4L963.5 746.2L964.5 759.4L965.5 759.2L966.5 728.1L967.5 727.9L968.5 758.1L969.5 757.9L970.5 754.1L971.5 753.9L972.5 736.4L973.5 736.2L974.5 808.5L975.5 808.5L976.5 790.3L977.5 789.8L978.5 752.6L979.5 752.1L980.5 732.6L981.5 732.1L982.5 766.0L983.5 765.5L984.5 772.7L985.5 772.2L986.5 751.6L987.5 751.2L988.5 753.4L989.5 753.0L990.5 747.4L991.5 747.6L992.5 717.9L993.5 718.0L994.5 767.6L995.5 767.8L996.5 742.5L997.5 742.6L998.5 725.4L999.5 725.5L1000.5 760.6L1001.5 760.7L1002.5 711.4L1003.5 711.6L1004.5 738.8L1005.5 739.2L1006.5 778.1L1007.5 778.7L1008.5 709.7L1009.5 710.4L1010.5 715.4L1011.5 716.1L1012.5 761.1L1013.5 761.7L1014.5 720.6L1015.5 721.3L1016.5 759.8L1017.5 760.4L1018.5 762.5L1019.5 763.2L1020.5 749.5L1021.5 750.4L1022.5 719.3L1023.5 720.2L1024.5 751.1L1025.5 752.0L1026.5 771.2L1027.5 772.1L1028.5 759.4L1029.5 760.3L1030.5 762.7L1031.5 763.6L1032.5 751.2L1033.5 752.1L1034.5 790.8L1035.5 790.6L1036.5 789.2L1037.5 787.8L1038.5 761.9L1039.5 760.5L1040.5 732.3L1041.5 730.9L1042.5 749.5L1043.5 748.1L1044.5 713.0L1045.5 710.8L1046.5 741.3L1047.5 738.4L1048.5 759.5L1049.5 756.6L1050.5 733.6L1051.5 730.7L1052.5 696.3L1053.5 693.4L1054.5 711.3L1055.5 707.5L1056.5 739.8L1057.5 736.0L1058.5 733.9L1059.5 730.1L1060.5 717.6L1061.5 713.8L1062.5 691.6L1063.5 689.6L1064.5 668.7L1065.5 666.7L1066.5 744.6L1067.5 742.6L1068.5 654.5L1069.5 652.5L1070.5 658.5L1071.5 658.3L1072.5 664.0L1073.5 663.8L1074.5 717.8L1075.5 717.6L1076.5 654.6L1077.5 654.4L1078.5 658.6L1079.5 658.4L1080.5 675.1L1081.5 677.1L1082.5 671.9L1083.5 673.9L1084.5 684.0L1085.5 686.0L1086.5 669.3L1087.5 671.3L1088.5 698.6L1089.5 702.2L1090.5 722.1L1091.5 725.7L1092.5 731.9L1093.5 735.5L1094.5 732.2L1095.5 735.4L1096.5 748.9L1097.5 751.9L1098.5 715.8L1099.5 718.8L1100.5 711.2L1101.5 714.2L1102.5 780.1L1103.5 777.2L1104.5 745.3L1105.5 742.4L1106.5 701.8L1107.5 698.9L1108.5 711.1L1109.5 708.3L1110.5 691.4L1111.5 685.0L1112.5 723.8L1113.5 717.4L1114.5 692.7L1115.5 686.2L1116.5 721.6L1117.5 715.5L1118.5 671.4L1119.5 665.6L1120.5 655.7L1121.5 649.8L1122.5 636.8L1123.5 638.4L1124.5 647.1L1125.5 656.1L1126.5 667.6L1127.5 676.6L1128.5 665.6L1129.5 671.3L1130.5 709.5L1131.5 715.3L1132.5 747.3L1133.5 753.0L1134.5 748.1L1135.5 752.1L1136.5 743.0L1137.5 745.2L1138.5 725.5L1139.5 727.7L1140.5 725.0L1141.5 727.2L1142.5 698.2L1143.5 700.4L1144.5 761.1L1145.5 762.4L1146.5 739.4L1147.5 739.9L1148.5 734.4L1149.5 734.8L1150.5 716.6L1151.5 717.1L1152.5 704.4L1153.5 704.9L1154.5 763.2L1155.5 763.6L1156.5 774.3L1157.5 774.8L1158.5 742.4L1159.5 743.7L1160.5 749.2L1161.5 750.6L1162.5 774.9L1163.5 776.3L1164.5 787.9L1165.5 789.2L1166.5 781.6L1167.5 782.9L1168.5 755.3L1169.5 756.7L1170.5 790.3L1171.5 790.9L1172.5 786.0L1173.5 786.6L1174.5 760.1L1175.5 760.7L1176.5 735.0L1177.5 735.6L1178.5 787.1L1179.5 787.7L1180.5 775.7L1181.5 773.2L1182.5 744.3L1183.5 741.8L1184.5 766.4L1185.5 763.9L1186.5 763.6L1187.5 761.1L1188.5 748.9L1189.5 743.9L1190.5 767.6L1191.5 762.6L1192.5 740.7L1193.5 735.7L1194.5 777.4L1195.5 773.3L1196.5 723.7L1197.5 720.6L1198.5 718.6L1199.5 715.4L1200.5 711.1L1201.5 709.0L1202.5 710.6L1203.5 709.6L1204.5 692.7L1205.5 691.7L1206.5 691.5" stroke="#1fbe2e" stroke-width="2.9"/>
<path d="M704.5 598.3L705.5 589.8L706.5 583.2L707.5 576.5L708.5 570.6L709.5 564.8L710.5 562.3L711.5 557.3L712.5 550.8L713.5 546.6L714.5 545.5L715.5 542.1L716.5 527.3L717.5 523.9L718.5 525.9L719.5 523.9L720.5 529.2L721.5 527.2L722.5 521.7L723.5 520.5L724.5 523.2L725.5 522.7L726.5 511.3L727.5 511.9L728.5 517.5L729.5 519.1L730.5 518.3L731.5 519.9L732.5 524.6L733.5 525.5L734.5 527.1L735.5 528.0L736.5 522.2L737.5 523.1L738.5 525.8L739.5 526.6L740.5 528.1L741.5 528.3L742.5 536.1L743.5 536.3L744.5 535.5L745.5 535.7L746.5 528.6L747.5 528.8L748.5 535.9L749.5 536.1L750.5 528.7L751.5 528.0L752.5 532.5L753.5 531.9L754.5 525.4L755.5 524.7L756.5 521.6L757.5 521.0L758.5 532.1L759.5 531.1L760.5 521.8L761.5 520.8L762.5 519.1L763.5 518.1L764.5 527.9L765.5 527.1L766.5 525.8L767.5 525.2L768.5 516.8L769.5 516.2L770.5 524.1L771.5 525.9L772.5 523.4L773.5 525.2L774.5 527.9L775.5 530.4L776.5 529.2L777.5 532.4L778.5 542.1L779.5 545.3L780.5 546.9L781.5 550.3L782.5 556.2L783.5 559.6L784.5 562.5L785.5 567.2L786.5 568.0L787.5 574.0L788.5 580.0L789.5 586.0L790.5 591.2L791.5 597.6L792.5 603.8L793.5 610.2L794.5 616.1L795.5 622.6L796.5 630.5L797.5 637.1L798.5 645.5L799.5 652.1L800.5 654.7L801.5 659.7L802.5 668.2L803.5 673.2L804.5 676.6L805.5 681.6L806.5 685.9L807.5 690.1L808.5 697.1L809.5 701.3L810.5 703.8L811.5 708.0L812.5 710.8L813.5 714.4L814.5 718.9L815.5 722.6L816.5 727.9L817.5 731.6L818.5 729.1L819.5 731.7L820.5 742.9L821.5 745.5L822.5 738.8L823.5 741.3L824.5 751.2L825.5 753.3L826.5 756.9L827.5 758.6L828.5 750.7L829.5 752.4L830.5 762.3L831.5 764.0L832.5 760.3L833.5 759.6L834.5 760.9L835.5 760.2L836.5 752.9L837.5 752.1L838.5 751.2L839.5 750.4L840.5 751.9L841.5 752.4L842.5 762.2L843.5 762.7L844.5 755.1L845.5 755.6L846.5 762.0L847.5 762.5L848.5 764.4L849.5 762.6L850.5 761.1L851.5 759.2L852.5 750.3L853.5 748.4L854.5 746.0L855.5 744.1L856.5 743.7L857.5 740.8L858.5 740.9L859.5 738.0L860.5 728.2L861.5 725.4L862.5 728.4L863.5 725.5L864.5 723.7L865.5 720.9L866.5 718.8L867.5 716.1L868.5 705.6L869.5 702.8L870.5 708.0L871.5 705.2L872.5 695.6L873.5 693.9L874.5 693.8L875.5 692.0L876.5 693.0L877.5 691.2L878.5 692.7L879.5 690.9L880.5 685.2L881.5 685.9L882.5 691.6L883.5 692.3L884.5 689.8L885.5 690.5L886.5 689.3L887.5 691.3L888.5 693.1L889.5 695.1L890.5 695.7L891.5 697.7L892.5 698.7L893.5 700.2L894.5 701.9L895.5 703.1L896.5 709.4L897.5 710.6L898.5 715.1L899.5 716.3L900.5 710.9L901.5 714.2L902.5 715.7L903.5 718.9L904.5 731.0L905.5 734.2L906.5 734.1L907.5 736.4L908.5 736.1L909.5 737.3L910.5 736.8L911.5 738.0L912.5 742.5L913.5 743.8L914.5 747.5L915.5 748.4L916.5 745.6L917.5 746.1L918.5 745.9L919.5 746.3L920.5 743.3L921.5 743.7L922.5 752.0L923.5 752.5L924.5 745.3L925.5 745.8L926.5 749.9L927.5 750.4L928.5 754.5L929.5 754.9L930.5 749.0L931.5 749.4L932.5 754.9L933.5 755.3L934.5 758.3L935.5 758.7L936.5 756.3L937.5 756.7L938.5 758.3L939.5 758.7L940.5 752.8L941.5 753.2L942.5 756.0L943.5 756.4L944.5 754.4L945.5 754.8L946.5 761.6L947.5 762.1L948.5 758.0L949.5 758.4L950.5 760.0L951.5 760.4L952.5 766.2L953.5 766.6L954.5 766.2L955.5 766.7L956.5 768.3L957.5 768.7L958.5 764.3L959.5 764.8L960.5 765.0L961.5 765.2L962.5 767.6L963.5 767.8L964.5 765.9L965.5 766.0L966.5 764.2L967.5 764.4L968.5 765.5L969.5 765.7L970.5 763.5L971.5 763.7L972.5 765.8L973.5 766.0L974.5 772.2L975.5 772.4L976.5 772.5L977.5 772.0L978.5 768.3L979.5 767.7L980.5 765.6L981.5 765.0L982.5 762.8L983.5 762.2L984.5 759.1L985.5 758.5L986.5 759.4L987.5 758.9L988.5 763.3L989.5 762.7L990.5 763.6L991.5 763.4L992.5 758.6L993.5 758.4L994.5 761.7L995.5 761.5L996.5 761.6L997.5 761.4L998.5 760.4L999.5 760.2L1000.5 759.7L1001.5 759.5L1002.5 760.1L1003.5 759.9L1004.5 756.1L1005.5 756.0L1006.5 759.0L1007.5 759.2L1008.5 755.6L1009.5 755.7L1010.5 757.4L1011.5 757.5L1012.5 760.5L1013.5 760.7L1014.5 760.3L1015.5 760.5L1016.5 756.8L1017.5 756.9L1018.5 762.9L1019.5 763.0L1020.5 760.7L1021.5 760.6L1022.5 759.5L1023.5 759.3L1024.5 753.7L1025.5 753.5L1026.5 757.8L1027.5 757.7L1028.5 755.1L1029.5 755.0L1030.5 758.5L1031.5 758.4L1032.5 756.6L1033.5 756.4L1034.5 759.4L1035.5 759.3L1036.5 757.8L1037.5 757.3L1038.5 757.8L1039.5 757.1L1040.5 752.2L1041.5 751.4L1042.5 753.0L1043.5 752.3L1044.5 752.6L1045.5 751.8L1046.5 752.0L1047.5 751.3L1048.5 746.1L1049.5 745.3L1050.5 748.6L1051.5 747.5L1052.5 747.1L1053.5 746.0L1054.5 743.3L1055.5 742.2L1056.5 743.7L1057.5 742.6L1058.5 741.6L1059.5 740.5L1060.5 735.3L1061.5 734.2L1062.5 732.8L1063.5 731.7L1064.5 727.1L1065.5 726.0L1066.5 730.9L1067.5 729.8L1068.5 730.3L1069.5 729.2L1070.5 723.9L1071.5 722.8L1072.5 724.7L1073.5 726.3L1074.5 728.5L1075.5 730.1L1076.5 732.1L1077.5 733.7L1078.5 729.1L1079.5 730.7L1080.5 739.0L1081.5 741.0L1082.5 741.3L1083.5 743.3L1084.5 746.3L1085.5 748.3L1086.5 747.2L1087.5 749.2L1088.5 753.6L1089.5 755.6L1090.5 759.5L1091.5 760.4L1092.5 759.5L1093.5 760.4L1094.5 762.3L1095.5 763.2L1096.5 754.3L1097.5 755.2L1098.5 756.2L1099.5 755.4L1100.5 758.8L1101.5 758.0L1102.5 760.4L1103.5 759.7L1104.5 753.8L1105.5 753.1L1106.5 757.4L1107.5 756.5L1108.5 755.4L1109.5 754.5L1110.5 747.3L1111.5 746.4L1112.5 749.5L1113.5 748.6L1114.5 745.7L1115.5 744.7L1116.5 741.7L1117.5 740.5L1118.5 739.9L1119.5 738.7L1120.5 739.3L1121.5 738.1L1122.5 735.8L1123.5 734.6L1124.5 733.4L1125.5 732.4L1126.5 730.2L1127.5 729.5L1128.5 732.7L1129.5 732.0L1130.5 730.9L1131.5 730.2L1132.5 731.7L1133.5 731.0L1134.5 730.3L1135.5 730.3L1136.5 727.6L1137.5 728.3L1138.5 735.0L1139.5 735.7L1140.5 728.4L1141.5 729.1L1142.5 732.9L1143.5 733.5L1144.5 733.3L1145.5 734.0L1146.5 735.9L1147.5 736.6L1148.5 734.5L1149.5 735.2L1150.5 742.6L1151.5 743.3L1152.5 740.0L1153.5 740.6L1154.5 737.2L1155.5 737.9L1156.5 744.4L1157.5 745.1L1158.5 740.4L1159.5 741.1L1160.5 745.9L1161.5 745.5L1162.5 743.1L1163.5 742.7L1164.5 745.0L1165.5 744.6L1166.5 748.9L1167.5 748.5L1168.5 746.9L1169.5 746.5L1170.5 740.9L1171.5 739.8L1172.5 742.7L1173.5 741.6L1174.5 738.9L1175.5 737.8L1176.5 733.7L1177.5 732.6L1178.5 729.0L1179.5 727.9L1180.5 731.9L1181.5 732.6L1182.5 733.4L1183.5 734.1L1184.5 738.6L1185.5 739.3L1186.5 740.4L1187.5 741.1L1188.5 738.5L1189.5 739.2L1190.5 736.6L1191.5 736.3L1192.5 740.9L1193.5 740.6L1194.5 732.3L1195.5 732.0L1196.5 731.9L1197.5 731.6L1198.5 735.7L1199.5 735.4L1200.5 735.7L1201.5 735.5L1202.5 731.9L1203.5 731.6L1204.5 734.3L1205.5 734.0L1206.5 735.5" stroke="#a5161f" stroke-width="1.9"/>
<path d="M704.5 788.7L705.5 785.3L706.5 780.2L707.5 780.8L708.5 789.7L709.5 794.3L710.5 794.7L711.5 796.7L712.5 800.9L713.5 802.9L714.5 803.7L715.5 804.1L716.5 803.5L717.5 803.8L718.5 805.6L719.5 805.9L720.5 805.4L721.5 805.8L722.5 806.8L723.5 806.8L724.5 806.2L725.5 806.3L726.5 806.3L727.5 806.3L728.5 806.9L729.5 807.0L730.5 807.8L731.5 807.8L732.5 806.6L733.5 806.6L734.5 806.7L735.5 806.8L736.5 807.6L737.5 807.6L738.5 808.3L739.5 808.3L740.5 807.7L741.5 807.7L742.5 807.4L743.5 807.4L744.5 808.5L745.5 808.5L746.5 806.9L747.5 806.9L748.5 808.3L749.5 808.3L750.5 807.4L751.5 807.4L752.5 807.1L753.5 807.1L754.5 807.1L755.5 807.1L756.5 807.5L757.5 807.5L758.5 808.5L759.5 808.5L760.5 807.4L761.5 807.3L762.5 807.8L763.5 807.7L764.5 807.8L765.5 807.7L766.5 807.1L767.5 807.0L768.5 807.2L769.5 807.1L770.5 805.7L771.5 804.8L772.5 803.6L773.5 802.8L774.5 802.1L775.5 801.2L776.5 801.8L777.5 801.0L778.5 798.9L779.5 797.2L780.5 794.9L781.5 793.1L782.5 792.6L783.5 790.9L784.5 788.6L785.5 786.3L786.5 782.6L787.5 779.7L788.5 779.6L789.5 776.7L790.5 773.6L791.5 770.7L792.5 764.6L793.5 760.6L794.5 758.3L795.5 754.3L796.5 750.2L797.5 746.2L798.5 744.7L799.5 740.7L800.5 736.6L801.5 732.8L802.5 724.9L803.5 721.1L804.5 723.5L805.5 719.8L806.5 708.4L807.5 704.7L808.5 703.5L809.5 700.6L810.5 701.2L811.5 698.3L812.5 690.1L813.5 687.2L814.5 687.0L815.5 684.9L816.5 679.6L817.5 678.2L818.5 682.5L819.5 681.2L820.5 681.3L821.5 682.2L822.5 683.7L823.5 686.9L824.5 693.1L825.5 696.3L826.5 693.6L827.5 696.7L828.5 704.1L829.5 707.8L830.5 710.8L831.5 714.5L832.5 718.1L833.5 721.8L834.5 723.9L835.5 727.6L836.5 736.0L837.5 738.5L838.5 743.1L839.5 745.6L840.5 741.6L841.5 744.1L842.5 748.6L843.5 751.1L844.5 744.5L845.5 745.5L846.5 754.8L847.5 755.8L848.5 756.8L849.5 757.8L850.5 762.0L851.5 759.5L852.5 755.1L853.5 752.6L854.5 742.2L855.5 739.7L856.5 737.9L857.5 735.4L858.5 736.7L859.5 733.7L860.5 721.9L861.5 718.9L862.5 721.3L863.5 718.3L864.5 711.6L865.5 708.6L866.5 704.9L867.5 702.7L868.5 699.5L869.5 697.2L870.5 705.0L871.5 702.8L872.5 692.4L873.5 690.2L874.5 690.3L875.5 691.2L876.5 694.2L877.5 695.1L878.5 703.0L879.5 703.9L880.5 694.2L881.5 695.1L882.5 699.1L883.5 697.9L884.5 698.5L885.5 697.2L886.5 700.9L887.5 699.6L888.5 698.0L889.5 696.7L890.5 697.1L891.5 698.0L892.5 690.7L893.5 691.6L894.5 693.6L895.5 694.5L896.5 694.7L897.5 695.6L898.5 703.9L899.5 704.8L900.5 707.2L901.5 707.6L902.5 696.7L903.5 697.1L904.5 696.8L905.5 697.2L906.5 698.3L907.5 698.7L908.5 699.2L909.5 699.6L910.5 703.6L911.5 704.0L912.5 706.2L913.5 706.6L914.5 702.5L915.5 702.6L916.5 698.2L917.5 697.9L918.5 703.1L919.5 702.8L920.5 702.3L921.5 702.0L922.5 704.5L923.5 704.2L924.5 709.7L925.5 709.4L926.5 705.9L927.5 705.6L928.5 702.5L929.5 702.2L930.5 703.1L931.5 702.8L932.5 703.4L933.5 703.1L934.5 694.1L935.5 693.7L936.5 704.6L937.5 704.3L938.5 703.3L939.5 703.0L940.5 704.0L941.5 703.6L942.5 702.3L943.5 702.0L944.5 695.8L945.5 695.4L946.5 694.6L947.5 694.3L948.5 689.7L949.5 689.4L950.5 696.0L951.5 695.4L952.5 687.4L953.5 686.8L954.5 685.5L955.5 684.9L956.5 686.3L957.5 685.7L958.5 684.6L959.5 684.0L960.5 685.9L961.5 685.3L962.5 680.8L963.5 680.2L964.5 678.5L965.5 677.7L966.5 678.9L967.5 677.9L968.5 676.6L969.5 675.6L970.5 678.1L971.5 677.1L972.5 672.3L973.5 671.3L974.5 680.4L975.5 679.4L976.5 676.4L977.5 675.5L978.5 668.9L979.5 668.0L980.5 667.8L981.5 666.9L982.5 667.2L983.5 666.3L984.5 666.9L985.5 668.4L986.5 667.1L987.5 668.6L988.5 678.4L989.5 679.9L990.5 684.0L991.5 685.5L992.5 680.8L993.5 682.1L994.5 683.0L995.5 684.2L996.5 680.7L997.5 681.9L998.5 682.9L999.5 684.2L1000.5 688.3L1001.5 689.6L1002.5 690.5L1003.5 691.8L1004.5 699.2L1005.5 700.6L1006.5 695.5L1007.5 696.9L1008.5 696.4L1009.5 697.9L1010.5 708.2L1011.5 709.9L1012.5 708.4L1013.5 710.0L1014.5 707.7L1015.5 709.3L1016.5 714.4L1017.5 716.0L1018.5 713.1L1019.5 714.7L1020.5 720.7L1021.5 722.5L1022.5 729.0L1023.5 730.8L1024.5 732.0L1025.5 733.8L1026.5 734.0L1027.5 735.8L1028.5 733.3L1029.5 735.1L1030.5 736.9L1031.5 737.8L1032.5 736.8L1033.5 737.6L1034.5 744.0L1035.5 744.8L1036.5 744.0L1037.5 744.8L1038.5 747.8L1039.5 748.6L1040.5 745.4L1041.5 746.2L1042.5 744.6L1043.5 743.4L1044.5 747.7L1045.5 746.5L1046.5 747.5L1047.5 746.3L1048.5 744.0L1049.5 742.8L1050.5 741.1L1051.5 739.9L1052.5 738.4L1053.5 736.4L1054.5 733.6L1055.5 731.6L1056.5 724.7L1057.5 722.7L1058.5 722.9L1059.5 720.9L1060.5 717.6L1061.5 715.6L1062.5 710.3L1063.5 708.3L1064.5 705.8L1065.5 703.8L1066.5 704.2L1067.5 702.2L1068.5 700.1L1069.5 698.1L1070.5 700.8L1071.5 698.8L1072.5 700.4L1073.5 698.4L1074.5 690.9L1075.5 688.8L1076.5 691.8L1077.5 689.6L1078.5 688.5L1079.5 686.3L1080.5 683.8L1081.5 681.5L1082.5 672.3L1083.5 670.0L1084.5 665.4L1085.5 663.2L1086.5 660.8L1087.5 658.5L1088.5 656.4L1089.5 655.2L1090.5 654.1L1091.5 652.9L1092.5 656.7L1093.5 655.5L1094.5 658.1L1095.5 656.9L1096.5 655.3L1097.5 654.1L1098.5 650.2L1099.5 652.2L1100.5 655.8L1101.5 657.8L1102.5 661.7L1103.5 663.7L1104.5 657.4L1105.5 659.4L1106.5 667.8L1107.5 670.6L1108.5 677.0L1109.5 679.7L1110.5 681.4L1111.5 684.1L1112.5 686.4L1113.5 689.2L1114.5 688.7L1115.5 691.3L1116.5 689.9L1117.5 692.4L1118.5 701.8L1119.5 704.3L1120.5 702.1L1121.5 704.6L1122.5 712.2L1123.5 714.7L1124.5 719.7L1125.5 721.8L1126.5 717.0L1127.5 718.7L1128.5 719.9L1129.5 721.6L1130.5 728.8L1131.5 730.5L1132.5 728.2L1133.5 725.5L1134.5 717.2L1135.5 714.5L1136.5 710.6L1137.5 707.9L1138.5 705.2L1139.5 702.5L1140.5 708.3L1141.5 705.6L1142.5 702.6L1143.5 699.7L1144.5 689.0L1145.5 686.1L1146.5 690.4L1147.5 687.5L1148.5 687.2L1149.5 684.3L1150.5 677.8L1151.5 674.9L1152.5 668.7L1153.5 667.2L1154.5 667.7L1155.5 666.2L1156.5 659.9L1157.5 658.4L1158.5 655.0L1159.5 653.5L1160.5 663.2L1161.5 661.7L1162.5 657.9L1163.5 657.2L1164.5 654.8L1165.5 654.1L1166.5 657.6L1167.5 656.9L1168.5 651.2L1169.5 650.5L1170.5 653.7L1171.5 653.0L1172.5 652.9L1173.5 653.8L1174.5 648.8L1175.5 649.7L1176.5 650.3L1177.5 651.2L1178.5 652.5L1179.5 653.3L1180.5 655.4L1181.5 659.7L1182.5 667.2L1183.5 671.4L1184.5 672.9L1185.5 677.1L1186.5 682.6L1187.5 686.9L1188.5 688.0L1189.5 691.1L1190.5 701.3L1191.5 704.5L1192.5 703.0L1193.5 706.2L1194.5 709.8L1195.5 712.9L1196.5 716.7L1197.5 718.5L1198.5 723.6L1199.5 725.4L1200.5 723.0L1201.5 724.9L1202.5 731.0L1203.5 731.6L1204.5 727.3L1205.5 726.5L1206.5 725.6" stroke="#0b6f82" stroke-width="1.8"/>
<path d="M704.5 643.8L705.5 658.8L706.5 682.7L707.5 702.7L708.5 722.7L709.5 737.7L710.5 744.6L711.5 754.6L712.5 757.4L713.5 764.4L714.5 780.9L715.5 784.9L716.5 789.2L717.5 793.2L718.5 790.9L719.5 791.9L720.5 792.6L721.5 793.6L722.5 791.1L723.5 792.1L724.5 790.2L725.5 790.8L726.5 795.5L727.5 795.8L728.5 798.8L729.5 799.1L730.5 793.6L731.5 793.9L732.5 802.0L733.5 802.2L734.5 796.8L735.5 797.1L736.5 797.2L737.5 797.4L738.5 795.9L739.5 796.1L740.5 804.7L741.5 804.8L742.5 803.2L743.5 803.3L744.5 804.3L745.5 804.4L746.5 802.6L747.5 802.7L748.5 798.7L749.5 798.8L750.5 800.7L751.5 800.8L752.5 802.2L753.5 802.3L754.5 800.0L755.5 800.1L756.5 805.3L757.5 805.4L758.5 802.2L759.5 802.3L760.5 800.8L761.5 800.6L762.5 804.3L763.5 804.1L764.5 800.0L765.5 799.8L766.5 804.1L767.5 803.9L768.5 801.1L769.5 800.9L770.5 800.9L771.5 800.0L772.5 797.8L773.5 796.9L774.5 796.9L775.5 796.0L776.5 793.0L777.5 792.1L778.5 788.2L779.5 786.2L780.5 792.9L781.5 790.9L782.5 781.9L783.5 779.9L784.5 784.7L785.5 782.7L786.5 772.2L787.5 769.0L788.5 777.2L789.5 774.0L790.5 770.6L791.5 767.3L792.5 762.0L793.5 758.7L794.5 757.7L795.5 754.5L796.5 746.6L797.5 743.3L798.5 744.5L799.5 741.2L800.5 719.2L801.5 715.9L802.5 723.2L803.5 720.5L804.5 730.6L805.5 727.8L806.5 703.2L807.5 700.4L808.5 723.9L809.5 721.2L810.5 719.4L811.5 717.4L812.5 696.0L813.5 694.0L814.5 689.0L815.5 687.0L816.5 688.5L817.5 686.5L818.5 681.2L819.5 678.6L820.5 705.2L821.5 702.5L822.5 671.7L823.5 669.1L824.5 646.2L825.5 643.6L826.5 644.0L827.5 643.6L828.5 676.4L829.5 676.0L830.5 691.9L831.5 691.5L832.5 665.5L833.5 665.1L834.5 663.2L835.5 662.8L836.5 666.2L837.5 667.2L838.5 678.8L839.5 679.8L840.5 653.4L841.5 654.4L842.5 674.6L843.5 675.6L844.5 674.7L845.5 675.7L846.5 680.2L847.5 681.2L848.5 658.9L849.5 659.9L850.5 659.2L851.5 660.2L852.5 670.5L853.5 671.5L854.5 703.7L855.5 704.7L856.5 676.8L857.5 678.4L858.5 691.8L859.5 693.4L860.5 680.2L861.5 681.8L862.5 671.9L863.5 673.5L864.5 672.5L865.5 674.1L866.5 715.4L867.5 717.7L868.5 719.5L869.5 721.8L870.5 703.7L871.5 705.9L872.5 722.1L873.5 724.3L874.5 726.3L875.5 728.0L876.5 739.0L877.5 740.7L878.5 744.4L879.5 746.0L880.5 723.5L881.5 722.1L882.5 743.9L883.5 742.5L884.5 741.9L885.5 740.5L886.5 722.9L887.5 721.2L888.5 732.5L889.5 730.5L890.5 710.5L891.5 708.5L892.5 699.7L893.5 697.7L894.5 688.6L895.5 686.6L896.5 717.6L897.5 716.2L898.5 678.6L899.5 677.2L900.5 669.0L901.5 667.6L902.5 704.9L903.5 703.5L904.5 702.4L905.5 701.0L906.5 684.5L907.5 683.9L908.5 701.2L909.5 700.5L910.5 659.1L911.5 658.5L912.5 666.7L913.5 666.0L914.5 667.5L915.5 666.8L916.5 673.1L917.5 672.5L918.5 659.1L919.5 658.9L920.5 652.6L921.5 652.3L922.5 665.9L923.5 665.7L924.5 695.8L925.5 695.5L926.5 701.2L927.5 701.0L928.5 688.4L929.5 688.1L930.5 673.0L931.5 672.7L932.5 660.0L933.5 660.3L934.5 697.4L935.5 697.7L936.5 676.8L937.5 677.1L938.5 687.1L939.5 687.4L940.5 651.0L941.5 651.3L942.5 659.5L943.5 659.8L944.5 693.7L945.5 694.0L946.5 693.7L947.5 693.9L948.5 698.8L949.5 699.1L950.5 684.7L951.5 685.0L952.5 675.3L953.5 675.5L954.5 683.6L955.5 683.8L956.5 698.7L957.5 699.0L958.5 671.3L959.5 671.6L960.5 682.2L961.5 682.0L962.5 668.5L963.5 668.3L964.5 693.4L965.5 693.2L966.5 654.0L967.5 653.7L968.5 687.3L969.5 687.0L970.5 702.7L971.5 702.4L972.5 653.6L973.5 653.4L974.5 680.9L975.5 680.6L976.5 684.2L977.5 683.8L978.5 694.6L979.5 694.2L980.5 680.2L981.5 679.8L982.5 661.4L983.5 661.0L984.5 667.6L985.5 667.2L986.5 696.4L987.5 696.0L988.5 694.3L989.5 693.9L990.5 652.6L991.5 652.3L992.5 647.9L993.5 647.7L994.5 647.1L995.5 646.9L996.5 643.0L997.5 642.7L998.5 664.6L999.5 664.3L1000.5 648.9L1001.5 648.7L1002.5 686.2L1003.5 685.9L1004.5 676.3L1005.5 675.7L1006.5 646.3L1007.5 645.3L1008.5 664.9L1009.5 663.9L1010.5 652.7L1011.5 651.7L1012.5 659.3L1013.5 658.4L1014.5 643.3L1015.5 642.4L1016.5 637.9L1017.5 637.0L1018.5 636.5L1019.5 634.9L1020.5 643.6L1021.5 642.0L1022.5 658.6L1023.5 657.0L1024.5 647.8L1025.5 646.2L1026.5 617.5L1027.5 615.9L1028.5 648.2L1029.5 646.9L1030.5 655.0L1031.5 653.6L1032.5 647.1L1033.5 645.8L1034.5 646.4L1035.5 648.6L1036.5 613.1L1037.5 615.2L1038.5 637.6L1039.5 639.8L1040.5 621.8L1041.5 624.0L1042.5 662.2L1043.5 664.4L1044.5 637.2L1045.5 639.4L1046.5 668.6L1047.5 670.8L1048.5 650.1L1049.5 652.3L1050.5 676.3L1051.5 677.2L1052.5 658.9L1053.5 659.8L1054.5 645.3L1055.5 646.2L1056.5 664.7L1057.5 665.6L1058.5 663.2L1059.5 664.1L1060.5 696.0L1061.5 696.5L1062.5 666.4L1063.5 666.9L1064.5 676.9L1065.5 677.4L1066.5 680.9L1067.5 681.4L1068.5 703.2L1069.5 703.7L1070.5 660.2L1071.5 660.7L1072.5 685.7L1073.5 686.4L1074.5 683.4L1075.5 684.2L1076.5 696.7L1077.5 697.4L1078.5 711.0L1079.5 711.8L1080.5 678.3L1081.5 679.0L1082.5 698.6L1083.5 699.4L1084.5 691.8L1085.5 692.5L1086.5 694.5L1087.5 694.7L1088.5 668.7L1089.5 669.0L1090.5 707.8L1091.5 708.1L1092.5 718.9L1093.5 719.2L1094.5 687.1L1095.5 687.3L1096.5 684.0L1097.5 684.3L1098.5 720.2L1099.5 720.5L1100.5 675.3L1101.5 675.1L1102.5 670.9L1103.5 670.6L1104.5 670.0L1105.5 669.7L1106.5 708.7L1107.5 708.5L1108.5 707.3L1109.5 707.0L1110.5 690.2L1111.5 689.9L1112.5 698.0L1113.5 697.7L1114.5 666.0L1115.5 665.5L1116.5 696.4L1117.5 695.7L1118.5 685.9L1119.5 685.3L1120.5 688.1L1121.5 687.5L1122.5 680.2L1123.5 679.5L1124.5 679.2L1125.5 678.5L1126.5 668.5L1127.5 667.8L1128.5 657.3L1129.5 656.7L1130.5 676.4L1131.5 676.8L1132.5 668.2L1133.5 668.5L1134.5 692.6L1135.5 693.0L1136.5 700.5L1137.5 700.8L1138.5 696.6L1139.5 696.9L1140.5 682.8L1141.5 683.1L1142.5 671.1L1143.5 671.4L1144.5 679.1L1145.5 679.4L1146.5 685.5L1147.5 685.8L1148.5 694.1L1149.5 694.4L1150.5 712.7L1151.5 713.1L1152.5 667.8L1153.5 668.1L1154.5 687.1L1155.5 687.4L1156.5 689.3L1157.5 689.6L1158.5 702.0L1159.5 702.3L1160.5 712.2L1161.5 712.1L1162.5 706.6L1163.5 706.4L1164.5 697.9L1165.5 697.8L1166.5 704.2L1167.5 704.1L1168.5 699.5L1169.5 699.3L1170.5 709.1L1171.5 709.0L1172.5 700.9L1173.5 700.7L1174.5 699.3L1175.5 699.3L1176.5 676.2L1177.5 676.3L1178.5 710.9L1179.5 711.1L1180.5 684.8L1181.5 684.9L1182.5 695.8L1183.5 696.0L1184.5 707.8L1185.5 707.9L1186.5 716.0L1187.5 716.1L1188.5 718.0L1189.5 718.2L1190.5 666.1L1191.5 665.7L1192.5 679.1L1193.5 678.8L1194.5 679.2L1195.5 678.9L1196.5 682.7L1197.5 682.3L1198.5 670.1L1199.5 669.7L1200.5 689.0L1201.5 688.7L1202.5 666.4L1203.5 666.1L1204.5 675.5L1205.5 675.2L1206.5 705.3" stroke="#a39c1c" stroke-width="2.7"/>
<path d="M704.5 707.2L705.5 710.9L706.5 715.8L707.5 719.5L708.5 722.7L709.5 726.1L710.5 717.5L711.5 720.9L712.5 731.1L713.5 734.4L714.5 735.4L715.5 738.2L716.5 742.5L717.5 745.3L718.5 742.4L719.5 745.2L720.5 748.2L721.5 750.2L722.5 756.0L723.5 758.0L724.5 756.9L725.5 758.9L726.5 764.1L727.5 766.1L728.5 761.7L729.5 763.0L730.5 765.0L731.5 766.3L732.5 776.1L733.5 777.4L734.5 775.3L735.5 776.5L736.5 778.5L737.5 779.3L738.5 782.9L739.5 783.7L740.5 780.0L741.5 780.8L742.5 777.7L743.5 778.5L744.5 788.0L745.5 788.8L746.5 787.6L747.5 788.3L748.5 789.6L749.5 790.3L750.5 790.6L751.5 791.3L752.5 795.6L753.5 796.3L754.5 790.8L755.5 791.5L756.5 795.7L757.5 796.2L758.5 793.1L759.5 793.6L760.5 795.9L761.5 796.4L762.5 797.8L763.5 798.3L764.5 795.5L765.5 796.0L766.5 793.8L767.5 793.6L768.5 797.0L769.5 796.8L770.5 799.2L771.5 799.0L772.5 797.7L773.5 797.5L774.5 795.8L775.5 795.6L776.5 796.6L777.5 795.0L778.5 788.6L779.5 787.0L780.5 784.8L781.5 783.2L782.5 783.1L783.5 781.5L784.5 786.7L785.5 785.1L786.5 773.9L787.5 770.4L788.5 764.8L789.5 761.3L790.5 757.0L791.5 753.5L792.5 748.3L793.5 744.8L794.5 744.6L795.5 741.3L796.5 745.4L797.5 742.2L798.5 746.0L799.5 742.8L800.5 726.5L801.5 723.3L802.5 720.5L803.5 717.8L804.5 712.3L805.5 709.6L806.5 706.9L807.5 704.2L808.5 717.2L809.5 714.5L810.5 705.3L811.5 703.6L812.5 690.8L813.5 689.1L814.5 680.6L815.5 678.9L816.5 703.2L817.5 701.4L818.5 698.6L819.5 697.6L820.5 702.0L821.5 701.0L822.5 674.6L823.5 673.6L824.5 685.0L825.5 684.0L826.5 701.6L827.5 701.4L828.5 686.8L829.5 686.6L830.5 702.2L831.5 702.0L832.5 666.2L833.5 666.0L834.5 701.8L835.5 701.6L836.5 660.7L837.5 661.5L838.5 677.1L839.5 677.9L840.5 661.0L841.5 661.8L842.5 698.6L843.5 699.4L844.5 696.2L845.5 697.0L846.5 711.0L847.5 711.8L848.5 705.4L849.5 706.2L850.5 713.4L851.5 714.2L852.5 696.1L853.5 696.9L854.5 717.8L855.5 718.6L856.5 709.5L857.5 710.9L858.5 693.2L859.5 694.6L860.5 723.7L861.5 725.1L862.5 701.0L863.5 702.4L864.5 694.6L865.5 696.0L866.5 692.1L867.5 693.5L868.5 711.6L869.5 713.1L870.5 704.1L871.5 705.5L872.5 737.2L873.5 738.6L874.5 741.6L875.5 742.2L876.5 712.8L877.5 713.4L878.5 707.9L879.5 708.5L880.5 726.2L881.5 726.8L882.5 713.6L883.5 714.2L884.5 728.2L885.5 726.4L886.5 736.7L887.5 734.8L888.5 709.8L889.5 707.9L890.5 712.1L891.5 710.3L892.5 730.3L893.5 728.5L894.5 707.1L895.5 705.3L896.5 698.2L897.5 697.5L898.5 722.2L899.5 721.4L900.5 718.3L901.5 717.6L902.5 720.5L903.5 719.8L904.5 709.6L905.5 708.8L906.5 694.8L907.5 694.0L908.5 705.8L909.5 705.0L910.5 711.3L911.5 710.6L912.5 701.3L913.5 700.6L914.5 680.7L915.5 679.9L916.5 680.9L917.5 680.2L918.5 685.3L919.5 685.3L920.5 702.5L921.5 702.5L922.5 693.3L923.5 693.3L924.5 692.5L925.5 692.5L926.5 705.4L927.5 705.4L928.5 672.4L929.5 672.4L930.5 695.3L931.5 695.3L932.5 682.4L933.5 682.4L934.5 692.4L935.5 692.4L936.5 705.8L937.5 705.8L938.5 679.0L939.5 679.0L940.5 710.6L941.5 710.6L942.5 671.3L943.5 671.3L944.5 692.0L945.5 692.0L946.5 692.1L947.5 692.1L948.5 677.7L949.5 677.7L950.5 692.2L951.5 692.2L952.5 688.7L953.5 688.7L954.5 687.6L955.5 687.6L956.5 700.1L957.5 700.1L958.5 667.3L959.5 667.3L960.5 683.1L961.5 683.1L962.5 703.0L963.5 703.0L964.5 673.9L965.5 673.9L966.5 706.4L967.5 706.4L968.5 676.9L969.5 676.9L970.5 697.8L971.5 697.8L972.5 675.1L973.5 675.1L974.5 686.9L975.5 686.7L976.5 685.7L977.5 685.4L978.5 669.1L979.5 668.7L980.5 696.5L981.5 696.2L982.5 687.0L983.5 686.7L984.5 695.7L985.5 695.3L986.5 688.4L987.5 688.1L988.5 688.2L989.5 687.9L990.5 686.2L991.5 685.9L992.5 674.8L993.5 674.4L994.5 701.7L995.5 701.4L996.5 664.4L997.5 664.1L998.5 698.9L999.5 698.5L1000.5 699.3L1001.5 699.0L1002.5 681.6L1003.5 681.3L1004.5 693.2L1005.5 692.5L1006.5 687.2L1007.5 686.2L1008.5 681.7L1009.5 680.7L1010.5 664.8L1011.5 663.7L1012.5 663.3L1013.5 662.2L1014.5 662.6L1015.5 661.5L1016.5 658.4L1017.5 657.3L1018.5 686.9L1019.5 685.9L1020.5 657.4L1021.5 656.4L1022.5 656.2L1023.5 655.1L1024.5 655.6L1025.5 654.6L1026.5 672.2L1027.5 671.1L1028.5 655.3L1029.5 654.6L1030.5 656.5L1031.5 655.8L1032.5 642.1L1033.5 641.4L1034.5 641.3L1035.5 640.5L1036.5 633.7L1037.5 635.8L1038.5 642.6L1039.5 644.8L1040.5 648.9L1041.5 651.0L1042.5 678.8L1043.5 680.9L1044.5 669.1L1045.5 671.2L1046.5 654.9L1047.5 657.0L1048.5 674.2L1049.5 676.3L1050.5 662.4L1051.5 663.0L1052.5 683.7L1053.5 684.3L1054.5 680.2L1055.5 680.8L1056.5 700.6L1057.5 701.2L1058.5 674.8L1059.5 675.4L1060.5 702.3L1061.5 702.9L1062.5 676.6L1063.5 677.2L1064.5 710.9L1065.5 711.5L1066.5 697.5L1067.5 698.1L1068.5 670.3L1069.5 670.9L1070.5 705.9L1071.5 706.5L1072.5 683.9L1073.5 684.5L1074.5 688.0L1075.5 688.6L1076.5 679.3L1077.5 679.9L1078.5 712.4L1079.5 713.0L1080.5 680.2L1081.5 680.8L1082.5 710.1L1083.5 710.7L1084.5 696.7L1085.5 697.3L1086.5 710.2L1087.5 710.2L1088.5 692.7L1089.5 692.7L1090.5 681.8L1091.5 681.8L1092.5 720.4L1093.5 720.4L1094.5 710.2L1095.5 710.2L1096.5 686.9L1097.5 686.9L1098.5 723.5L1099.5 723.5L1100.5 722.3L1101.5 722.3L1102.5 688.2L1103.5 688.2L1104.5 678.8L1105.5 678.8L1106.5 706.0L1107.5 706.0L1108.5 685.3L1109.5 685.3L1110.5 712.0L1111.5 712.0L1112.5 701.0L1113.5 701.0L1114.5 711.7L1115.5 711.6L1116.5 705.5L1117.5 705.3L1118.5 714.2L1119.5 714.0L1120.5 716.6L1121.5 716.4L1122.5 706.1L1123.5 705.9L1124.5 704.7L1125.5 704.5L1126.5 691.8L1127.5 691.6L1128.5 681.8L1129.5 681.6L1130.5 679.0L1131.5 678.8L1132.5 714.2L1133.5 714.0L1134.5 685.1L1135.5 684.9L1136.5 693.6L1137.5 693.4L1138.5 688.5L1139.5 688.3L1140.5 702.1L1141.5 701.9L1142.5 698.3L1143.5 698.1L1144.5 713.0L1145.5 713.0L1146.5 694.1L1147.5 694.2L1148.5 689.9L1149.5 690.0L1150.5 703.5L1151.5 703.6L1152.5 708.8L1153.5 708.9L1154.5 717.8L1155.5 717.9L1156.5 689.8L1157.5 689.9L1158.5 715.5L1159.5 715.6L1160.5 721.5L1161.5 721.6L1162.5 722.1L1163.5 722.2L1164.5 682.4L1165.5 682.6L1166.5 692.4L1167.5 692.6L1168.5 711.6L1169.5 711.8L1170.5 715.5L1171.5 715.7L1172.5 678.9L1173.5 679.1L1174.5 694.0L1175.5 694.0L1176.5 709.9L1177.5 709.8L1178.5 712.0L1179.5 711.9L1180.5 701.5L1181.5 701.4L1182.5 686.0L1183.5 685.9L1184.5 694.0L1185.5 693.8L1186.5 678.6L1187.5 678.5L1188.5 689.1L1189.5 689.0L1190.5 694.4L1191.5 694.3L1192.5 711.7L1193.5 711.6L1194.5 702.1L1195.5 702.0L1196.5 693.9L1197.5 693.7L1198.5 686.1L1199.5 686.0L1200.5 688.5L1201.5 688.4L1202.5 703.3L1203.5 703.2L1204.5 694.4L1205.5 694.3L1206.5 682.6" stroke="#a39c1c" stroke-width="2.2"/>
<path d="M704.5 795.6L705.5 796.8L706.5 800.6L707.5 804.5L708.5 799.8L709.5 799.6L710.5 801.8L711.5 806.0L712.5 802.7L713.5 806.4L714.5 806.5L715.5 804.1L716.5 806.2L717.5 806.3L718.5 806.5L719.5 808.5L720.5 806.5L721.5 806.5L722.5 808.5L723.5 807.9L724.5 807.3L725.5 807.5L726.5 807.6L727.5 808.5L728.5 807.4L729.5 807.3L730.5 808.1L731.5 808.1L732.5 808.5L733.5 808.5L734.5 807.8L735.5 807.3L736.5 808.5L737.5 808.5L738.5 807.0L739.5 808.4L740.5 808.5L741.5 808.4L742.5 807.4L743.5 808.5L744.5 808.5L745.5 807.4L746.5 808.3L747.5 807.4L748.5 806.9L749.5 807.5L750.5 807.6L751.5 807.7L752.5 808.3L753.5 808.5L754.5 808.5L755.5 808.5L756.5 808.5L757.5 808.5L758.5 807.6L759.5 807.2L760.5 808.2L761.5 808.1L762.5 808.4L763.5 807.1L764.5 807.2L765.5 808.5L766.5 808.3L767.5 808.5L768.5 807.1L769.5 807.7L770.5 808.5L771.5 808.4L772.5 808.5L773.5 807.4L774.5 807.8L775.5 808.5L776.5 807.9L777.5 808.5L778.5 808.2L779.5 807.1L780.5 807.0L781.5 808.5L782.5 807.2L783.5 807.2L784.5 807.5L785.5 808.4L786.5 808.5L787.5 808.0L788.5 808.0L789.5 808.5L790.5 807.6L791.5 807.7L792.5 808.2L793.5 808.3L794.5 807.0L795.5 807.0L796.5 807.1L797.5 808.4L798.5 808.5L799.5 808.5L800.5 808.5L801.5 807.5L802.5 808.5L803.5 808.5L804.5 807.8L805.5 806.9L806.5 807.6L807.5 807.5L808.5 807.2L809.5 806.9L810.5 807.0L811.5 808.5L812.5 807.0L813.5 808.2L814.5 807.3L815.5 807.2L816.5 808.5L817.5 807.6L818.5 807.2L819.5 807.8L820.5 808.4L821.5 808.1L822.5 808.5L823.5 807.9L824.5 808.0L825.5 808.5L826.5 808.0L827.5 808.5L828.5 808.0L829.5 807.2L830.5 807.1L831.5 808.5L832.5 808.5L833.5 808.5L834.5 808.5L835.5 808.2L836.5 807.3L837.5 808.5L838.5 807.2L839.5 807.7L840.5 807.2L841.5 807.6L842.5 807.5L843.5 807.8L844.5 808.5L845.5 808.1L846.5 807.4L847.5 808.5L848.5 808.5L849.5 808.5L850.5 807.0L851.5 808.2L852.5 808.5L853.5 807.5L854.5 807.3L855.5 808.5L856.5 807.8L857.5 807.8L858.5 808.5L859.5 807.8L860.5 807.3L861.5 807.3L862.5 807.6L863.5 808.4L864.5 807.7L865.5 808.5L866.5 807.1L867.5 807.3L868.5 808.2L869.5 808.0L870.5 808.0L871.5 808.5L872.5 807.6L873.5 807.2L874.5 806.9L875.5 807.8L876.5 807.5L877.5 807.9L878.5 806.9L879.5 806.7L880.5 807.6L881.5 808.5L882.5 807.6L883.5 808.5L884.5 808.3L885.5 807.8L886.5 808.5L887.5 807.5L888.5 808.2L889.5 808.5L890.5 808.2L891.5 807.6L892.5 807.0L893.5 808.1L894.5 807.3L895.5 807.6L896.5 808.1L897.5 808.5L898.5 808.5L899.5 808.1L900.5 808.5L901.5 807.6L902.5 807.7L903.5 808.4L904.5 808.2L905.5 807.4L906.5 807.7L907.5 808.5L908.5 807.5L909.5 808.4L910.5 807.0L911.5 808.5L912.5 808.5L913.5 807.6L914.5 808.5L915.5 808.5L916.5 807.1L917.5 807.3L918.5 807.9L919.5 808.5L920.5 807.3L921.5 806.9L922.5 807.5L923.5 806.9L924.5 807.7L925.5 808.1L926.5 807.9L927.5 807.2L928.5 806.8L929.5 808.5L930.5 807.9L931.5 807.9L932.5 807.9L933.5 808.4L934.5 808.5L935.5 808.5L936.5 808.5L937.5 807.7L938.5 807.2L939.5 807.0L940.5 808.5L941.5 807.1L942.5 808.1L943.5 808.5L944.5 807.7L945.5 807.7L946.5 807.8L947.5 808.5L948.5 808.5L949.5 808.5L950.5 807.0L951.5 808.4L952.5 807.9L953.5 807.8L954.5 808.5L955.5 808.5L956.5 808.5L957.5 808.5L958.5 808.5L959.5 807.9L960.5 808.1L961.5 808.5L962.5 808.0L963.5 807.2L964.5 808.1L965.5 808.5L966.5 808.5L967.5 807.2L968.5 807.7L969.5 807.3L970.5 807.6L971.5 808.5L972.5 807.9L973.5 807.6L974.5 807.4L975.5 807.8L976.5 808.4L977.5 807.7L978.5 807.3L979.5 807.3L980.5 807.4L981.5 808.5L982.5 807.3L983.5 808.5L984.5 807.2L985.5 808.5L986.5 807.5L987.5 808.5L988.5 807.9L989.5 807.0L990.5 807.0L991.5 808.5L992.5 808.2L993.5 808.0L994.5 807.7L995.5 808.4L996.5 808.0L997.5 807.0L998.5 808.1L999.5 807.6L1000.5 808.5L1001.5 808.2L1002.5 808.5L1003.5 807.2L1004.5 808.4L1005.5 808.3L1006.5 808.5L1007.5 808.5L1008.5 808.2L1009.5 808.2L1010.5 808.5L1011.5 807.5L1012.5 808.1L1013.5 808.5L1014.5 808.3L1015.5 808.1L1016.5 808.5L1017.5 808.5L1018.5 807.6L1019.5 807.0L1020.5 808.2L1021.5 807.2L1022.5 808.5L1023.5 808.0L1024.5 808.1L1025.5 808.5L1026.5 808.5L1027.5 807.3L1028.5 807.8L1029.5 807.3L1030.5 807.8L1031.5 807.1L1032.5 808.5L1033.5 807.7L1034.5 807.7L1035.5 808.5L1036.5 808.5L1037.5 807.7L1038.5 808.0L1039.5 808.4L1040.5 807.3L1041.5 807.1L1042.5 808.5L1043.5 807.3L1044.5 808.4L1045.5 808.5L1046.5 808.3L1047.5 807.7L1048.5 808.5L1049.5 808.5L1050.5 807.1L1051.5 808.5L1052.5 808.4L1053.5 807.6L1054.5 807.2L1055.5 807.0L1056.5 808.5L1057.5 808.5L1058.5 807.7L1059.5 807.2L1060.5 807.0L1061.5 807.7L1062.5 807.5L1063.5 806.9L1064.5 807.4L1065.5 808.5L1066.5 807.1L1067.5 807.7L1068.5 808.0L1069.5 807.2L1070.5 806.9L1071.5 806.9L1072.5 807.1L1073.5 808.5L1074.5 808.5L1075.5 808.5L1076.5 808.5L1077.5 807.7L1078.5 807.4L1079.5 808.5L1080.5 808.3L1081.5 808.5L1082.5 807.8L1083.5 807.8L1084.5 808.5L1085.5 808.5L1086.5 807.3L1087.5 807.4L1088.5 806.8L1089.5 808.0L1090.5 808.5L1091.5 808.3L1092.5 807.2L1093.5 808.4L1094.5 808.4L1095.5 807.1L1096.5 808.5L1097.5 808.5L1098.5 808.0L1099.5 807.6L1100.5 807.2L1101.5 807.8L1102.5 807.7L1103.5 807.4L1104.5 808.3L1105.5 808.4L1106.5 808.5L1107.5 808.5L1108.5 808.0L1109.5 808.5L1110.5 807.8L1111.5 807.8L1112.5 808.1L1113.5 808.5L1114.5 807.1L1115.5 807.8L1116.5 807.6L1117.5 808.5L1118.5 808.5L1119.5 808.0L1120.5 807.0L1121.5 808.1L1122.5 808.2L1123.5 808.4L1124.5 808.5L1125.5 808.0L1126.5 808.1L1127.5 808.5L1128.5 807.0L1129.5 807.3L1130.5 808.4L1131.5 808.5L1132.5 808.5L1133.5 807.6L1134.5 808.5L1135.5 807.6L1136.5 807.9L1137.5 807.2L1138.5 808.2L1139.5 807.8L1140.5 808.4L1141.5 808.5L1142.5 807.3L1143.5 808.3L1144.5 808.3L1145.5 807.5L1146.5 806.9L1147.5 808.5L1148.5 808.5L1149.5 808.3L1150.5 807.1L1151.5 808.5L1152.5 807.9L1153.5 807.9L1154.5 808.1L1155.5 807.9L1156.5 808.5L1157.5 808.0L1158.5 808.4L1159.5 808.5L1160.5 808.5L1161.5 807.4L1162.5 807.6L1163.5 808.5L1164.5 808.3L1165.5 807.7L1166.5 808.5L1167.5 807.2L1168.5 807.4L1169.5 807.0L1170.5 808.3L1171.5 808.0L1172.5 807.6L1173.5 807.8L1174.5 807.4L1175.5 808.4L1176.5 808.5L1177.5 807.8L1178.5 808.5L1179.5 807.0L1180.5 808.1L1181.5 807.2L1182.5 807.0L1183.5 808.0L1184.5 807.1L1185.5 806.9L1186.5 807.1L1187.5 807.6L1188.5 808.5L1189.5 807.6L1190.5 807.1L1191.5 808.5L1192.5 808.5L1193.5 808.5L1194.5 807.1L1195.5 807.1L1196.5 807.8L1197.5 808.5L1198.5 808.2L1199.5 808.5L1200.5 807.5L1201.5 807.9L1202.5 808.4L1203.5 807.4L1204.5 808.0L1205.5 808.5L1206.5 808.5M733.5 808.5L735.0 802.4L736.5 808.5M744.0 808.5L745.5 804.9L747.0 808.5M763.0 808.5L764.5 805.5L766.0 808.5M776.1 808.5L777.6 803.5L779.1 808.5M791.5 808.5L793.0 805.3L794.5 808.5M807.2 808.5L808.7 803.7L810.2 808.5M826.7 808.5L828.2 805.9L829.7 808.5M848.0 808.5L849.5 805.2L851.0 808.5M866.8 808.5L868.3 803.7L869.8 808.5M886.0 808.5L887.5 805.2L889.0 808.5M896.5 808.5L898.0 805.6L899.5 808.5M914.7 808.5L916.2 803.6L917.7 808.5M923.2 808.5L924.7 805.1L926.2 808.5M929.6 808.5L931.1 805.1L932.6 808.5M944.1 808.5L945.6 804.0L947.1 808.5M961.1 808.5L962.6 805.7L964.1 808.5M980.3 808.5L981.8 801.6L983.3 808.5M997.9 808.5L999.4 802.7L1000.9 808.5M1017.4 808.5L1018.9 805.6L1020.4 808.5M1030.2 808.5L1031.7 805.6L1033.2 808.5M1048.5 808.5L1050.0 803.6L1051.5 808.5M1055.3 808.5L1056.8 804.0L1058.3 808.5M1073.5 808.5L1075.0 803.5L1076.5 808.5M1080.6 808.5L1082.1 801.8L1083.6 808.5M1086.5 808.5L1088.0 802.2L1089.5 808.5M1108.1 808.5L1109.6 802.6L1111.1 808.5M1129.2 808.5L1130.7 803.6L1132.2 808.5M1137.9 808.5L1139.4 803.9L1140.9 808.5M1155.4 808.5L1156.9 802.5L1158.4 808.5M1167.0 808.5L1168.5 801.7L1170.0 808.5M1172.6 808.5L1174.1 803.8L1175.6 808.5M1178.2 808.5L1179.7 804.4L1181.2 808.5M1200.1 808.5L1201.6 805.5L1203.1 808.5" stroke="#ff2214" stroke-width="1.7"/>
</g>
<rect x="703.8" y="458.3" width="503.5" height="351.3" fill="none" stroke="#111" stroke-width="1.6"/>
<line x1="725.8" y1="809.6" x2="725.8" y2="802.6" stroke="#111" stroke-width="1.3"/>
<text x="725.3" y="835.3" font-size="24.5" text-anchor="middle" fill="#1a1a1a">3.6</text>
<line x1="794.7" y1="809.6" x2="794.7" y2="802.6" stroke="#111" stroke-width="1.3"/>
<text x="794.2" y="835.3" font-size="24.5" text-anchor="middle" fill="#1a1a1a">5.4</text>
<line x1="863.8" y1="809.6" x2="863.8" y2="802.6" stroke="#111" stroke-width="1.3"/>
<text x="863.3" y="835.3" font-size="24.5" text-anchor="middle" fill="#1a1a1a">7.2</text>
<line x1="934.0" y1="809.6" x2="934.0" y2="802.6" stroke="#111" stroke-width="1.3"/>
<text x="933.5" y="835.3" font-size="24.5" text-anchor="middle" fill="#1a1a1a">9.0</text>
<line x1="1002.4" y1="809.6" x2="1002.4" y2="802.6" stroke="#111" stroke-width="1.3"/>
<text x="1001.9" y="835.3" font-size="24.5" text-anchor="middle" fill="#1a1a1a">10.8</text>
<line x1="1071.5" y1="809.6" x2="1071.5" y2="802.6" stroke="#111" stroke-width="1.3"/>
<text x="1071.0" y="835.3" font-size="24.5" text-anchor="middle" fill="#1a1a1a">12.6</text>
<line x1="1139.2" y1="809.6" x2="1139.2" y2="802.6" stroke="#111" stroke-width="1.3"/>
<text x="1138.7" y="835.3" font-size="24.5" text-anchor="middle" fill="#1a1a1a">14.4</text>
<text x="1205.8" y="835.3" font-size="24.5" text-anchor="middle" fill="#1a1a1a">16.2</text>
<text x="971" y="863" font-size="24.3" text-anchor="middle" fill="#1a1a1a">Distance/μm</text>
<text x="708.5" y="483.5" font-size="24" fill="#1a1a1a">(d)</text>
<line x1="868.3" y1="481.8" x2="919" y2="481.8" stroke="#1fbe2e" stroke-width="3.0"/>
<text x="934.5" y="488.2" font-size="24.3" fill="#1a1a1a">O</text>
<line x1="868.3" y1="502.0" x2="919" y2="502.0" stroke="#a5161f" stroke-width="2.4"/>
<text x="934.5" y="509.5" font-size="24.3" fill="#1a1a1a">Cr</text>
<line x1="868.3" y1="525.0" x2="919" y2="525.0" stroke="#ff2a14" stroke-width="2.0"/>
<text x="934.5" y="531.5" font-size="24.3" fill="#1a1a1a">Zr</text>
<line x1="868.3" y1="547.0" x2="919" y2="547.0" stroke="#0d5a66" stroke-width="2.4"/>
<text x="934.5" y="553.3" font-size="24.3" fill="#1a1a1a">Mo</text>
<line x1="868.3" y1="568.7" x2="919" y2="568.7" stroke="#a39c1c" stroke-width="3.0"/>
<text x="934.5" y="575.6" font-size="24.3" fill="#1a1a1a">Fe, Co, Ni</text>
<defs><linearGradient id="gor" x1="0" y1="0" x2="0" y2="1"><stop offset="0" stop-color="#fb4d05"/><stop offset="0.2" stop-color="#fe5a02"/><stop offset="0.41" stop-color="#ff7a05"/><stop offset="0.58" stop-color="#fe9c3c"/><stop offset="0.72" stop-color="#feb661"/><stop offset="0.88" stop-color="#fdc772"/><stop offset="1" stop-color="#fdd07a"/></linearGradient></defs>
<rect x="210.3" y="1127.3" width="79.3" height="174.5" fill="url(#gor)" stroke="#1a1a1a" stroke-width="1.2"/>
<rect x="368.6" y="1093.2" width="79.4" height="208.6" fill="url(#gor)" stroke="#1a1a1a" stroke-width="1.2"/>
<rect x="526.6" y="979.8" width="80.2" height="322.0" fill="url(#gor)" stroke="#1a1a1a" stroke-width="1.2"/>
<rect x="171.3" y="920.0" width="474.6" height="381.8" fill="none" stroke="#111" stroke-width="1.8"/>
<path d="M251.0 1106.8V1150.5M245.8 1106.8h10.4M245.8 1150.5h10.4" stroke="#0a0a0a" stroke-width="3.3" fill="none"/>
<line x1="251.0" y1="1301.8" x2="251.0" y2="1293.8" stroke="#111" stroke-width="1.4"/>
<path d="M409.0 1062.2V1124.6M403.8 1062.2h10.4M403.8 1124.6h10.4" stroke="#0a0a0a" stroke-width="3.3" fill="none"/>
<line x1="409.0" y1="1301.8" x2="409.0" y2="1293.8" stroke="#111" stroke-width="1.4"/>
<path d="M567.9 935.9V1023.7M562.6999999999999 935.9h10.4M562.6999999999999 1023.7h10.4" stroke="#0a0a0a" stroke-width="3.3" fill="none"/>
<line x1="567.9" y1="1301.8" x2="567.9" y2="1293.8" stroke="#111" stroke-width="1.4"/>
<text x="164" y="1309.8" font-size="24.5" text-anchor="end" fill="#1a1a1a">0</text>
<line x1="171.3" y1="1249.1" x2="179.8" y2="1249.1" stroke="#111" stroke-width="1.5"/>
<text x="164" y="1257.4" font-size="24.5" text-anchor="end" fill="#1a1a1a">0.5</text>
<line x1="171.3" y1="1192.7" x2="179.8" y2="1192.7" stroke="#111" stroke-width="1.5"/>
<text x="164" y="1201.0" font-size="24.5" text-anchor="end" fill="#1a1a1a">1.0</text>
<line x1="171.3" y1="1138.8" x2="179.8" y2="1138.8" stroke="#111" stroke-width="1.5"/>
<text x="164" y="1147.1" font-size="24.5" text-anchor="end" fill="#1a1a1a">1.5</text>
<line x1="171.3" y1="1083.9" x2="179.8" y2="1083.9" stroke="#111" stroke-width="1.5"/>
<text x="164" y="1092.2" font-size="24.5" text-anchor="end" fill="#1a1a1a">2.0</text>
<line x1="171.3" y1="1028.8" x2="179.8" y2="1028.8" stroke="#111" stroke-width="1.5"/>
<text x="164" y="1037.1" font-size="24.5" text-anchor="end" fill="#1a1a1a">2.5</text>
<line x1="171.3" y1="974.0" x2="179.8" y2="974.0" stroke="#111" stroke-width="1.5"/>
<text x="164" y="982.3" font-size="24.5" text-anchor="end" fill="#1a1a1a">3.0</text>
<text x="164" y="928.3" font-size="24.5" text-anchor="end" fill="#1a1a1a">3.5</text>
<text x="250.5" y="1326.5" font-size="24.5" text-anchor="middle" fill="#1a1a1a">15</text>
<text x="409" y="1326.5" font-size="24.5" text-anchor="middle" fill="#1a1a1a">30</text>
<text x="567.5" y="1326.5" font-size="24.5" text-anchor="middle" fill="#1a1a1a">60</text>
<text x="408" y="1354" font-size="24.5" text-anchor="middle" fill="#1a1a1a">Oxidation time/min</text>
<text transform="translate(125.5,1110) rotate(-90)" font-size="24.5" text-anchor="middle" fill="#1a1a1a">Thickness/μm</text>
<text x="184.5" y="947" font-size="24" fill="#1a1a1a">(e)</text>
<text x="280" y="982.5" font-size="24.3" fill="#1a1a1a" >Cr<tspan font-size="16.0" dy="6.1">2</tspan><tspan dy="-6.1">O</tspan><tspan font-size="16.0" dy="6.1">3</tspan><tspan dy="-6.1"> layer</tspan></text>
<defs><linearGradient id="gf1" x1="0" y1="0" x2="0" y2="1"><stop offset="0" stop-color="#ff5203"/><stop offset="0.3" stop-color="#ff6204"/><stop offset="0.6" stop-color="#ff8c0c"/><stop offset="1" stop-color="#ffae32"/></linearGradient><linearGradient id="gf2" x1="0" y1="0" x2="0" y2="1"><stop offset="0" stop-color="#05760a"/><stop offset="0.3" stop-color="#07860b"/><stop offset="0.42" stop-color="#0f962a"/><stop offset="0.62" stop-color="#4ccd6f"/><stop offset="0.78" stop-color="#70e58f"/><stop offset="1" stop-color="#7cf09b"/></linearGradient><linearGradient id="gf3" x1="0" y1="0" x2="0" y2="1"><stop offset="0" stop-color="#0414e4"/><stop offset="0.25" stop-color="#0030f4"/><stop offset="0.43" stop-color="#0a62fc"/><stop offset="0.6" stop-color="#408efc"/><stop offset="0.75" stop-color="#66aafc"/><stop offset="1" stop-color="#86c6fc"/></linearGradient><linearGradient id="gf4" x1="0" y1="0" x2="0" y2="1"><stop offset="0" stop-color="#0a7890"/><stop offset="0.22" stop-color="#067c96"/><stop offset="0.4" stop-color="#04a0b3"/><stop offset="0.5" stop-color="#14b4c5"/><stop offset="0.65" stop-color="#50dbe8"/><stop offset="0.8" stop-color="#78f2fa"/><stop offset="1" stop-color="#86fbff"/></linearGradient></defs>
<rect x="759.8" y="1139.8" width="77.6" height="161.7" fill="url(#gf1)" stroke="#1a1a1a" stroke-width="1.3"/>
<rect x="879.5" y="1033.6" width="77.5" height="267.9" fill="url(#gf2)" stroke="#1a1a1a" stroke-width="1.3"/>
<rect x="998.3" y="1028.2" width="77.6" height="273.3" fill="url(#gf3)" stroke="#1a1a1a" stroke-width="1.3"/>
<rect x="1116.8" y="946.4" width="77.7" height="355.1" fill="url(#gf4)" stroke="#1a1a1a" stroke-width="1.3"/>
<rect x="740.3" y="920.0" width="475.3" height="381.5" fill="none" stroke="#111" stroke-width="1.8"/>
<line x1="798.6" y1="1301.5" x2="798.6" y2="1293.5" stroke="#111" stroke-width="1.4"/>
<text x="799.1" y="1327.5" font-size="24.5" text-anchor="middle" fill="#1a1a1a">FeCoNiCrMo</text>
<line x1="918.2" y1="1301.5" x2="918.2" y2="1293.5" stroke="#111" stroke-width="1.4"/>
<text x="918.8" y="1327.5" font-size="24.5" text-anchor="middle" fill="#1a1a1a">Cr-1</text>
<line x1="1037.1" y1="1301.5" x2="1037.1" y2="1293.5" stroke="#111" stroke-width="1.4"/>
<text x="1037.6" y="1327.5" font-size="24.5" text-anchor="middle" fill="#1a1a1a">Cr-2</text>
<line x1="1155.7" y1="1301.5" x2="1155.7" y2="1293.5" stroke="#111" stroke-width="1.4"/>
<text x="1156.2" y="1327.5" font-size="24.5" text-anchor="middle" fill="#1a1a1a">Cr-3</text>
<text x="731" y="1309.8" font-size="24.5" text-anchor="end" fill="#1a1a1a">0</text>
<line x1="740.3" y1="1247.0" x2="749.3" y2="1247.0" stroke="#111" stroke-width="1.4"/>
<text x="731" y="1255.3" font-size="24.5" text-anchor="end" fill="#1a1a1a">1</text>
<line x1="740.3" y1="1192.5" x2="749.3" y2="1192.5" stroke="#111" stroke-width="1.4"/>
<text x="731" y="1200.8" font-size="24.5" text-anchor="end" fill="#1a1a1a">2</text>
<line x1="740.3" y1="1138.0" x2="749.3" y2="1138.0" stroke="#111" stroke-width="1.4"/>
<text x="731" y="1146.3" font-size="24.5" text-anchor="end" fill="#1a1a1a">3</text>
<line x1="740.3" y1="1083.5" x2="749.3" y2="1083.5" stroke="#111" stroke-width="1.4"/>
<text x="731" y="1091.8" font-size="24.5" text-anchor="end" fill="#1a1a1a">4</text>
<line x1="740.3" y1="1029.0" x2="749.3" y2="1029.0" stroke="#111" stroke-width="1.4"/>
<text x="731" y="1037.3" font-size="24.5" text-anchor="end" fill="#1a1a1a">5</text>
<line x1="740.3" y1="974.5" x2="749.3" y2="974.5" stroke="#111" stroke-width="1.4"/>
<text x="731" y="982.8" font-size="24.5" text-anchor="end" fill="#1a1a1a">6</text>
<text x="731" y="928.3" font-size="24.5" text-anchor="end" fill="#1a1a1a">7</text>
<text transform="translate(699.5,1110) rotate(-90)" font-size="24.5" text-anchor="middle" fill="#1a1a1a">Thickness/μm</text>
<text x="755.5" y="948" font-size="24" fill="#1a1a1a">(f)</text>
<text x="849.5" y="1001.5" font-size="24.3" fill="#1a1a1a" >Cr<tspan font-size="16.0" dy="6.1">2</tspan><tspan dy="-6.1">O</tspan><tspan font-size="16.0" dy="6.1">3</tspan><tspan dy="-6.1"> layer</tspan></text>
</svg>
<div class="cap last" id="c0" style="top:1374.4px"><b>图<span class="g"></span>8</b><span class="g2"></span>FeCoNiCrMo<span class="g"></span>涂层在<span class="g"></span>1100<span class="g"></span>℃蒸汽环境中不同氧化时间横截面形貌以及<span class="g"></span>FeCoNiCrMo<span class="g"></span>涂层和纯<span class="g"></span>Cr<span class="g"></span>涂层上<span class="g"></span>Cr<sub>2</sub>O<sub>3</sub><span class="g"></span>氧</div>
<div class="cap last" id="c1" style="top:1414.8px">化膜厚度<sup>[49−51]</sup></div>
<div class="cap " id="c2" style="top:1453.7px"><b>Fig. 8</b>&emsp;Cross-sectional morphologies of FeCoNiCrMo coating in 1100 ℃ steam environment at different oxidation time and</div>
<div class="cap " id="c3" style="top:1493.1px">thickness of Cr<sub>2</sub>O<sub>3</sub> oxide film on FeCoNiCrMo coating and pure Cr coating<sup>[49−51]</sup>: (a) 15 min; (b) 30 min; (c) 60 min;</div>
<div class="cap " id="c4" style="top:1532.5px">(d) Cross section SEM images and line scan of oxide film after 15 min; (e) Thickness of Cr<sub>2</sub>O<sub>3</sub> oxide films on FeCoNiCrMo</div>
<div class="cap last" id="c5" style="top:1572px">coating after oxidation; (f) Thickness of Cr<sub>2</sub>O<sub>3</sub> oxide films after 60 min oxidation on pure Cr coating</div>
</div></body></html>
